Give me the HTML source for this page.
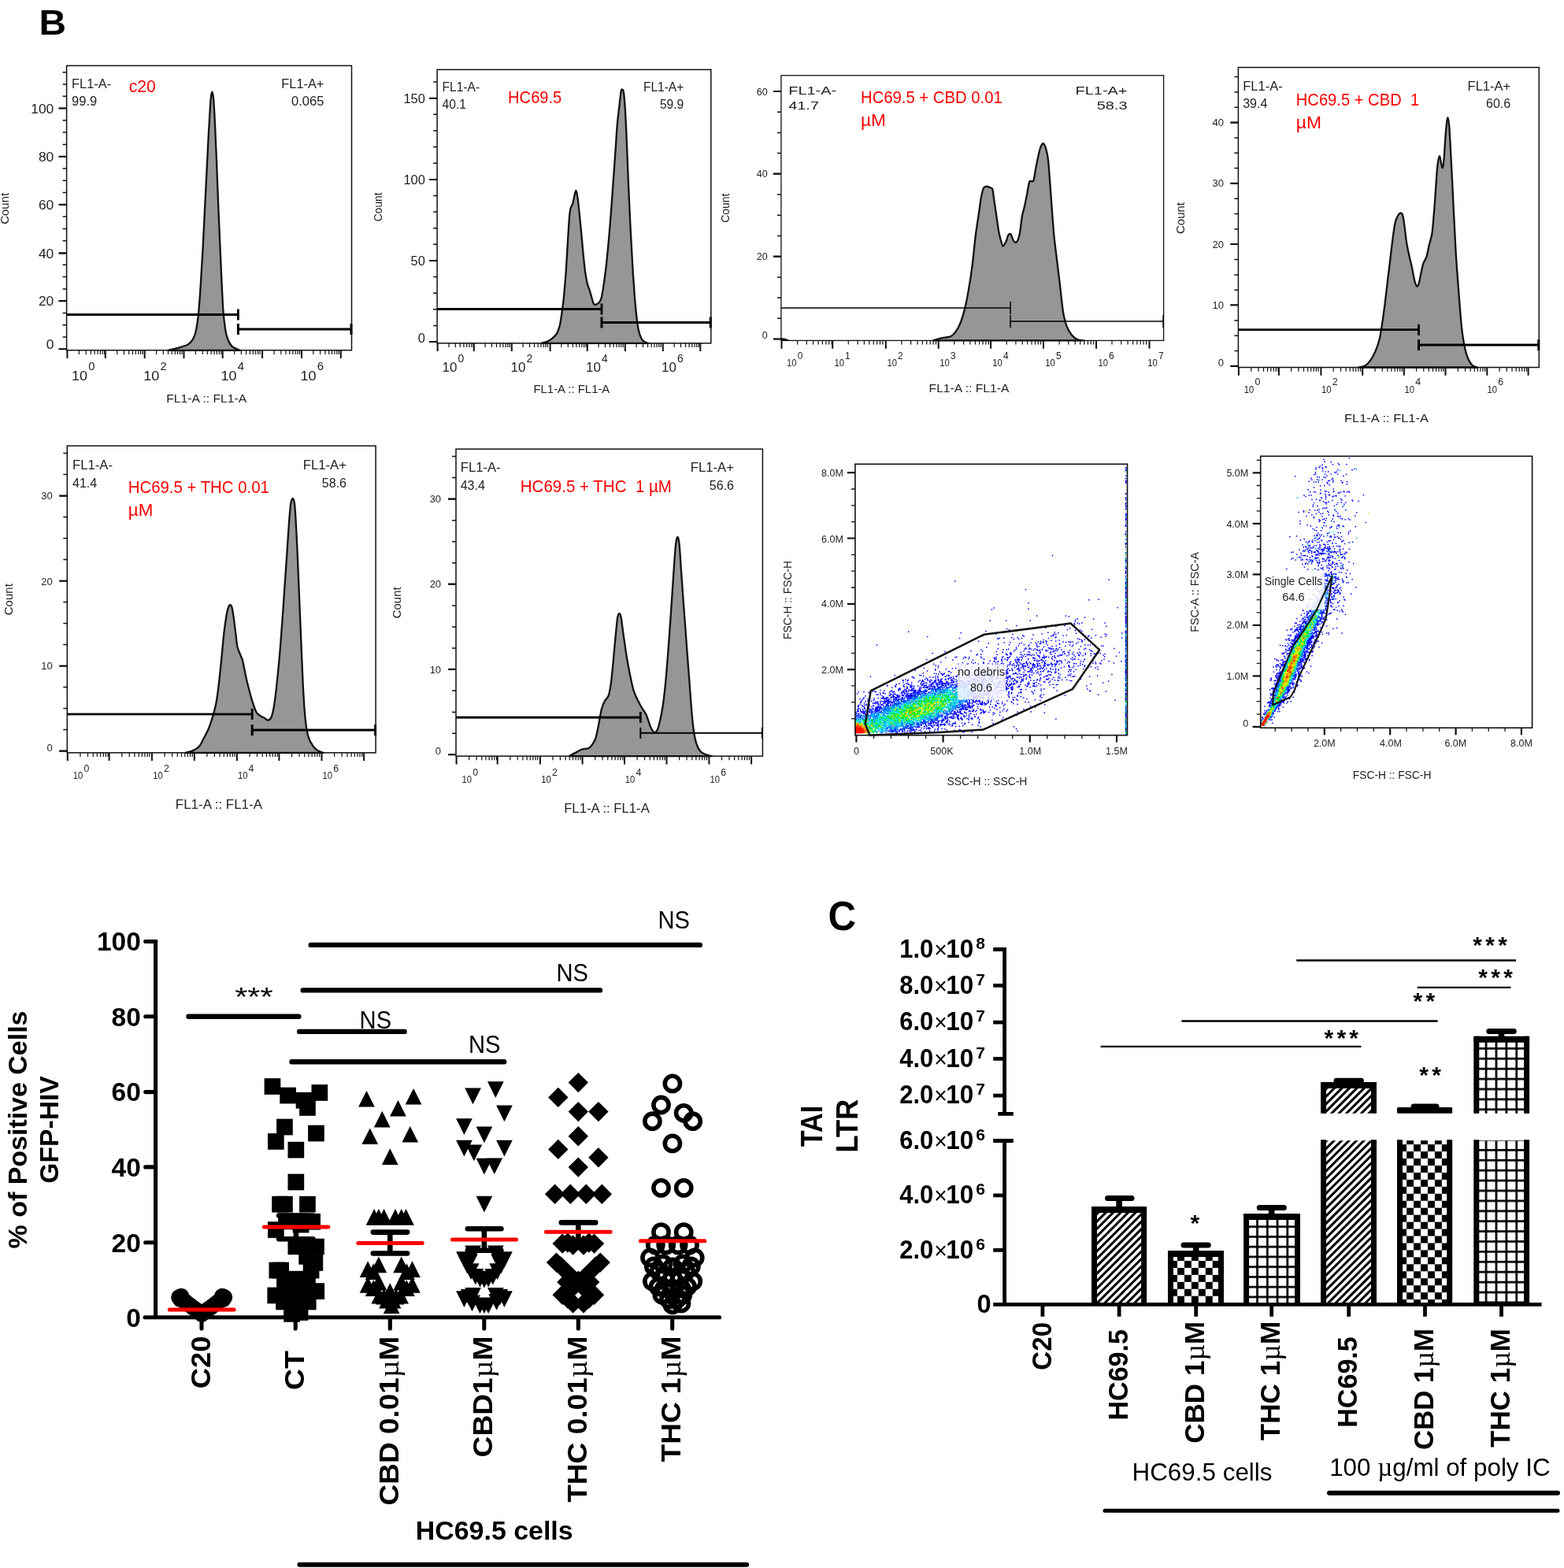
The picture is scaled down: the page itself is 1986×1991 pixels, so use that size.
<!DOCTYPE html>
<html lang="en">
<head>
<meta charset="utf-8">
<title>Figure</title>
<style>
html,body{margin:0;padding:0;background:#fff;}
body{width:1986px;height:1991px;overflow:hidden;}
svg{display:block;font-family:"Liberation Sans",sans-serif;}
</style>
</head>
<body>
<svg width="1986" height="1991" viewBox="0 0 1986 1991">
<rect width="1986" height="1991" fill="#fff"/>
<!-- hist -->
<g>
<path d="M213.6 444.8 C215.9 444.2 223.5 442.6 227.8 441.3 C232.1 440.1 236.2 439 239.2 437.1 C242.1 435.2 243.8 433 245.4 430 C247.1 426.9 248.1 423.8 249.1 418.6 C250.2 413.3 251 408.1 252 398.6 C252.9 389.1 253.9 375.9 254.8 361.6 C255.8 347.4 256.7 330.8 257.7 313.2 C258.6 295.7 259.6 275.2 260.5 256.3 C261.5 237.3 262.5 215.9 263.4 199.3 C264.2 182.7 264.9 168.9 265.7 156.6 C266.4 144.3 267 131.9 267.7 125.3 C268.3 118.6 268.8 116.7 269.4 116.7 C269.9 116.7 270.5 119.1 271.1 125.3 C271.6 131.5 272.2 141.4 272.8 153.8 C273.4 166.1 274 179.9 274.8 199.3 C275.6 218.8 276.7 247.7 277.6 270.5 C278.6 293.3 279.5 315.6 280.5 336 C281.4 356.4 282.4 379.2 283.3 392.9 C284.3 406.7 285.2 412.4 286.2 418.6 C287.1 424.7 287.6 426.4 289 430 C290.4 433.5 292.1 437.5 294.7 439.9 C297.3 442.4 303 444 304.7 444.8Z" fill="#969696" stroke="#111" stroke-width="2.3" stroke-linejoin="round"/>
<rect x="84.6" y="83.4" width="361.9" height="361.3" fill="none" stroke="#111" stroke-width="1.5"/>
<path d="M74.6 443.3H84.6M79.6 428H84.6M79.6 412.8H84.6M79.6 397.5H84.6M74.6 382.2H84.6M79.6 366.9H84.6M79.6 351.6H84.6M79.6 336.3H84.6M74.6 321H84.6M79.6 305.7H84.6M79.6 290.4H84.6M79.6 275.1H84.6M74.6 259.9H84.6M79.6 244.6H84.6M79.6 229.3H84.6M79.6 214H84.6M74.6 198.7H84.6M79.6 183.4H84.6M79.6 168.1H84.6M79.6 152.8H84.6M74.6 137.5H84.6M79.6 122.2H84.6M79.6 106.9H84.6M79.6 91.7H84.6" stroke="#111" stroke-width="1.5" fill="none"/>
<path d="M74.6 137.5H84.6M74.6 198.7H84.6M74.6 259.7H84.6M74.6 321.8H84.6M74.6 382.1H84.6M74.6 443.3H84.6" stroke="#111" stroke-width="2.1" fill="none"/>
<text x="68.3" y="143.8" font-size="17.4" text-anchor="end" fill="#222">100</text>
<text x="68.3" y="205" font-size="17.4" text-anchor="end" fill="#222">80</text>
<text x="68.3" y="265.9" font-size="17.4" text-anchor="end" fill="#222">60</text>
<text x="68.3" y="328" font-size="17.4" text-anchor="end" fill="#222">40</text>
<text x="68.3" y="388.4" font-size="17.4" text-anchor="end" fill="#222">20</text>
<text x="68.3" y="443" font-size="17.4" text-anchor="end" fill="#222">0</text>
<text transform="translate(5.4 264.8) rotate(-90)" font-size="15" text-anchor="middle" fill="#222" dy="0.36em">Count</text>
<path d="M100.4 444.8V449.9M109.1 444.8V449.9M115.3 444.8V449.9M120.1 444.8V449.9M124 444.8V449.9M127.4 444.8V449.9M130.2 444.8V449.9M132.8 444.8V449.9M148.8 444.8V449.9M157.5 444.8V449.9M163.7 444.8V449.9M168.5 444.8V449.9M172.4 444.8V449.9M175.8 444.8V449.9M178.6 444.8V449.9M181.2 444.8V449.9M198.6 444.8V449.9M207.3 444.8V449.9M213.5 444.8V449.9M218.3 444.8V449.9M222.3 444.8V449.9M225.6 444.8V449.9M228.5 444.8V449.9M231 444.8V449.9M248.4 444.8V449.9M257.2 444.8V449.9M263.4 444.8V449.9M268.2 444.8V449.9M272.1 444.8V449.9M275.4 444.8V449.9M278.3 444.8V449.9M280.8 444.8V449.9M297.7 444.8V449.9M306.4 444.8V449.9M312.6 444.8V449.9M317.4 444.8V449.9M321.4 444.8V449.9M324.7 444.8V449.9M327.6 444.8V449.9M330.1 444.8V449.9M348.1 444.8V449.9M356.8 444.8V449.9M363 444.8V449.9M367.8 444.8V449.9M371.8 444.8V449.9M375.1 444.8V449.9M378 444.8V449.9M380.5 444.8V449.9M397.9 444.8V449.9M406.7 444.8V449.9M412.9 444.8V449.9M417.7 444.8V449.9M421.6 444.8V449.9M424.9 444.8V449.9M427.8 444.8V449.9M430.3 444.8V449.9" stroke="#111" stroke-width="1.2" fill="none"/>
<path d="M85.4 444.8V455.1M133.8 444.8V455.1M183.7 444.8V455.1M233.5 444.8V455.1M282.7 444.8V455.1M333.1 444.8V455.1M383 444.8V455.1M432.8 444.8V455.1" stroke="#111" stroke-width="2" fill="none"/>
<text x="91.1" y="482.6" font-size="17.4" fill="#222" textLength="20" lengthAdjust="spacingAndGlyphs">10</text>
<text x="112.3" y="470.1" font-size="14.8" fill="#222">0</text>
<text x="182.2" y="482.6" font-size="17.4" fill="#222" textLength="20" lengthAdjust="spacingAndGlyphs">10</text>
<text x="203.4" y="470.1" font-size="14.8" fill="#222">2</text>
<text x="280.5" y="482.6" font-size="17.4" fill="#222" textLength="20" lengthAdjust="spacingAndGlyphs">10</text>
<text x="301.7" y="470.1" font-size="14.8" fill="#222">4</text>
<text x="381.5" y="482.6" font-size="17.4" fill="#222" textLength="20" lengthAdjust="spacingAndGlyphs">10</text>
<text x="402.8" y="470.1" font-size="14.8" fill="#222">6</text>
<text x="262.2" y="511.1" font-size="15.5" text-anchor="middle" fill="#222" textLength="101.9" lengthAdjust="spacingAndGlyphs">FL1-A :: FL1-A</text>
<text x="91.1" y="111.9" font-size="16.5" fill="#222" textLength="50" lengthAdjust="spacingAndGlyphs">FL1-A-</text>
<text x="91.1" y="133.8" font-size="16.5" fill="#222">99.9</text>
<text x="411.4" y="111.9" font-size="16.5" text-anchor="end" fill="#222" textLength="54.1" lengthAdjust="spacingAndGlyphs">FL1-A+</text>
<text x="411.4" y="133.8" font-size="16.5" text-anchor="end" fill="#222">0.065</text>
<text x="163.7" y="116.7" font-size="22.5" fill="#f00" textLength="34.2" lengthAdjust="spacingAndGlyphs">c20</text>
<path d="M84.6 399.5H302.4 M302.4 392.5V406.5" stroke="#000" stroke-width="2.8" fill="none"/>
<path d="M302.4 418H446.5 M302.4 411V425 M446 411V425" stroke="#000" stroke-width="3" fill="none"/>
</g>
<g>
<path d="M687.4 435.8 C688.7 435.4 692.8 434.6 695.2 433.5 C697.6 432.4 699.7 431 701.7 429.3 C703.6 427.7 705.4 426.3 706.9 423.6 C708.4 421 709.7 417.6 710.8 413.3 C711.8 408.9 712.5 403.7 713.4 397.7 C714.2 391.6 715.1 385.6 716 376.9 C716.8 368.3 717.7 357.9 718.6 345.8 C719.4 333.7 720.4 316 721.1 304.3 C721.9 292.6 722.4 282.3 723 275.7 C723.5 269.2 723.8 267.7 724.5 264.8 C725.2 262 726.3 261.4 727.1 258.9 C727.9 256.4 728.5 252.6 729.2 249.8 C729.9 247 730.6 242 731.3 242 C732 242 732.7 245.5 733.3 249.8 C734 254.1 734.6 260.6 735.4 268 C736.2 275.3 737.1 284.8 738 293.9 C738.9 303 739.7 313.8 740.6 322.4 C741.5 331.1 742.3 339.5 743.2 345.8 C744.1 352.1 744.8 356.2 745.8 360.1 C746.7 364 747.9 365.9 748.9 369.1 C749.9 372.4 750.9 376.7 751.8 379.5 C752.6 382.3 753.3 384.8 754.1 386 C754.9 387.2 755.5 387.2 756.7 386.8 C757.9 386.4 760.2 385.1 761.4 383.4 C762.6 381.8 763.1 380.6 764 376.9 C764.8 373.3 765.6 367.9 766.6 361.4 C767.5 354.9 768.6 347.5 769.7 338 C770.7 328.5 771.9 316.8 773 304.3 C774.2 291.7 775.4 275.7 776.4 262.8 C777.4 249.8 778.1 238.5 779 226.4 C779.9 214.3 780.8 201.4 781.6 190.1 C782.4 178.9 782.9 168.1 783.7 159 C784.5 149.9 785.5 142.8 786.3 135.6 C787.1 128.5 787.9 119.8 788.6 116.2 C789.3 112.5 789.9 113.6 790.4 113.8 C791 114 791.4 113.4 792 117.5 C792.5 121.5 793.2 128.7 793.8 138.2 C794.4 147.7 795 159.8 795.6 174.5 C796.3 189.2 797 210 797.7 226.4 C798.4 242.9 799 257.1 799.8 273.1 C800.5 289.1 801.5 307.3 802.4 322.4 C803.2 337.6 804.1 351.9 805 364 C805.8 376.1 806.6 386 807.6 395.1 C808.5 404.2 809.5 412.6 810.7 418.4 C811.8 424.3 813.3 427.5 814.6 430.1 C815.9 432.7 816.9 433.1 818.4 434 C820 435 822.8 435.5 823.6 435.8Z" fill="#969696" stroke="#111" stroke-width="2.3" stroke-linejoin="round"/>
<rect x="555.1" y="88.4" width="347.7" height="347.4" fill="none" stroke="#111" stroke-width="1.5"/>
<path d="M545.1 434H555.1M550.1 413.4H555.1M550.1 392.8H555.1M550.1 372.2H555.1M550.1 351.5H555.1M545.1 330.9H555.1M550.1 310.3H555.1M550.1 289.7H555.1M550.1 269.1H555.1M550.1 248.4H555.1M545.1 227.8H555.1M550.1 207.2H555.1M550.1 186.6H555.1M550.1 166H555.1M550.1 145.3H555.1M545.1 124.7H555.1M550.1 104.1H555.1" stroke="#111" stroke-width="1.5" fill="none"/>
<path d="M545.1 124.7H555.1M545.1 228H555.1M545.1 331H555.1M545.1 434H555.1" stroke="#111" stroke-width="2.1" fill="none"/>
<text x="539.8" y="130.6" font-size="16.4" text-anchor="end" fill="#222">150</text>
<text x="539.8" y="233.9" font-size="16.4" text-anchor="end" fill="#222">100</text>
<text x="539.8" y="336.9" font-size="16.4" text-anchor="end" fill="#222">50</text>
<text x="539.8" y="434.7" font-size="16.4" text-anchor="end" fill="#222">0</text>
<text transform="translate(479.8 262.8) rotate(-90)" font-size="13.8" text-anchor="middle" fill="#222" dy="0.36em">Count</text>
<path d="M570 435.8V441M578.3 435.8V441M584.3 435.8V441M588.9 435.8V441M592.7 435.8V441M595.9 435.8V441M598.7 435.8V441M601.1 435.8V441M616.1 435.8V441M624.5 435.8V441M630.5 435.8V441M635.1 435.8V441M638.9 435.8V441M642.1 435.8V441M644.8 435.8V441M647.3 435.8V441M664.1 435.8V441M672.5 435.8V441M678.5 435.8V441M683.1 435.8V441M686.9 435.8V441M690.1 435.8V441M692.8 435.8V441M695.3 435.8V441M712.9 435.8V441M721.3 435.8V441M727.3 435.8V441M731.9 435.8V441M735.7 435.8V441M738.9 435.8V441M741.6 435.8V441M744.1 435.8V441M760.1 435.8V441M768.5 435.8V441M774.5 435.8V441M779.1 435.8V441M782.9 435.8V441M786.1 435.8V441M788.8 435.8V441M791.3 435.8V441M808.1 435.8V441M816.5 435.8V441M822.5 435.8V441M827.1 435.8V441M830.9 435.8V441M834.1 435.8V441M836.8 435.8V441M839.3 435.8V441M856.2 435.8V441M864.5 435.8V441M870.5 435.8V441M875.1 435.8V441M878.9 435.8V441M882.1 435.8V441M884.8 435.8V441M887.3 435.8V441" stroke="#111" stroke-width="1.2" fill="none"/>
<path d="M555.6 435.8V446.1M601.8 435.8V446.1M649.8 435.8V446.1M698.6 435.8V446.1M745.8 435.8V446.1M793.8 435.8V446.1M841.8 435.8V446.1M889.3 435.8V446.1" stroke="#111" stroke-width="2" fill="none"/>
<text x="561.6" y="471.6" font-size="16.4" fill="#222" textLength="18.9" lengthAdjust="spacingAndGlyphs">10</text>
<text x="581.6" y="459.8" font-size="13.9" fill="#222">0</text>
<text x="648.5" y="471.6" font-size="16.4" fill="#222" textLength="18.9" lengthAdjust="spacingAndGlyphs">10</text>
<text x="668.6" y="459.8" font-size="13.9" fill="#222">2</text>
<text x="744" y="471.6" font-size="16.4" fill="#222" textLength="18.9" lengthAdjust="spacingAndGlyphs">10</text>
<text x="764" y="459.8" font-size="13.9" fill="#222">4</text>
<text x="840" y="471.6" font-size="16.4" fill="#222" textLength="18.9" lengthAdjust="spacingAndGlyphs">10</text>
<text x="860" y="459.8" font-size="13.9" fill="#222">6</text>
<text x="725.9" y="498.9" font-size="15" text-anchor="middle" fill="#222" textLength="96.8" lengthAdjust="spacingAndGlyphs">FL1-A :: FL1-A</text>
<text x="561.6" y="116.2" font-size="15.6" fill="#222" textLength="47.5" lengthAdjust="spacingAndGlyphs">FL1-A-</text>
<text x="561.6" y="138.2" font-size="15.6" fill="#222">40.1</text>
<text x="868.3" y="116.2" font-size="15.6" text-anchor="end" fill="#222" textLength="51.4" lengthAdjust="spacingAndGlyphs">FL1-A+</text>
<text x="868.3" y="138.2" font-size="15.6" text-anchor="end" fill="#222">59.9</text>
<text x="645.1" y="131" font-size="22.5" fill="#f00" textLength="68.2" lengthAdjust="spacingAndGlyphs">HC69.5</text>
<path d="M555.1 392.5H764 M764 385.5V399.5" stroke="#000" stroke-width="2.8" fill="none"/>
<path d="M764 409.6H902.8 M764 402.6V416.6 M902.3 402.6V416.6" stroke="#000" stroke-width="3" fill="none"/>
</g>
<g>
<path d="M1184.9 432.4 C1186.4 431.9 1192.9 429.9 1195.8 429.2 C1198.7 428.6 1204.4 428.3 1206.7 427.4 C1209 426.4 1211.3 424.2 1212.9 422.1 C1214.6 419.9 1217.5 415.3 1219.1 411.2 C1220.8 407 1223.9 396.8 1225.4 390.9 C1226.8 385.1 1228.8 374.9 1230 367.6 C1231.3 360.3 1233.6 345.6 1234.7 336.5 C1235.9 327.3 1237.7 307.4 1238.8 299.1 C1239.8 290.8 1241.6 280.4 1242.5 274.2 C1243.4 268 1244.8 257 1245.6 252.4 C1246.4 247.7 1247.9 241.4 1248.7 239.3 C1249.6 237.2 1250.8 237 1251.8 236.8 C1252.9 236.6 1255.4 237.3 1256.5 237.8 C1257.6 238.2 1259.5 238 1260.2 239.9 C1261 241.9 1261.5 248.2 1262.1 252.4 C1262.7 256.5 1264.1 265.7 1264.9 271.1 C1265.7 276.5 1267.3 288.5 1268 292.9 C1268.8 297.2 1269.8 301.1 1270.5 303.8 C1271.3 306.4 1272.7 312.1 1273.6 312.5 C1274.6 312.9 1276.5 308.8 1277.4 306.9 C1278.3 305 1279.7 299.4 1280.5 298.2 C1281.3 296.9 1282.8 296.6 1283.6 297.5 C1284.4 298.5 1285.9 303.9 1286.7 305.3 C1287.5 306.7 1289 308 1289.8 307.8 C1290.7 307.6 1292.2 305.8 1292.9 303.8 C1293.7 301.8 1294.8 296.8 1295.4 292.9 C1296.1 288.9 1297.2 278.3 1297.9 274.2 C1298.7 270 1300.2 265.5 1301 261.7 C1301.9 258 1303.3 250.3 1304.2 246.2 C1305 242 1306.2 232.8 1307.3 230.6 C1308.3 228.4 1311.2 231.7 1312.2 229.7 C1313.3 227.6 1314.2 219.5 1315 215 C1315.9 210.6 1317.9 200.3 1318.8 196.3 C1319.7 192.4 1321.1 187.3 1321.9 185.4 C1322.7 183.6 1324.2 181.9 1325 182.3 C1325.8 182.7 1327.3 185.9 1328.1 188.6 C1328.9 191.3 1330.2 196.5 1330.9 202.6 C1331.6 208.6 1332.8 225 1333.4 233.7 C1334.1 242.4 1335.2 259.2 1335.9 268 C1336.6 276.7 1337.6 290.8 1338.4 299.1 C1339.2 307.4 1341.1 321.9 1342.1 330.2 C1343.1 338.5 1344.8 352.6 1345.9 361.4 C1346.9 370.1 1348.8 388.6 1349.9 395.6 C1351.1 402.7 1353.1 410.4 1354.6 414.3 C1356 418.2 1359 422.9 1360.8 425.2 C1362.7 427.5 1366.5 430.5 1368.6 431.4 C1370.7 432.4 1375.4 432.2 1376.4 432.4Z" fill="#969696" stroke="#111" stroke-width="2.3" stroke-linejoin="round"/>
<path d="M991.9 429.6 L997.1 430.2 L1002.1 432.4 L991.9 432.4Z" fill="#111" stroke="#111" stroke-width="1"/>
<rect x="991.9" y="95.8" width="485.7" height="336.6" fill="none" stroke="#111" stroke-width="1.3"/>
<path d="M981.9 430.5H991.9M986.9 404.3H991.9M986.9 378.1H991.9M986.9 351.9H991.9M981.9 325.7H991.9M986.9 299.5H991.9M986.9 273.2H991.9M986.9 247H991.9M981.9 220.8H991.9M986.9 194.6H991.9M986.9 168.4H991.9M986.9 142.2H991.9M981.9 116H991.9" stroke="#111" stroke-width="1.5" fill="none"/>
<path d="M981.9 116H991.9M981.9 220.6H991.9M981.9 325.6H991.9M981.9 430.5H991.9" stroke="#111" stroke-width="2.1" fill="none"/>
<text x="974.7" y="120.5" font-size="12.5" text-anchor="end" fill="#222">60</text>
<text x="974.7" y="225.1" font-size="12.5" text-anchor="end" fill="#222">40</text>
<text x="974.7" y="330.1" font-size="12.5" text-anchor="end" fill="#222">20</text>
<text x="974.7" y="430.4" font-size="12.5" text-anchor="end" fill="#222">0</text>
<text transform="translate(921.2 264.2) rotate(-90)" font-size="14" text-anchor="middle" fill="#222" dy="0.36em">Count</text>
<path d="M1012.6 432.4V437.5M1024.3 432.4V437.5M1032.6 432.4V437.5M1039.1 432.4V437.5M1044.4 432.4V437.5M1048.9 432.4V437.5M1052.7 432.4V437.5M1056.1 432.4V437.5M1077.3 432.4V437.5M1089.1 432.4V437.5M1097.4 432.4V437.5M1103.9 432.4V437.5M1109.2 432.4V437.5M1113.6 432.4V437.5M1117.5 432.4V437.5M1120.9 432.4V437.5M1144.9 432.4V437.5M1156.6 432.4V437.5M1165 432.4V437.5M1171.4 432.4V437.5M1176.7 432.4V437.5M1181.2 432.4V437.5M1185.1 432.4V437.5M1188.5 432.4V437.5M1211.8 432.4V437.5M1223.6 432.4V437.5M1231.9 432.4V437.5M1238.4 432.4V437.5M1243.7 432.4V437.5M1248.1 432.4V437.5M1252 432.4V437.5M1255.4 432.4V437.5M1278.2 432.4V437.5M1289.9 432.4V437.5M1298.2 432.4V437.5M1304.7 432.4V437.5M1310 432.4V437.5M1314.5 432.4V437.5M1318.3 432.4V437.5M1321.7 432.4V437.5M1345.1 432.4V437.5M1356.8 432.4V437.5M1365.2 432.4V437.5M1371.6 432.4V437.5M1376.9 432.4V437.5M1381.4 432.4V437.5M1385.3 432.4V437.5M1388.7 432.4V437.5M1412 432.4V437.5M1423.8 432.4V437.5M1432.1 432.4V437.5M1438.6 432.4V437.5M1443.9 432.4V437.5M1448.3 432.4V437.5M1452.2 432.4V437.5M1455.6 432.4V437.5" stroke="#111" stroke-width="1.2" fill="none"/>
<path d="M992.5 432.4V442.7M1057.2 432.4V442.7M1124.8 432.4V442.7M1191.7 432.4V442.7M1258.1 432.4V442.7M1325 432.4V442.7M1392 432.4V442.7M1459.5 432.4V442.7" stroke="#111" stroke-width="2" fill="none"/>
<text x="999" y="464.7" font-size="12.5" fill="#222" textLength="12.5" lengthAdjust="spacingAndGlyphs">10</text>
<text x="1012.7" y="455.7" font-size="11.9" fill="#222">0</text>
<text x="1059.4" y="464.7" font-size="12.5" fill="#222" textLength="12.5" lengthAdjust="spacingAndGlyphs">10</text>
<text x="1073.1" y="455.7" font-size="11.9" fill="#222">1</text>
<text x="1126.4" y="464.7" font-size="12.5" fill="#222" textLength="12.5" lengthAdjust="spacingAndGlyphs">10</text>
<text x="1140.1" y="455.7" font-size="11.9" fill="#222">2</text>
<text x="1193.3" y="464.7" font-size="12.5" fill="#222" textLength="12.5" lengthAdjust="spacingAndGlyphs">10</text>
<text x="1207" y="455.7" font-size="11.9" fill="#222">3</text>
<text x="1260.2" y="464.7" font-size="12.5" fill="#222" textLength="12.5" lengthAdjust="spacingAndGlyphs">10</text>
<text x="1273.9" y="455.7" font-size="11.9" fill="#222">4</text>
<text x="1327.2" y="464.7" font-size="12.5" fill="#222" textLength="12.5" lengthAdjust="spacingAndGlyphs">10</text>
<text x="1340.9" y="455.7" font-size="11.9" fill="#222">5</text>
<text x="1394.4" y="464.7" font-size="12.5" fill="#222" textLength="12.5" lengthAdjust="spacingAndGlyphs">10</text>
<text x="1408.1" y="455.7" font-size="11.9" fill="#222">6</text>
<text x="1457.3" y="464.7" font-size="12.5" fill="#222" textLength="12.5" lengthAdjust="spacingAndGlyphs">10</text>
<text x="1471" y="455.7" font-size="11.9" fill="#222">7</text>
<text x="1230.5" y="498.4" font-size="14" text-anchor="middle" fill="#222" textLength="101.8" lengthAdjust="spacingAndGlyphs">FL1-A :: FL1-A</text>
<text x="1001.2" y="120.1" font-size="15" fill="#222" textLength="61" lengthAdjust="spacingAndGlyphs">FL1-A-</text>
<text x="1001.2" y="138.7" font-size="15" fill="#222" textLength="38.8" lengthAdjust="spacingAndGlyphs">41.7</text>
<text x="1431.5" y="120.1" font-size="15" text-anchor="end" fill="#222" textLength="66" lengthAdjust="spacingAndGlyphs">FL1-A+</text>
<text x="1431.5" y="138.7" font-size="15" text-anchor="end" fill="#222" textLength="38.8" lengthAdjust="spacingAndGlyphs">58.3</text>
<text x="1093" y="131" font-size="22.5" fill="#f00" textLength="179.7" lengthAdjust="spacingAndGlyphs">HC69.5 + CBD 0.01</text>
<text x="1093" y="159.6" font-size="22.5" fill="#f00" textLength="31.8" lengthAdjust="spacingAndGlyphs">µM</text>
<path d="M991.9 390.9H1283 M1283 382.9V398.9" stroke="#000" stroke-width="1.5" fill="none"/>
<path d="M1283 408.1H1477.6 M1283 400.1V416.1 M1477.1 400.1V416.1" stroke="#000" stroke-width="1.5" fill="none"/>
</g>
<g>
<path d="M1725.5 466.5 C1726.5 466.2 1731.5 465.6 1733.4 464.4 C1735.3 463.2 1738.2 460.3 1740 457.8 C1741.8 455.3 1745 449.6 1746.6 445.9 C1748.2 442.2 1750.6 435.4 1751.9 430.1 C1753.1 424.8 1754.8 413 1755.8 406.3 C1756.8 399.7 1758.4 387 1759.3 379.9 C1760.1 372.9 1761.6 360.6 1762.4 353.5 C1763.3 346.5 1764.8 334.2 1765.6 327.2 C1766.4 320.1 1768 306.7 1768.8 300.8 C1769.6 294.8 1770.8 285.9 1771.7 282.3 C1772.5 278.7 1774.2 275.4 1775.1 273.8 C1776.1 272.2 1778 270.3 1778.8 270.4 C1779.6 270.5 1780.8 272.1 1781.4 274.4 C1782.1 276.6 1782.9 283 1783.5 287.6 C1784.2 292.1 1785.4 303.7 1786.2 308.7 C1787 313.6 1788.5 320.5 1789.4 324.5 C1790.2 328.6 1791.9 334.8 1792.8 339 C1793.7 343.3 1795.3 352.9 1796.2 356.2 C1797.1 359.5 1798.6 363.2 1799.4 363.6 C1800.2 363.9 1801.3 361.2 1802 358.8 C1802.7 356.4 1804 348.9 1804.7 345.6 C1805.4 342.4 1806.4 337.2 1807.3 334.5 C1808.2 331.9 1810.5 328.9 1811.5 325.8 C1812.5 322.7 1813.8 315.2 1814.7 311.3 C1815.6 307.4 1817.5 302.4 1818.4 296.8 C1819.2 291.2 1820.4 276.6 1821 269.1 C1821.7 261.5 1822.6 247.8 1823.1 240 C1823.7 232.3 1824.6 216.6 1825.3 211 C1825.9 205.5 1827.3 198.9 1827.9 198.3 C1828.5 197.8 1829.5 205.1 1830 207.1 C1830.5 209 1831.4 214 1831.9 213.1 C1832.3 212.2 1833.2 206.4 1833.7 200.5 C1834.2 194.5 1835.2 175.6 1835.8 168.8 C1836.4 162 1837.6 150.6 1838.2 149.5 C1838.8 148.5 1839.8 155.1 1840.3 160.9 C1840.8 166.6 1841.6 182.7 1842.1 192.5 C1842.7 202.4 1843.7 223.5 1844.3 234.8 C1844.8 246 1845.8 265.4 1846.4 277 C1847 288.6 1848 309.6 1848.7 321.9 C1849.5 334.2 1851.2 357.1 1852.2 369.4 C1853.1 381.7 1854.9 404.9 1855.9 414.3 C1856.9 423.6 1858.5 433.9 1859.6 439.3 C1860.7 444.8 1862.6 451.8 1864.1 455.2 C1865.5 458.5 1868.5 462.9 1870.1 464.4 C1871.7 465.9 1875.2 466.2 1875.9 466.5Z" fill="#969696" stroke="#111" stroke-width="2.3" stroke-linejoin="round"/>
<rect x="1572.4" y="85.6" width="381.9" height="380.9" fill="none" stroke="#111" stroke-width="1.5"/>
<path d="M1562.4 464.9H1572.4M1567.4 445.6H1572.4M1567.4 426.3H1572.4M1567.4 406.9H1572.4M1562.4 387.6H1572.4M1567.4 368.3H1572.4M1567.4 348.9H1572.4M1567.4 329.6H1572.4M1562.4 310.3H1572.4M1567.4 290.9H1572.4M1567.4 271.6H1572.4M1567.4 252.3H1572.4M1562.4 232.9H1572.4M1567.4 213.6H1572.4M1567.4 194.3H1572.4M1567.4 174.9H1572.4M1562.4 155.6H1572.4M1567.4 136.2H1572.4M1567.4 116.9H1572.4M1567.4 97.6H1572.4" stroke="#111" stroke-width="1.5" fill="none"/>
<path d="M1562.4 155.6H1572.4M1562.4 232.7H1572.4M1562.4 310H1572.4M1562.4 387.3H1572.4M1562.4 464.9H1572.4" stroke="#111" stroke-width="2.1" fill="none"/>
<text x="1553.9" y="160.3" font-size="13" text-anchor="end" fill="#222">40</text>
<text x="1553.9" y="237.3" font-size="13" text-anchor="end" fill="#222">30</text>
<text x="1553.9" y="314.7" font-size="13" text-anchor="end" fill="#222">20</text>
<text x="1553.9" y="392" font-size="13" text-anchor="end" fill="#222">10</text>
<text x="1553.9" y="465" font-size="13" text-anchor="end" fill="#222">0</text>
<text transform="translate(1499 277) rotate(-90)" font-size="15" text-anchor="middle" fill="#222" dy="0.36em">Count</text>
<path d="M1588.7 466.5V471.7M1598 466.5V471.7M1604.5 466.5V471.7M1609.6 466.5V471.7M1613.8 466.5V471.7M1617.3 466.5V471.7M1620.3 466.5V471.7M1623 466.5V471.7M1639.7 466.5V471.7M1648.9 466.5V471.7M1655.5 466.5V471.7M1660.6 466.5V471.7M1664.7 466.5V471.7M1668.2 466.5V471.7M1671.3 466.5V471.7M1674 466.5V471.7M1693.2 466.5V471.7M1702.5 466.5V471.7M1709.1 466.5V471.7M1714.2 466.5V471.7M1718.3 466.5V471.7M1721.8 466.5V471.7M1724.9 466.5V471.7M1727.6 466.5V471.7M1746 466.5V471.7M1755.3 466.5V471.7M1761.9 466.5V471.7M1766.9 466.5V471.7M1771.1 466.5V471.7M1774.6 466.5V471.7M1777.7 466.5V471.7M1780.4 466.5V471.7M1798.6 466.5V471.7M1807.8 466.5V471.7M1814.4 466.5V471.7M1819.5 466.5V471.7M1823.6 466.5V471.7M1827.1 466.5V471.7M1830.2 466.5V471.7M1832.9 466.5V471.7M1851.4 466.5V471.7M1860.6 466.5V471.7M1867.2 466.5V471.7M1872.3 466.5V471.7M1876.4 466.5V471.7M1879.9 466.5V471.7M1883 466.5V471.7M1885.7 466.5V471.7M1904.1 466.5V471.7M1913.4 466.5V471.7M1920 466.5V471.7M1925.1 466.5V471.7M1929.2 466.5V471.7M1932.7 466.5V471.7M1935.8 466.5V471.7M1938.5 466.5V471.7" stroke="#111" stroke-width="1.2" fill="none"/>
<path d="M1572.9 466.5V476.8M1623.9 466.5V476.8M1677.4 466.5V476.8M1730.2 466.5V476.8M1782.8 466.5V476.8M1835.5 466.5V476.8M1888.3 466.5V476.8M1940.6 466.5V476.8" stroke="#111" stroke-width="2" fill="none"/>
<text x="1579.8" y="498.7" font-size="13" fill="#222" textLength="12.5" lengthAdjust="spacingAndGlyphs">10</text>
<text x="1593.5" y="489.4" font-size="12.3" fill="#222">0</text>
<text x="1678" y="498.7" font-size="13" fill="#222" textLength="12.5" lengthAdjust="spacingAndGlyphs">10</text>
<text x="1691.7" y="489.4" font-size="12.3" fill="#222">2</text>
<text x="1783.5" y="498.7" font-size="13" fill="#222" textLength="12.5" lengthAdjust="spacingAndGlyphs">10</text>
<text x="1797.2" y="489.4" font-size="12.3" fill="#222">4</text>
<text x="1888.6" y="498.7" font-size="13" fill="#222" textLength="12.5" lengthAdjust="spacingAndGlyphs">10</text>
<text x="1902.3" y="489.4" font-size="12.3" fill="#222">6</text>
<text x="1760.5" y="535.7" font-size="15.5" text-anchor="middle" fill="#222" textLength="106.9" lengthAdjust="spacingAndGlyphs">FL1-A :: FL1-A</text>
<text x="1578.2" y="114.7" font-size="16" fill="#222" textLength="50.5" lengthAdjust="spacingAndGlyphs">FL1-A-</text>
<text x="1578.2" y="136.6" font-size="16" fill="#222">39.4</text>
<text x="1918.2" y="114.7" font-size="16" text-anchor="end" fill="#222" textLength="54.6" lengthAdjust="spacingAndGlyphs">FL1-A+</text>
<text x="1918.2" y="136.6" font-size="16" text-anchor="end" fill="#222">60.6</text>
<text x="1645.8" y="133.9" font-size="22.5" fill="#f00" textLength="156.3" lengthAdjust="spacingAndGlyphs">HC69.5 + CBD  1</text>
<text x="1645.8" y="163" font-size="22.5" fill="#f00" textLength="32.2" lengthAdjust="spacingAndGlyphs">µM</text>
<path d="M1572.4 418.7H1801.5 M1801.5 411.7V425.7" stroke="#000" stroke-width="2.8" fill="none"/>
<path d="M1801.5 438H1954.3 M1801.5 431V445 M1953.8 431V445" stroke="#000" stroke-width="3" fill="none"/>
</g>
<g>
<path d="M235.5 955.8 C236.7 955.4 242.6 954.2 244.9 953.1 C247.2 952 251.2 949.7 253 947.7 C254.8 945.7 256.7 941.3 258.3 938.3 C260 935.2 263.5 928.8 265.1 924.8 C266.7 920.9 269.1 913.3 270.5 908.7 C271.8 904 274 895.9 275 889.8 C276.1 883.7 277.6 870.8 278.5 862.9 C279.4 855 281 838.5 281.8 830.6 C282.5 822.7 283.7 810.2 284.4 803.7 C285.2 797.3 286.7 786.6 287.4 782.2 C288.2 777.8 289.4 772.8 290.1 770.9 C290.8 769 291.9 768.1 292.5 768.2 C293.1 768.3 294.1 769.7 294.7 772 C295.2 774.2 296.2 780.7 296.8 784.9 C297.4 789.1 298.6 798.9 299.2 803.7 C299.9 808.6 300.6 817.6 301.4 821.2 C302.2 824.8 304 828.3 304.9 830.6 C305.8 833 307.2 835.3 308.1 838.7 C309 842.1 310.7 851.7 311.6 856.2 C312.6 860.7 314.2 867.9 315.4 872.3 C316.5 876.8 318.9 885.5 320.2 889.8 C321.6 894.1 324 901.9 325.6 904.6 C327.2 907.3 330.9 909.1 332.3 910 C333.8 911 335.3 911.3 336.4 911.9 C337.5 912.5 339.3 914.7 340.4 914.6 C341.5 914.5 343.5 913.1 344.5 910.8 C345.4 908.6 346.8 903.2 347.7 897.9 C348.6 892.6 350.3 879.3 351.2 871 C352.1 862.7 353.8 846.1 354.7 836 C355.6 826 357.1 807.1 357.9 795.7 C358.8 784.2 360.3 761.7 361.1 749.9 C362 738.1 363.3 718 364.1 706.8 C364.9 695.7 366.1 675.5 366.8 666.5 C367.5 657.5 368.5 644.1 369.2 639.6 C369.9 635.1 371.3 632.8 371.9 632.8 C372.6 632.9 373.5 635.6 374.1 640.1 C374.6 644.6 375.4 656.9 375.9 666.5 C376.5 676.1 377.5 699.3 378.1 712.2 C378.7 725.1 379.6 748.6 380.2 763.4 C380.9 778.1 382 806.8 382.7 822.6 C383.4 838.3 384.6 869.2 385.4 881.8 C386.1 894.3 387.2 909.6 388.1 916.7 C388.9 923.9 390.3 931.5 391.6 935.6 C392.8 939.7 396.1 945.4 397.7 947.7 C399.4 950 402 952 403.7 953.1 C405.3 954.2 409.5 955.4 410.4 955.8Z" fill="#969696" stroke="#111" stroke-width="2.3" stroke-linejoin="round"/>
<rect x="85.3" y="566.1" width="391.8" height="389.7" fill="none" stroke="#111" stroke-width="1.5"/>
<path d="M75.3 953.6H85.3M80.3 926.6H85.3M80.3 899.6H85.3M80.3 872.6H85.3M75.3 845.6H85.3M80.3 818.6H85.3M80.3 791.6H85.3M80.3 764.6H85.3M75.3 737.6H85.3M80.3 710.6H85.3M80.3 683.6H85.3M80.3 656.6H85.3M75.3 629.6H85.3M80.3 602.6H85.3M80.3 575.6H85.3" stroke="#111" stroke-width="1.5" fill="none"/>
<path d="M75.3 629.6H85.3M75.3 737.8H85.3M75.3 845.7H85.3M75.3 953.6H85.3" stroke="#111" stroke-width="2.1" fill="none"/>
<text x="66.7" y="634.3" font-size="13" text-anchor="end" fill="#222">30</text>
<text x="66.7" y="742.5" font-size="13" text-anchor="end" fill="#222">20</text>
<text x="66.7" y="850.4" font-size="13" text-anchor="end" fill="#222">10</text>
<text x="66.7" y="953.7" font-size="13" text-anchor="end" fill="#222">0</text>
<text transform="translate(10.8 761.2) rotate(-90)" font-size="15" text-anchor="middle" fill="#222" dy="0.36em">Count</text>
<path d="M102 955.8V960.9M111.5 955.8V960.9M118.2 955.8V960.9M123.4 955.8V960.9M127.7 955.8V960.9M131.3 955.8V960.9M134.4 955.8V960.9M137.1 955.8V960.9M154.8 955.8V960.9M164.2 955.8V960.9M170.9 955.8V960.9M176.2 955.8V960.9M180.4 955.8V960.9M184 955.8V960.9M187.1 955.8V960.9M189.9 955.8V960.9M209.1 955.8V960.9M218.6 955.8V960.9M225.3 955.8V960.9M230.5 955.8V960.9M234.8 955.8V960.9M238.4 955.8V960.9M241.5 955.8V960.9M244.2 955.8V960.9M262.9 955.8V960.9M272.4 955.8V960.9M279.1 955.8V960.9M284.3 955.8V960.9M288.6 955.8V960.9M292.2 955.8V960.9M295.3 955.8V960.9M298.1 955.8V960.9M317 955.8V960.9M326.5 955.8V960.9M333.2 955.8V960.9M338.4 955.8V960.9M342.7 955.8V960.9M346.3 955.8V960.9M349.4 955.8V960.9M352.1 955.8V960.9M370.6 955.8V960.9M380.1 955.8V960.9M386.8 955.8V960.9M392 955.8V960.9M396.2 955.8V960.9M399.8 955.8V960.9M402.9 955.8V960.9M405.7 955.8V960.9M424.7 955.8V960.9M434.1 955.8V960.9M440.9 955.8V960.9M446.1 955.8V960.9M450.3 955.8V960.9M453.9 955.8V960.9M457 955.8V960.9M459.8 955.8V960.9" stroke="#111" stroke-width="1.2" fill="none"/>
<path d="M85.8 955.8V966.1M138.6 955.8V966.1M192.9 955.8V966.1M246.8 955.8V966.1M300.9 955.8V966.1M354.4 955.8V966.1M408.5 955.8V966.1M462.1 955.8V966.1" stroke="#111" stroke-width="2" fill="none"/>
<text x="92.8" y="989.4" font-size="13" fill="#222" textLength="12.5" lengthAdjust="spacingAndGlyphs">10</text>
<text x="106.5" y="980" font-size="12.3" fill="#222">0</text>
<text x="194.3" y="989.4" font-size="13" fill="#222" textLength="12.5" lengthAdjust="spacingAndGlyphs">10</text>
<text x="208" y="980" font-size="12.3" fill="#222">2</text>
<text x="301.9" y="989.4" font-size="13" fill="#222" textLength="12.5" lengthAdjust="spacingAndGlyphs">10</text>
<text x="315.6" y="980" font-size="12.3" fill="#222">4</text>
<text x="409.6" y="989.4" font-size="13" fill="#222" textLength="12.5" lengthAdjust="spacingAndGlyphs">10</text>
<text x="423.3" y="980" font-size="12.3" fill="#222">6</text>
<text x="277.9" y="1027.1" font-size="16" text-anchor="middle" fill="#222" textLength="110.1" lengthAdjust="spacingAndGlyphs">FL1-A :: FL1-A</text>
<text x="92" y="596" font-size="16" fill="#222" textLength="51" lengthAdjust="spacingAndGlyphs">FL1-A-</text>
<text x="92" y="618.6" font-size="16" fill="#222">41.4</text>
<text x="440" y="596" font-size="16" text-anchor="end" fill="#222" textLength="55.2" lengthAdjust="spacingAndGlyphs">FL1-A+</text>
<text x="440" y="618.6" font-size="16" text-anchor="end" fill="#222">58.6</text>
<text x="162.8" y="625.6" font-size="22.5" fill="#f00" textLength="179" lengthAdjust="spacingAndGlyphs">HC69.5 + THC 0.01</text>
<text x="162.8" y="655.2" font-size="22.5" fill="#f00" textLength="31.5" lengthAdjust="spacingAndGlyphs">µM</text>
<path d="M85.3 906.8H320.2 M320.2 899.8V913.8" stroke="#000" stroke-width="2.8" fill="none"/>
<path d="M320.2 927H477.1 M320.2 920V934 M476.6 920V934" stroke="#000" stroke-width="3" fill="none"/>
</g>
<g>
<path d="M722.9 960.2 C723.9 959.5 728.8 956.7 731 955.6 C733.1 954.4 736.9 952.2 739.1 951.5 C741.2 950.8 745.4 951.1 747.2 950.2 C749 949.3 751.3 946.6 752.5 944.8 C753.8 943 755.6 939.9 756.6 936.7 C757.6 933.4 759.1 925.3 760.1 920.5 C761.1 915.6 762.8 904.4 763.9 900.2 C765 896.1 767 891.7 768.2 889.5 C769.4 887.2 771.7 886.7 772.8 883.2 C773.9 879.8 775.5 870 776.3 863.8 C777.1 857.6 778.3 844.4 779 836.8 C779.7 829.3 781 814.2 781.7 807.2 C782.4 800.1 783.5 788 784.1 784.2 C784.8 780.4 785.9 778.8 786.5 778.8 C787.2 778.8 788.1 781.2 788.7 784.2 C789.3 787.3 790.3 795.8 791.1 801.8 C792 807.7 793.8 821.5 794.9 828.7 C796.1 835.9 798.4 849.1 799.8 855.7 C801.1 862.4 803.4 873.3 805.2 878.7 C807 884 811.2 891.8 813.3 895.7 C815.3 899.5 818.9 903.9 820.6 907.5 C822.2 911.1 824.6 919.7 825.9 922.6 C827.3 925.6 829.6 929.4 830.8 929.9 C832 930.4 833.8 928.6 834.9 926.4 C835.9 924.3 837.4 918.1 838.4 913.7 C839.3 909.4 841.1 900.9 842.1 893.5 C843.1 886.1 844.9 869.6 845.9 858.4 C846.9 847.3 848.8 822.4 849.7 809.8 C850.6 797.3 852.1 775.5 852.9 764 C853.7 752.5 854.9 733.2 855.6 723.5 C856.3 713.8 857.4 696.7 858.1 691.1 C858.7 685.5 859.9 681.7 860.5 681.7 C861.1 681.7 862 685.2 862.6 691.1 C863.3 697.1 864.4 716.1 865.1 726.2 C865.8 736.3 867.1 754.4 868 766.7 C868.9 778.9 870.8 803.9 871.8 817.9 C872.9 832 874.8 858.2 875.9 871.9 C876.9 885.6 878.8 911 879.9 920.5 C881 930 882.7 938.9 884 943.4 C885.3 947.9 887.9 952.2 889.6 954.2 C891.4 956.2 895 957.5 896.9 958.3 C898.8 959.1 902.8 959.9 903.7 960.2Z" fill="#969696" stroke="#111" stroke-width="2.3" stroke-linejoin="round"/>
<rect x="579" y="570.2" width="389.4" height="389.9" fill="none" stroke="#111" stroke-width="1.5"/>
<path d="M569 958.3H579M574 931.2H579M574 904.2H579M574 877.1H579M569 850.1H579M574 823H579M574 796H579M574 768.9H579M569 741.8H579M574 714.8H579M574 687.7H579M574 660.7H579M569 633.6H579M574 606.6H579M574 579.5H579" stroke="#111" stroke-width="1.5" fill="none"/>
<path d="M569 633.6H579M569 741.6H579M569 849.8H579M569 958.3H579" stroke="#111" stroke-width="2.1" fill="none"/>
<text x="560.1" y="638.3" font-size="13" text-anchor="end" fill="#222">30</text>
<text x="560.1" y="746.3" font-size="13" text-anchor="end" fill="#222">20</text>
<text x="560.1" y="854.5" font-size="13" text-anchor="end" fill="#222">10</text>
<text x="560.1" y="958.3" font-size="13" text-anchor="end" fill="#222">0</text>
<text transform="translate(503.7 765.3) rotate(-90)" font-size="15" text-anchor="middle" fill="#222" dy="0.36em">Count</text>
<path d="M595.7 960.2V965.3M605.1 960.2V965.3M611.8 960.2V965.3M617 960.2V965.3M621.2 960.2V965.3M624.8 960.2V965.3M627.9 960.2V965.3M630.6 960.2V965.3M647.8 960.2V965.3M657.2 960.2V965.3M663.9 960.2V965.3M669.1 960.2V965.3M673.3 960.2V965.3M676.9 960.2V965.3M680 960.2V965.3M682.7 960.2V965.3M702 960.2V965.3M711.4 960.2V965.3M718.1 960.2V965.3M723.3 960.2V965.3M727.5 960.2V965.3M731.1 960.2V965.3M734.2 960.2V965.3M737 960.2V965.3M755.7 960.2V965.3M765.1 960.2V965.3M771.8 960.2V965.3M777 960.2V965.3M781.2 960.2V965.3M784.8 960.2V965.3M787.9 960.2V965.3M790.7 960.2V965.3M809.1 960.2V965.3M818.6 960.2V965.3M825.2 960.2V965.3M830.4 960.2V965.3M834.7 960.2V965.3M838.2 960.2V965.3M841.3 960.2V965.3M844.1 960.2V965.3M862.6 960.2V965.3M872 960.2V965.3M878.7 960.2V965.3M883.9 960.2V965.3M888.1 960.2V965.3M891.7 960.2V965.3M894.8 960.2V965.3M897.5 960.2V965.3M916.5 960.2V965.3M926 960.2V965.3M932.6 960.2V965.3M937.8 960.2V965.3M942.1 960.2V965.3M945.6 960.2V965.3M948.7 960.2V965.3M951.5 960.2V965.3" stroke="#111" stroke-width="1.2" fill="none"/>
<path d="M579.6 960.2V970.5M631.7 960.2V970.5M685.9 960.2V970.5M739.6 960.2V970.5M793 960.2V970.5M846.5 960.2V970.5M900.4 960.2V970.5M954.1 960.2V970.5" stroke="#111" stroke-width="2" fill="none"/>
<text x="586.6" y="994.2" font-size="13" fill="#222" textLength="12.5" lengthAdjust="spacingAndGlyphs">10</text>
<text x="600.3" y="984.8" font-size="12.3" fill="#222">0</text>
<text x="687.2" y="994.2" font-size="13" fill="#222" textLength="12.5" lengthAdjust="spacingAndGlyphs">10</text>
<text x="700.9" y="984.8" font-size="12.3" fill="#222">2</text>
<text x="793.8" y="994.2" font-size="13" fill="#222" textLength="12.5" lengthAdjust="spacingAndGlyphs">10</text>
<text x="807.5" y="984.8" font-size="12.3" fill="#222">4</text>
<text x="901.5" y="994.2" font-size="13" fill="#222" textLength="12.5" lengthAdjust="spacingAndGlyphs">10</text>
<text x="915.2" y="984.8" font-size="12.3" fill="#222">6</text>
<text x="770.5" y="1031.7" font-size="16" text-anchor="middle" fill="#222" textLength="108.7" lengthAdjust="spacingAndGlyphs">FL1-A :: FL1-A</text>
<text x="584.7" y="599.4" font-size="16" fill="#222" textLength="51" lengthAdjust="spacingAndGlyphs">FL1-A-</text>
<text x="584.7" y="622.3" font-size="16" fill="#222">43.4</text>
<text x="932" y="599.4" font-size="16" text-anchor="end" fill="#222" textLength="55.2" lengthAdjust="spacingAndGlyphs">FL1-A+</text>
<text x="932" y="622.3" font-size="16" text-anchor="end" fill="#222">56.6</text>
<text x="660.8" y="625" font-size="22.5" fill="#f00" textLength="192.1" lengthAdjust="spacingAndGlyphs">HC69.5 + THC  1 µM</text>
<path d="M579 911H813.3 M813.3 904V918" stroke="#000" stroke-width="2.8" fill="none"/>
<path d="M813.3 930.7H968.4 M813.3 923.7V937.7 M967.9 923.7V937.7" stroke="#000" stroke-width="2" fill="none"/>
</g>
<!-- scatter -->
<g>
<g fill="none" stroke-width="1.5" stroke-linecap="square">
<path d="M1429.7 594.6zm0 1.9zm0 1.1zm0-3.5zm.2 10.2zm0 6zm-.2.5zm-.3-3.3zm0 4.6zm.3.6zm.1.5zm-.3 14zm.1-.1zm.3-.4zm0 8zm-.1-1.9zm-.5-.7zm0 7.8zm.5-1.1zm.1 3.1zm0 1.6zm-.2 2.4zm0-2.5zm-.1 3.2zm-.1-.6zm.2 6.4zm.2 1zm.1 6.4zm0-2.6zm-.1-2.8zm-.2-.2zm-.2 4.6zm.1 1.6zm0 3.4zm.1 2.8zm-.2.4zm-.2 1.3zm0 9.3zm.6-2.8zm-.6 4zm.2 6.1zm.3.2zm.1-.4zm.1 5.1zm-.5 4.6zm-.1-4.3zm0 1.4zm.3 10.5zm-.2.6zm-93 2.9zm92.9 6zm.1-2.8zm0 2.4zm.1-.3zm0 2.8zm.3-.7zm-.3 6.4zm-.1-.5zm0-4zm0 10.2zm0-3.2zm.1-1.2zm.3 1.6zm-.5 3.9zm0 5.5zm0-4.6zm-.1 1.3zm-21.1 7.6zm21.1-1.9zm.6 2zm.1 3.1zm-.2-.2zm0 3.9zm0-.9zm-.1-2.9zm-.1.3zm-.1.2zm0 3.1zm0-1.8zm-.1-1.2zm0 3.4zm-216.7-5zm89.7 10.5zm127-3.2zm.1 1.2zm0 1.2zm.1-3.3zm.2 0zm0 4.3zm0-2.1zm0 1.7zm.1 5zm-.1-2.1zm-.1 1.7zm0 .1zm0 .2zm0-1.4zm-.1 1.4zm-.1-.8zm0-1zm-.1 3.2zm-46.7 7.1zm12.5-.5zm34.4-1.4zm.1-2.4zm0 .7zm0-1.9zm.1 3.4zm0-3.4zm0 6.5zm-.1 3zm0 1.9zm-.4-5.2zm-123.3 3.3zm-43.7 6.3zm43.6 1.3zm113.1-1.9zm10.3.3zm.2 1.3zm.1-2zm.1-.8zm0-.5zm.2 1.4zm-.1 6.3zm-.1-2.7zm-.2 2.2zm-.1.8zm-.1 1.5zm-169.9-5.1zm57.2 8zm36.9-.2zm3.9.9zm10.9 3zm9.1-1.7zm51.9-.7zm.1-.2zm.1-.3zm.1-.2zm.1 2.8zm.1-4.9zm.2 3.6zm0-1.2zm0 5.4zm-.2 2.8zm0-4.6zm-.2 1.2zm0-.9zm0 2.9zm-.1-3.2zm0 4.3zm-.2-3.4zm-26.3 3.5zm-14.4-4.9zm-14.6 4.9zm-3.4.9zm-2.2-1zm-2.8-3.8zm-.2 2.1zm-1.2 2.2zm-6.5-.1zm-49.4-3.3zm-30.7.1zm-20.4 0zm33.8 6.3zm36.7 2.8zm13.1-1.6zm3.1-1.9zm8.3.8zm6.5 3.2zm5.8-4.6zm40.3 2.1zm24.6 0zm.3-1.3zm0 .1zm0 .8zm.1.9zm0-.5zm0-2.3zm.1 1.9zm0 7.1zm-.1.7zm-.1-1.3zm-.2.8zm-.1-1.2zm-.1 2.3zm-4.6.7zm-37.9-4.6zm-12.8 2.1zm-2.3-1.4zm-6.3.4zm-10-.8zm-11.6 4.2zm-4.6-.7zm-8.4.2zm-49.2-3.8zm-3-1.1zm-26.7 3.2zm-31.6 2.1zm-66.6-1.4zm24 6.2zm70.1-1.1zm17-2.5zm20 4.9zm1.2-4.4zm6.1 4.1zm6.6-2.6zm1.5 1.2zm11.8-2.1zm11-.9zm11.7 3zm1.8-1.1zm1.5.1zm.3-1.9zm2.1 4.6zm.3-4.3zm.2 3.3zm9.2-1.7zm4.2-.7zm12.2-2.2zm8.3.9zm7 2.8zm1-.3zm8.6-.8zm6.8 2.4zm5.1-4.2zm.6 3.1zm1.3-2.1zm24.1.4zm.4-1.9zm.1 4.7zm.1 0zm0-1.1zm0 3.1zm0 2.8zm-.1.3zm0 .4zm-.1.7zm0-1.8zm-.1-.6zm0-2.2zm-.1 3zm-.1-3.2zm0 1.2zm-4.9-1.8zm-38.5.1zm-2.8 3.8zm-5.9-1.9zm-2.8 1.7zm-.8 1.2zm-.6-2.3zm-2.3-.8zm-1.8 3.7zm-.3-4.4zm-6.6 3.8zm-2.3.7zm-1.2 0zm-1.7-.8zm-3.3.6zm-3.6-.3zm-4.9-1.8zm-4.4.6zm-5.9-.7zm-3.4-2.6zm-2.1 4zm-1.5-.5zm-2.7-1.7zm-.8 2.9zm-2.6-.9zm-.2.7zm-3.1-.4zm-7.9-3.2zm-1.4 4.4zm-11.7-5.5zm-3.7.9zm-6.2.3zm-4.8 4.2zm-7.9-5.5zm-5.4-.1zm-1.5 1.3zm-1.3-1zm-23.9 3.7zm-24.2-3.8zm-105 8.7zm139.4 2.8zm2.3-5.2zm12.6 1.5zm7.5-2.2zm6.3 2.8zm11.7.9zm1.2-2.5zm2.7-.7zm3.2 2.2zm5.8 1.8zm.6-1.4zm8.5-2.9zm1.1 3.5zm.1-1.9zm.6 3.7zm2.1-.7zm1.2-3.5zm1.4-.1zm3.6-1.1zm.1 5.1zm3.2-4.4zm1.3 2.1zm6.2 1.8zm5.1-.9zm3.8-2.3zm.6.6zm7.2 2.3zm5.7-1.3zm2.8 1.7zm1.2-1.6zm4.2-1.9zm5.6 3.4zm5.4-2zm3.8.6zm3.1-.4zm13.9 1.2zm2.5.1zm28.2-4.2zm.2 3.6zm.1-1.9zm.1 3.5zm.1-1.8zm.1-2.3zm0 0zm0-1zm0 3.2zm.1-1.4zm-.1 5.6zm0 2.2zm-.4-.6zm0 .7zm0-1.8zm-14.7-.5zm-28 3.7zm-1.5-1zm-1.8-.9zm-4.8-1.7zm-1.9.7zm-6.7.1zm-11.4 1.7zm-7.4 1.2zm-1.8.6zm-1.8-2.9zm-1.9-2.7zm-1.9 2.1zm-1.7 1.8zm-.4-2.5zm-.1-.1zm-.8.4zm-1.1 2.2zm-1 .3zm-1.1-2.2zm-.5 3.4zm-.1-.7zm-1.2-3.2zm-1.1.5zm-.3 3.4zm-.8-4.9zm-1.2.9zm-1.1-1.3zm-1 3.5zm-1.7 1zm-.5-.8zm-.2-.5zm-4.4-1.3zm-.1.8zm-2.7 2.8zm-.1-2.1zm-1.5 0zm-1.9.3zm-.8-1.6zm-2.2-.5zm-1.9 1.6zm-3.1-1.4zm-1.8-1.2zm-.1.3zm-.9 1.2zm-.8 3.2zm-2.9-3.7zm-.2-1.2zm-1.7 1.5zm-.6 2.5zm-9.6-2.7zm-.2-2.1zm-1.6 3.2zm-1.4 1.8zm-6.8-2.8zm-2.6.5zm-4.1.4zm-.8 2.8zm-5.9-4.2zm-2 3.7zm-17.6-.4zm-1.9-2zm-13 1.6zm-26.7 1zm-6.1-.3zm-15.8 2.3zm17.4-.5zm38.6 2.6zm.9-1zm4.4 3.2zm.4-2.8zm20.2.1zm7-2.8zm.7 5.3zm3.8-3.8zm.5 1.6zm1.3-.1zm3.1 2.3zm.1-3.7zm.6-1.3zm.4 2.9zm0-2.8zm.6 1.1zm11.6 1.2zm.5-2.9zm1.5 3.4zm1.7 1.4zm1.6-2.1zm1.3 2.8zm1.7-2.6zm.3.4zm1.4-.1zm1-.1zm.7-3zm.3 2.6zm1.4 1.6zm1.7-1zm2.3.2zm3-2.5zm1.2 2.5zm1 1zm.2.4zm1.4-.2zm.7-3.6zm4.7 4.4zm.1-1.8zm3.5 1.9zm4.2-5zm1.4 2zm.2-.3zm1.5 3.3zm2.9-1zm.7-3.3zm3.1 3.6zm1.3-.2zm1.5-1.1zm.9 0zm1.4.2zm.9-.8zm2.4-2zm.8 1.2zm2.7 2.3zm1.3-4.5zm1.2.8zm.1 2.4zm4.2-1zm1.3-1.8zm1 3.1zm4.2-2.4zm1.4 1.8zm.1 1.2zm1 .1zm.4-4.1zm1 1.8zm3 2.4zm3.1-3zm.1 1.6zm6.8-1.2zm.3 2.6zm3.9-2.8zm1.3.6zm1.3 1.6zm.9-2.8zm1.8.5zm2.7-.2zm3.6 2.7zm1.8 1.7zm.4-3.2zm14.4 2.7zm3.8-4.9zm8 5.1zm.1-2zm0 2.1zm0-2.7zm0 2zm.1-4.8zm0 4.6zm.2-1.7zm0 .6zm.1.2zm.1.8zm0-.9zm0 5.7zm0 .7zm0 .5zm0-.6zm-.2-3.1zm-.1 3.7zm0-1.2zm0-2.8zm0 2.1zm-.1-1.6zm-.1 2.8zm0 1zm-5.5.9zm-15.7-.2zm-6.2-2.6zm-3.1 1.7zm-10.5-4zm-.5 4.2zm-10.5-1.4zm-.6-.3zm-4.1 2.3zm-3.2-2.2zm-4.2-3.2zm-.3 2.9zm-1.3 0zm-1.7-1.9zm-.2 2.8zm-1.9-1.3zm-7.2 1.5zm-4.5 1.4zm-.6.4zm-1.7-1.5zm-1.2 1.3zm-1.8 0zm-1.1-.6zm-1.3-3.5zm-1.3-1.1zm-.3 4.3zm-2.3-1.9zm-1-.8zm-3.9-1.5zm-3.6-.4zm-.2 4.9zm-1.1-4.7zm-.5 1.4zm-1.5-.6zm-.2 3.8zm-.9-.7zm-.2.2zm-.3-3.1zm-.6 2.3zm-1 .3zm-1.6-3.3zm-.3 4.3zm-.9.6zm-1.9.2zm-.1-1.7zm-2.3.5zm-.1-2.5zm-1.2-.2zm-.2 2.5zm-.9-3.4zm-.5.6zm-5.8 1zm-.2.8zm-7.4-1.9zm-.9-1.5zm-.1 3.7zm-2-2.9zm-.7 3.5zm-1.1-1.6zm0 .8zm-.1.5zm-.2 1.7zm-.8-3.1zm-.4 1.3zm-.5-3.4zm-1.7 3.5zm-.6-.3zm-7.7-2.9zm-1.1.9zm-1 1.7zm-.3 1.2zm0-3.8zm-.1 3.7zm-2.9-1.5zm-3.5-1.9zm-.1 4.5zm-.2-2.2zm-.5.6zm-4.3 1.9zm-2.2-2.9zm-.1-2.6zm-1.1 1.7zm-1 1zm0 2.2zm-.5-4.1zm-.2 4.7zm-5.1-.6zm-7.7-2.2zm-2.8-1.5zm-11.4 2.3zm-4.5-3.5zm-.6 2zm-3.6-1.2zm-1.3-1zm-1.8 1.7zm-8.7-1.8zm-1.9.6zm-3.1 3.4zm-8.9-3zm-18.9 3.5zm-5.4-1zm9.2 5.7zm2.3 2zm3.4.1zm3.2-4.7zm22.2 2.6zm3.7 1.3zm1.9-3zm3.6 4zm1.7-2zm1.4-.6zm4.6-2.2zm2.1 1.8zm2.6-1.2zm3.9 1.8zm.4 1.5zm6-3.7zm.2.2zm0 1.2zm2.6 3.2zm2.7-1.2zm.8-1.8zm5 2.2zm.2-1.6zm4 .9zm.1.9zm.2-3.6zm2 2.1zm.5-2.9zm1.6 4.7zm.3-.8zm.4.3zm.1 0zm1.9-2zm1.2-.8zm.9 2.6zm.7 1.1zm.4-2.6zm5.2 1.4zm2.1-.4zm.2-2.6zm1 1.5zm.3-2.7zm2 3.9zm.3.8zm1.5-2.3zm.9 2.1zm1.7-4.8zm.3.3zm.8 1.8zm0 2.9zm.7-3zm.4-1zm.5 3.1zm1.3.7zm1-3.5zm.9 1.7zm1.9 2.7zm0-2.4zm1 .4zm.5 1.6zm.6.4zm.1-3.2zm1.1-.1zm.4 3.2zm.9.1zm1-4.7zm.4 1.6zm.1-2.5zm.8 4.3zm.4.7zm.1-2.3zm2.6-1.9zm.9 1.9zm.3-.5zm2.4 1.6zm.6 1.3zm.4-2.4zm.6 1zm1.2.1zm0 1.4zm3.1-2.3zm.5 2.7zm0-3.5zm.2 2zm1.8 1.3zm.4-2.9zm1.3 2.9zm2.1-4.3zm2.1 4.3zm.3.4zm.1-5.3zm.3 3.5zm0-1zm.4-.5zm0-1.5zm.6 4.3zm.6-2.7zm2 1.6zm1 1zm.3-1zm1.4-.4zm2.2-2.1zm.2 1zm.3 1zm1.6-.1zm2.5-.7zm.3.1zm.3 1.5zm.5-1.1zm.7.3zm.6-.8zm.4-2.2zm.1.3zm.3-.2zm2.4 2.4zm3.4-1.5zm7.1.1zm1.3-1.8zm.2 5.5zm.4-.2zm.1-.7zm.8-3.8zm5.3 1.8zm.2 3zm.4-3.3zm2.4.3zm2.6 2.9zm2.6-1.1zm.3-2.4zm2.6 1.7zm1.1-3.7zm1.8 5zm10.4-3zm3.2-1.4zm.4 2zm5.3-.7zm1.3.9zm16.4-1.2zm14.9-1.3zm0 2.6zm0 1.5zm.2.6zm.1-1zm.1-1.3zm0-1.5zm.1.8zm-.1 4zm0 4.1zm-.1-2.7zm0-.4zm0 2.2zm-.2-.3zm0 2.2zm-.1-3.3zm-35.1 2.2zm-.5-3.1zm-2.7.9zm-5.6-1.3zm-3 .2zm-5.3-.3zm-1.6 3zm-9.6.4zm-3.6-2.5zm-2 2.9zm-1.9-2.9zm-.3 3.1zm-.5.1zm-.2-3.8zm-6 0zm-4.1 1.1zm-3.2 3.2zm-.5-.9zm-3.1-.7zm-.2 1.2zm-.6-4.1zm-2.8 3.4zm-1-3.9zm-1.8 3.4zm-.2-.9zm-5.2-.2zm-2.2 1.5zm-1.3 1.8zm-.4-3.9zm-1 1.4zm-1.6-1.7zm-.7 1.2zm-1.2.3zm-.1.6zm-2.3 0zm-.5.1zm-.2-3.6zm-1 .9zm-1 4.8zm-1.3-5.8zm-.2 1.3zm-1.9.6zm-.3.3zm-.6-2.2zm-.3 4.9zm-.3-2.7zm-.9 2.1zm-.1-.8zm-.3 1.3zm-.8-1.9zm0 2.4zm-1.7-4.3zm-1.3.8zm-3.5-1.3zm-.1 4.7zm-1.6-1.8zm-.6-2.1zm-.5.7zm-2.5.3zm-1.1 2.9zm-1.3-.5zm-.2-1.6zm-.4-2.2zm-.1 2.3zm-1.2.9zm-.6-.9zm-1.1-3.2zm-2 1.6zm-2.6 4zm-.7-2.6zm0 1.8zm-2.9.5zm-.2.3zm-2.1-2.4zm-.9-2.7zm0 3.9zm-.6.5zm-2.9-1.5zm-1.1.3zm-1.2 1.6zm-.2-1.4zm-.4.9zm-2-.3zm-2.3-1.3zm-.1 1.3zm-1.4.3zm-.8-4.7zm-1.6 1.7zm-.4 3.7zm-.8.4zm-.3-.1zm-1.2-3.6zm-.2 3zm-1.1-2.8zm-3.2 1.1zm-.6.9zm-.7-2.3zm-.1.2zm-1.1 0zm-.1-.2zm-4.3 3.4zm-.8-4.6zm-.1 1.8zm-.5 2zm-1.4.2zm-3.6-1.4zm-.8-1.1zm-.5-.4zm-1.6 2.3zm-.2-1.1zm-2.3 2.4zm-.1-1.2zm-.1.9zm-1.3.1zm-1.8-5.4zm-.6.8zm-.4 3.2zm-1.2-2.5zm-4.8 3.8zm-.3-.9zm-.8-.8zm-5.3.7zm-.5.3zm-.4-.9zm-.7-2.2zm-2.1 1.8zm-.1 1.6zm-.1-4.6zm0 .8zm-4.4 1.3zm-4.2.4zm-7.8.8zm-10.4-2zm-3.3 3.5zm-.2-1.4zm-10.1 2.2zm-4.1-3.4zm-11.3 2.7zm-26 6.2zm31.7-.2zm1.8.6zm2.5-3.1zm14.3.6zm2.5.5zm2.8.2zm1.5-2.9zm1.6 1.8zm1.2 1zm.7.2zm.2 1.5zm1.5-1.7zm.7-.8zm3.1 2.3zm2.2-5zm.1 4.8zm1.1-4.5zm2 1.6zm8.5 2.5zm2.1-.7zm.3-1.5zm1.7-1.3zm.9.1zm.6-1.3zm1.5 2.4zm4.5 2.2zm.6-.7zm1.3-2.1zm1.5 3.4zm.1-5.2zm.1 2.6zm2.3-.1zm.6.5zm.2-.4zm1.2 3.1zm.2-2.5zm.3 2.5zm1.6-5.7zm2.2.7zm1.3 1.6zm2.9 2.1zm1.6-.5zm.7.7zm.4-2.7zm.8 2.4zm0 .4zm1.5-3zm0-.4zm.3 1.2zm.7-1.2zm.5.5zm.1 3.5zm.8-.5zm.9-4.5zm.2 3.1zm.9-.7zm.2 2.5zm.1-1.4zm2.2 1.2zm2.2-.8zm.4-2.3zm.2 2.2zm.2-.1zm.4-1.1zm.2-1zm2.1.6zm.1-2.1zm1.4.3zm.2-.5zm.1-.1zm2.8 5.2zm.5-3.5zm.6 2.5zm.7.9zm.3-3.6zm3 3.2zm.2-.4zm.1-1.7zm1 1.3zm.2 1.8zm1.3-2.7zm.1-1.2zm.2 2.1zm.1.2zm.1 1.2zm.1-3.4zm1.6 2.9zm0-2.2zm.9-.6zm.2-2.1zm.7 4.5zm.6-3.2zm.1 1.9zm.4-1.5zm.1-.8zm.5 1.8zm6.3 1zm.6 0zm.4-.2zm1.8-.3zm.6-1.3zm.5 1.3zm1.8 1zm1.6-3.5zm1 2.8zm2 1zm2.8-.1zm.7-3.1zm1.5 3.8zm.5-1zm1.6 1.1zm1.4-4.4zm.8 0zm.5-.5zm1.2 4.4zm.1-.3zm.2-3.4zm2.4.6zm.2-.8zm0 4.2zm2.2-2.4zm3.7-.3zm1.6-1.2zm.9 2.2zm1.5 2.2zm1.1-5.2zm.2.7zm0 2.9zm2.7-3.5zm6.3.7zm.4-1.2zm.3.4zm.7 4.4zm1.4-4.2zm0 4.5zm1.1-.1zm.6-3.2zm4.7-.6zm.2 1.4zm.9-1.3zm3.1 1.6zm2.1 1.5zm10.1 1zm.4-4.5zm1.2 4.2zm1.6-4.9zm.5 3.3zm3.6-2.8zm48.3 3.7zm17.4-3.5zm0 1.3zm.1-2.1zm.1 5.5zm.1 0zm0-1zm0-4.3zm.1 1.6zm.1 3.7zm.1-5.3zm0 2.6zm0-1.4zm0 1zm.1-.4zm0 5.1zm-.1 4.7zm0-5.5zm-.1.6zm0-.1zm0 3zm-.1-1.1zm0 2.3zm0 0zm-.1-1.9zm0-2.5zm-.3 4.7zm0-4.8zm0 3zm0 .2zm-35.7-3.7zm-10 1.2zm-11.2 2.9zm-7.5-3.7zm-1.7.8zm-.9-.2zm-2.8-.9zm-4.8 5zm-1.8-2.9zm-4.4 3zm-2.7-2.4zm-1.2-1.9zm-.9 2zm-.5 2.9zm-3.8-.2zm-1.4-3.4zm-1.8 2.3zm-4.2-1.3zm-1.1 1.4zm-.6-4.7zm-.8.5zm-.1 3.7zm-.6.3zm-.1.5zm-.6-5zm-1.8 1.4zm-.6.3zm-4.2 1.4zm-.2-.4zm-.5 2.1zm-3.4-.3zm-.5 1.2zm-8.1.1zm-.3-3.1zm-.9-.8zm-.4-.3zm-.2-.8zm-3.5 2zm-.4 1.7zm-2.9-4.2zm-.4 1.1zm-.2 2.8zm-1.3 1.6zm-.5-1.2zm-.6 1.2zm-.1-3.8zm-2-.4zm-.6 2zm-1.9-1.6zm-1.1-.1zm-2.9 2.6zm-.3 1.3zm-1.7-2.5zm-1.4.4zm-.6 1.3zm-1.4-4.2zm-.1 2.1zm-1.3-2.7zm-.1 1.4zm-.3-1.3zm-1.1 2zm-.5 2.2zm-.3-3zm-.4 1.4zm-1-1.3zm-.6 2zm-1.1-.3zm-.1-.4zm-.7.9zm0-.8zm-.1-.4zm-1.3 2.8zm-.3-4.9zm-1.4 3.7zm-1.9-1.4zm-.7.5zm-1.8-1.1zm-1-.6zm-.2 2zm-.1 0zm-.8 1zm-1.1-1.6zm0-1.5zm-.5 2.6zm-.2-.3zm-3.1-1.9zm-.2-1.4zm-.2 5zm-.2-2.5zm-.4-1.5zm-.6-.8zm-.5 4.8zm-.2-1.3zm-.2-2zm-.9-1zm-.8 1.9zm-.5 1.8zm-.9-.6zm-.7-1.5zm-2.3 3.1zm0-5.7zm-1.1 4.9zm-.1-.3zm-.5-4.1zm-.3-.3zm0 1.2zm-.4.9zm-.6 1.4zm0-.6zm-.3-2.3zm0 4.4zm-1.1-4.5zm0 4.2zm-1.1-.3zm-.1 0zm-.6-.8zm-.1-3.4zm-.2 2.6zm-.3-1.1zm-.2 1zm-.1-.2zm-.3 1.7zm-1.9-3.1zm-.5 1zm-.4 3.3zm-.4-3.5zm-.3 3.4zm-.2-3.1zm-.5 1.9zm-.2.5zm-.1-4.3zm-.2 1.3zm-1.4-1zm-.4 3.5zm-.2-2zm-.2 2.7zm-.3-1zm-1.1.1zm-.4.8zm-.7-1zm-.3-.9zm-1.3-3.2zm-.2 4.3zm-.6-.1zm-.3 1.5zm-1.2-5.2zm-.3.2zm-.4.7zm-.1 1.7zm-.1-2.6zm-.1.9zm-.3 1.9zm-.5-2.3zm-.1-.6zm-1.5 5.4zm-.2-4.4zm-.2 4.1zm-.6-2.2zm-2.2-1.1zm-.6.7zm-2.6-.6zm-.9-1.7zm-.1 2.2zm-.1-.5zm-2.4 1.8zm-.1-1.6zm-.1 3.3zm-.6-2.9zm-.5.2zm-.6-2.6zm0 .5zm-.6-.5zm-1.6.9zm-.2 3.5zm-.1-4.2zm-2.5 3.6zm-.9-3zm-.6 2.3zm-.8 1.9zm-.5.3zm-.9-2.7zm0-1zm-.3 2.8zm-1.6-2.1zm-.3.3zm-.3-2.9zm-1 0zm-.3 4.6zm-.1-1.1zm-3 .7zm-.1-.2zm-.1-2.9zm-.4 3.9zm-.2-4.5zm-4.1 3.3zm-1 .7zm-.4.6zm-2.6.1zm-.1-.5zm-.9-.3zm-.1-2.3zm-.4-1.8zm-2.1 5.1zm-.3-2.5zm-.2 2.5zm-.1-4.9zm-2.9 1.5zm-2.8 3.1zm-1.3-3.5zm-2.9 3.7zm-.2-1.2zm-1.6-1.3zm-1.4 1.8zm-2.1-4.3zm-1.2 5.1zm-3.4.3zm-7.2-2.6zm-1.2-1.5zm-1.4 0zm-5.2 3.5zm-3.1-.4zm-4 .7zm-4.5-4.2zm-36.1-.1zm14.5 10.2zm8-3.5zm10.2 3.4zm.2-.4zm3.6-.9zm4.8-1.5zm.5-2.3zm.8 5.1zm2.8-1.6zm1.4-3zm.4 2.7zm.2-3.3zm.5 4.8zm1.3.3zm2.9-.2zm.2-2.7zm8.7-.9zm2.9 3.2zm.3-1.6zm1.2-1.6zm0-.7zm.3 4.8zm.2-.1zm.6-4.6zm.2 3zm.6 1.9zm.2-4.6zm.3 2.5zm1.9-.6zm1.8.1zm1.1-3.2zm2.2 5.6zm.1-4.9zm.6.5zm.1 1.3zm1 2.3zm.8.8zm.3-5.1zm.3 3zm1.1 1.4zm.2-1.9zm.9.4zm.6-1.9zm.4-1.3zm0 1.7zm.6-1.3zm.4.2zm.5 1.3zm.3 2zm.8.8zm.6-1.3zm.5 1.3zm1.1-4.6zm0 4.9zm.4-2.2zm.1 2.2zm.7-2.8zm.7-.6zm.2 3.8zm.1-2zm.3-2.1zm.1-.4zm.2-.7zm.6 0zm.1 0zm.5 1.5zm0 2.3zm.4-2.7zm.2 3.7zm.1-2.9zm0 2.5zm0-.7zm.3-2.6zm.1 2.1zm.1 1.8zm.2.2zm1-2.2zm.4.7zm1.2-.3zm1.3 1.4zm.3-1.5zm.6-1.6zm0 .4zm.7-.1zm.2.5zm.1-1.7zm.4 1.6zm.2 2.1zm.9-1.5zm0 2.2zm.5-2.3zm.1.7zm.3.5zm2.1-.9zm1.1-3.2zm.1 2.2zm.5-2.2zm.2 2.4zm.5 2.1zm1.1-3.8zm0 1.3zm.1-1.1zm.5-.2zm.4.9zm2 3.6zm.5-4.1zm1.1 2.8zm.9-4.1zm.2.8zm.4 2zm1 2zm.4-4.4zm.1 3.7zm.1-.7zm.4 2.3zm.7-1.2zm.4-4.7zm0 1.8zm.3 3.8zm1-3.3zm0-2.1zm.3-.1zm.1 4.9zm.4-2.5zm.1.3zm.2 1zm.9-3.5zm.7 4.5zm0-2.1zm.4 2.5zm.5-.7zm1.5-.9zm.5-2.8zm2.4 1.2zm.5-1.5zm.5 2.4zm0-1.1zm.6 2.8zm.1-4.1zm0 2zm.4 2zm.9-2.7zm.2 3.9zm.9-4.7zm.4 4.1zm1.4-2.9zm.7.3zm.3-1.4zm0 .1zm.4 2.9zm1.4-1zm.5-1.7zm.1 3.2zm1.6-3.7zm1.7-.1zm1.5-.6zm2.4 4.2zm0-3.2zm.9 2.5zm.3 1.5zm0-3.7zm0 4.4zm.2-5zm.6 1.7zm.3-.6zm.2 3.4zm.3-.4zm0-2.6zm.5-1.5zm.4 3.1zm.7-2.2zm1.3 1zm.3-2.8zm.8 1.3zm1.5 1.2zm1.5-.1zm.9 3.3zm.1-.5zm1.7-3.4zm1.7-1.5zm0 .6zm.7.6zm1.7 2zm.4 2.4zm0-1.3zm.9.4zm1.4-4.1zm2.1 4.5zm.1-1.4zm.5-1.9zm.4.3zm.7 2.1zm.7-2.1zm.2-.6zm0 1.5zm.1-2.9zm.5 3.6zm.2-.2zm1.3-2.9zm.6 4.5zm0-.5zm.8-3.2zm1.1 3.8zm1-3.3zm.3-2.1zm.8 2.4zm.3 3.3zm.3-1.9zm1-.8zm.3-2.5zm.6 3.3zm.3-2.8zm.5 4.1zm2.4-.5zm.3-3.7zm.5 4.5zm1.3-.6zm.3-1.6zm.1.8zm.4 1zm2-4zm.1 3.9zm.1.1zm.3-1.7zm1 .1zm.1 1zm1.4-3.9zm1.3 1.1zm.1 1.2zm.3-1.6zm.5-.4zm3.7 4.4zm.2-3.1zm.9-.8zm2.5-1.1zm5.7 3.5zm.3 1.8zm.3-.5zm.7-3.2zm.6 1.9zm5.1.4zm.7-4zm.4 3.1zm.3.9zm.2.4zm2.1-2.1zm3.2 1.8zm1.3-3.9zm1.5 5.5zm3.7-4.1zm1.3.2zm5.2.7zm1.1 3zm.3-4.7zm3.8 4zm4.1.4zm1.5-.1zm1.5-5.1zm14.5 0zm2 .4zm24.3 3.9zm15.4-1.6zm7.1-1.8zm21.7 4.2zm.1.5zm.1 0zm0-.9zm.2-1.4zm0-3.3zm.1-.2zm0 3.1zm.1 1.1zm0 6.4zm-.1-.6zm-.1-1.7zm-.1 3.1zm-.1-4.4zm0-.7zm0 4.9zm-.1-.5zm-48.7.2zm-1-4.2zm-17.4 2.5zm-1.3 2.5zm-22.7-2.5zm-12.5 1.6zm-3.9.3zm-5.3-4.1zm-1.9.6zm-1.5-.1zm-.4-.7zm-1.3.2zm-3.4 1.7zm-3.2-1.4zm-1.1.1zm-1.1 4.1zm-.6-5.4zm-5.1 5.7zm-.5-.2zm-.7.3zm-1.5-4.7zm-.1 1.1zm-.4-1.2zm-1.7 1.4zm-6 2.8zm-.2-3.6zm-.1 2.1zm-.1 2.1zm-.4-3.4zm-.3 3.4zm-.9-1.5zm-.1 0zm-.2-1.4zm-.6-2.8zm-1.5.9zm-1.2.3zm-.1 2.9zm-1-4.3zm-.5 4.1zm-.3 1.7zm-.7-3.1zm-.2 1.4zm-.1 1.3zm-.5-4.1zm-1.9 3.3zm-.1-2.1zm-.5-1.4zm0 .4zm-2.6 1.4zm-.6 2.5zm-1.2-2.7zm-.4-2.3zm-1.3 2.3zm-.3-.2zm-.3-.1zm-.4.1zm0 1.1zm-.3-2.5zm-1.2 2.2zm-.2-2.9zm-.3 5.3zm-1.1-2.9zm-.2.7zm-.7 0zm-.3-2.6zm-.6 4.5zm-.2-.6zm-3.1 1.1zm-.3-2.9zm-.8-2.6zm0 3.8zm-.8-1.6zm-.4-2.5zm-.8 3.2zm-1.7 0zm-.6 1.1zm-.2.4zm-.9-2.2zm-.4-1.3zm-.1 3zm0-3.8zm-.8.7zm-.4.6zm-.4 1.6zm-1.8 1.7zm-.5-3zm-.2 3.2zm-.7-.7zm-.8-.5zm-.7 1.3zm0-1.2zm-.6-.2zm-.1-3.8zm-.2 1.4zm-2.3 1.4zm-.9-1.8zm0-.6zm-1.6-.1zm-.6.8zm-.1-1.3zm-.8 1.1zm-1.2 4.5zm-.6-.8zm-.2-2.1zm0 .3zm-.2.1zm-.1-1zm-.1-.7zm-.5 4.5zm-.3-3.1zm-.1 1.1zm-.7.2zm-.8.8zm-.4-.2zm-.8 1zm-1-5.5zm-2.2 5.6zm-1-5.7zm-.2.3zm-.3.6zm-.3-.6zm-.3 5zm-.5-2.7zm-.4-1zm-.2 1.7zm-1.1.2zm-.1-1.3zm-.5 3.5zm-.3-5.2zm-.1-.1zm-.4 1.3zm-.6 1.3zm-.9-2.1zm-1.8 2.1zm-1.4-.6zm-1.1.5zm-2.2-2zm-.3-.2zm-.6.3zm-.1-.2zm-.1.3zm-.3-.5zm-1.1 2.7zm-.5-.1zm-.8 0zm-1.2.6zm-3.1-3.6zm-.3-.1zm-2.3 2.8zm-2.4 0zm-.2.9zm-1-3.3zm-.8.4zm-.1-.5zm0 0zm-1.2 1.9zm-.6 0zm-.5-2.1zm-.7 4.9zm-.9-4.1zm-.4-.2zm0 2.2zm-1.2-1.5zm-1 1.6zm-.5-.6zm-1 .1zm-.2.2zm-.5 1.1zm0-1.6zm-.2 2zm-1-.7zm-.6.6zm-.1-2.6zm-.2-1zm-.1 4.6zm-.9.1zm-.7.1zm-.7.3zm-.2-3.6zm-.1-.8zm-.3 1.7zm-.3-.5zm0 .9zm-1-2.2zm-.6.8zm-.3 2.4zm-.3.3zm-.3.9zm-.8-2.4zm-.2-2zm-.5 3.7zm-.2-4.2zm0 .1zm0-.3zm-1.5.9zm-.2 2zm-.1.7zm-.8.2zm-.4 1.1zm0-4.1zm-1.2 1.3zm-.3.2zm-.5.8zm-.5-1.9zm-.7 1.2zm0-2.9zm-.5 2.7zm0-2.6zm-.9.3zm-.9 2.5zm-.1-2zm-.2 2zm-1.2-.1zm0-.4zm-2-1.8zm-.7 2.9zm-1.2 1.3zm-.3-2.1zm-.7 1.6zm-1.9-3.4zm-4.6.5zm-.7 2.8zm-.4-.8zm-1-2.4zm-.5 4.4zm-.4-1.4zm-.1 1.4zm-.7-2.9zm0-1zm-.4-.8zm-.9.3zm-.1 1.6zm-1.4 3zm-1.9-1.7zm-.6-.7zm-.2-1.2zm-.3 2.3zm-2.6.9zm-.6-3.1zm-1.1-1zm-3.7 4.2zm-.9-.5zm0-1.2zm-1.6 1.4zm-3.5-3.1zm-.5-.6zm-.3-.4zm-3.6 2.2zm-6.2-2.9zm0 .7zm-38.1 10zm1.4-2.4zm6.9-.1zm6 1zm.8.2zm4.5-1.6zm2.3-.3zm1.5.6zm1.1 3.5zm4.4-1.8zm.3-3.5zm0 5.3zm3.2-2zm1.2-.2zm.4-2.4zm1.4 3.4zm5.5-.4zm.8-2.3zm.5 3.4zm.4.1zm.7-4.1zm.5-.3zm.6 1.9zm1.7-.1zm.6 2.3zm.1-3.1zm.5 3.2zm.7.1zm.4.1zm.1-.1zm3.9-5.1zm.1.8zm3.2 3.1zm.2-.6zm.4.9zm.5-.1zm.7-2zm.1-.4zm.9-1zm0 .9zm.4 1.4zm.7 1.2zm.1-1zm.2.9zm.2.7zm.2-3.5zm.2 3.1zm.2.3zm.9-4.7zm.4 1.9zm.2-.4zm.8 3.7zm.1-3.9zm.1 2.2zm1.9-2.3zm.2 2.8zm2.2-3.9zm0 .2zm0 5.2zm.2-4.5zm.2 2.9zm.4-3.1zm.5 3.7zm.6-4.5zm1 .8zm.4 2.5zm.4.4zm.5-3.8zm.1 4.2zm.2-3.2zm0 1.3zm.4.4zm.2 2.7zm.1-4.5zm.2 4.8zm.5-5.7zm.3 2.9zm.3-1.6zm.1 3zm.3-1zm1.1 0zm.3-2.3zm.7 3.8zm.4-1zm.3-1.8zm0 1.2zm.8 1.5zm.3-3.9zm0 2.5zm.1-3.4zm.3 4.4zm.3-2.3zm.1 3.1zm.5-3.6zm.3-1.2zm1 1.8zm.2 2.2zm.8-2.4zm.5-.1zm.5 2.5zm.8-.7zm0-.2zm.8-2.1zm.3 1.3zm.8.2zm0-.3zm.2-2.1zm0 4.2zm.3-4.4zm.3-.4zm.2 2.2zm.3-.5zm.2-.9zm.1 3.9zm1.1-3.1zm2.1 1.8zm5.4-3.2zm.8.6zm2.6.1zm.1.1zm.2 3.9zm0-4.7zm1.9.5zm4.7 1.6zm2.4.9zm2.4-1.6zm25.6 2.4zm5-2.6zm2.6 2.6zm.2 1.9zm1.7-4.5zm1.4 1zm1.5 3.3zm.2-1.4zm.5.3zm0-3.8zm.3.8zm2.9.3zm.3-.9zm2.2.9zm.1 2.1zm0 1.4zm.7-2.1zm.5-3.1zm.1 3.4zm.2-1.7zm.9-.4zm1.6 3.2zm.3-1.2zm.3.6zm2-1zm.9 2.1zm.3-1zm1.3 1.3zm0-3.2zm.9 1.8zm0 1zm.5-.4zm.6-1.9zm.3 1.2zm.7-.9zm.2-1.9zm.3-1.2zm1 4.4zm0-3.8zm3.4 4.4zm.1-3.1zm.5.4zm1.7 2.8zm1-3.1zm.9 2.6zm.7-.2zm.9.3zm.3-3.8zm.9 1.9zm1-2zm.5-.1zm.1-.1zm.1 3.3zm1 .1zm1.1-3.6zm.3.9zm.8 4zm.9-4.2zm1.4-.3zm1.1 0zm4.5 2.8zm.3-1.3zm.2 2.8zm3-.6zm.4-1zm8.9.2zm2-.5zm1 .5zm0-.9zm13.5-.8zm1.3 1.2zm.8 1.8zm1.5-4.2zm8.4.2zm3.2 4.9zm16.9-4.8zm41.5-.3zm.6 1zm20.1.3zm24.8 2.6zm.1-3.7zm.1 4.8zm.1-1.1zm0-.6zm.1 1.2zm0 .2zm.1-4.6zm0 .6zm0 3zm.1 0zm.1-4.2zm-.2 6zm0 5.5zm-.2-.9zm0-3.5zm-.2 2.7zm0-.7zm0-3.3zm-.1 3zm-34.6-2.9zm-42.1.8zm-29.7 2.7zm-.9-3.5zm-1 2.3zm-.3-.7zm-16.8 3.6zm-4.2-1.5zm-3.2-1.3zm-4.4-.3zm0-1.6zm-3.4 2.9zm-2.4-.2zm-4.7-.1zm-.6-1.1zm-.9-1.7zm-5.1 3.9zm-3.1-2.2zm-.8 1.5zm-2-.5zm-2.1.2zm-.2-2.7zm-.2 2.9zm-.3-1.3zm-.2.6zm-2.7 2.6zm-1.8-2zm-.1 2.3zm-.6-3.8zm-.2-.5zm-.4 2.1zm-.1.2zm-.9 1.3zm-.1-3.3zm-.3 3.5zm-.7-1.4zm-1.4-3zm-.8-.3zm-.3 1.4zm-.2 1.6zm-.2 1.4zm-1.2-.5zm-.7-4zm-1.5.1zm-1.8.1zm-.4 2.6zm-.7.9zm-.4-.5zm0 1.7zm-.2-4.8zm-.5.2zm-.3 2.7zm-.2.8zm-.3.3zm-1.2-3.9zm-.1 4.4zm-.2-3.9zm-.6 1.4zm-.2 2.6zm-.4-1.4zm-.5.1zm-.4-2.1zm-1.9.4zm0-1zm0 1.9zm0-1zm-.2 1.2zm-.1 2.1zm-.1-1.8zm-.9-2zm-.5 3.6zm-.2-.7zm-.3-2.5zm-.4 1.9zm-.1-1.4zm-.5 1.3zm-.1 1.5zm-.1-1.5zm-1 1.5zm-.3-1.8zm-1.5 0zm-.1-1.8zm-.8 3.4zm0-5zm-.7 5.8zm-.2-3.8zm-.6-.4zm-.3 3.8zm-1.6 0zm-.3.3zm-.3-4.1zm-.4 2.6zm-.1.6zm-1.7.8zm-1.6-1.1zm-.2-4zm-.9 3.9zm-.9 1zm-5-3.5zm-9.4.9zm-40.9-.7zm-4.6.4zm-.1-2.5zm0 2.4zm-.4-.8zm-1.1.3zm-.5 2.1zm-.5-4.1zm-.2.5zm-.3 1.4zm-.1-.6zm-.4.7zm-.1 2.8zm-.1-4.7zm-.5 1.3zm-.1 1zm-.3-1.3zm-.1.6zm-.4.1zm-1-.7zm-.2 1.6zm-.2-.7zm-.1 2.6zm0-4.5zm-.3 3.4zm-.8-2.3zm-.4 2.6zm-.2-1.3zm-.3 2.5zm-.2-2.5zm-.4-1.6zm-.5 1zm0 2.3zm-.3.5zm-.2-2.3zm-.4 2.2zm0-.3zm-.2-3.8zm0 .5zm-.6 1.4zm-.2 1zm-.1-2.5zm-.1.3zm-.2-.9zm-.5 4zm-.3-.3zm-.2-3.3zm-.4 1.8zm-.8-1.3zm-.3.7zm-1.3 2zm-1.3-3zm-.3.7zm-.3-.1zm-.2 3.8zm-.3-1.5zm-.2-3.2zm-.1 4.6zm-.5 0zm-.3-4zm-.2 4.5zm-.1-1.5zm-1.9 1.5zm-.7-3.2zm-.3-1.3zm-.4 1.2zm-.2-.5zm-.1 1.4zm0 2.3zm-1-3.9zm-.2 1.7zm-.3-3.2zm-.4.8zm0 2.2zm0-.9zm-.5 1.1zm-.3.8zm0-3.2zm-.2 3.6zm-.4.8zm-.4-1.7zm-.1 1.4zm-.1-.5zm-.6-1zm-1.3 1.4zm0-2.4zm-.4-.4zm-.1.1zm-.3 3.3zm-.3-2.3zm-.3-2.2zm-.1.5zm-.7-1.6zm-.2 3.6zm-1.1-.6zm-.8.9zm-.6-3.6zm-.8 1.1zm-.6-.1zm-.3 4.4zm-1.4-1.4zm-.9-.7zm-1.2.5zm-.2 1zm0-1zm-.5 1.1zm-1.4-.7zm0 .3zm-1.2.1zm-.4-2.2zm-.1-.1zm-.2 2.5zm-.1-1.4zm-1.3 1.1zm-.3-3zm-.6 3.2zm-3.9-.4zm-.4-4.6zm-4.7 5zm-8 .7zm-3.3-4zm-1.7 2.6zm-1.2.6zm-4.1.6zm.9 3.9zm.5.6zm.4-2zm1.6-1.2zm2.3 3.9zm1.6-2.2zm3 .3zm0-.8zm2.3-2zm2.2 2.3zm1.8 2.6zm1-3.6zm.2-.3zm.6 3.5zm.3.6zm1.2-1.9zm.3 2.4zm1.5-2zm.2 1.3zm1.4-1.4zm0 2.2zm2.6-3zm.3 2zm.7-2.4zm2.2.5zm.8 2.3zm.2-.1zm.4-2.3zm.8 2.2zm0-3.9zm.5 2.8zm.4.5zm.2-2.1zm.5 1.2zm.7-2.1zm.3.5zm0 1.4zm.6-3.1zm.7 1.6zm.1 3.7zm.2-1.2zm.5-1.4zm.1-2zm.4 2.1zm.2-1.2zm.1 3.2zm.7-1.8zm.1.9zm1.3-1.3zm.4-2.1zm.9 2.6zm.5.3zm.1 1.1zm.3 0zm.3-.3zm.1.5zm1.1-2.1zm.3-2.4zm.1 1.2zm0 0zm.5 3zm.3 0zm.2-.2zm.8-3.3zm.2 4.7zm.1-4.5zm.1.2zm1.4-1.1zm.3.3zm.9.3zm.4.7zm.5.4zm.4-1.9zm0 5.7zm.2-5.6zm1.7 4.3zm1.5-2.6zm.1.1zm.3 1.1zm.4-2.7zm1.8 3zm1.1-2.1zm.5 2.1zm.1.1zm1.3-1.8zm.6.1zm1.5 1.3zm.6-2.3zm1.7.1zm4.5.9zm.3.6zm5.3 0zm42.8 2.9zm10.6-4.8zm1.7 5.3zm.2-3.4zm2.6.6zm0 2.4zm2.3-3.2zm1.3 1.2zm0-2.3zm2.4 2.3zm.2 2.3zm.5-.6zm.4-5zm.2 4.4zm1.3-3.5zm.1 4.1zm.1-2.3zm.1-.7zm.4 2.4zm2.4 1.2zm.4-1.1zm.1-3.6zm.8 0zm0 1.1zm.4-.2zm.3-1.3zm0 3.1zm.6-.4zm1.8.5zm.3-1zm.3-.4zm.2-.3zm.1-.5zm.1.7zm.5-1zm.5 4.5zm.8-3.1zm1.6-.9zm.2.2zm.3-1.1zm.2 2zm.5-1zm.1.1zm.2 2.2zm1.8 1.1zm.9-1.5zm.3 1.5zm.1-2.5zm0 .5zm2.1 1.2zm1.3.5zm.1.1zm2.4-.1zm1-3.7zm.5 2.4zm0 .3zm.2.1zm0-1.5zm.7-2.5zm2.3 3.2zm.8-1.7zm6.3 1.1zm1.3 2.3zm1.1-3.8zm.1 4.2zm.4-.1zm4.4.1zm.4-2zm6.1-1.7zm5.4 1.2zm.4.8zm1.4-3.4zm.6 5.3zm.4-4.6zm3.6-1zm1.3 1.3zm10.1 2.2zm4.1.2zm8-3.1zm6.6 1zm95.1-.3zm13.3-.2zm.1 1.9zm.1-2.6zm.1 3.4zm0-.3zm0 .3zm.4 6.4zm-.1-.4zm-.3-2.1zm0 3.9zm0-1.2zm-.2-2.8zm-.1 2.7zm-102.6-3.5zm-12 3.1zm-6.2-1.1zm-16.5-2.5zm-16-.1zm-1.2 1.8zm-5.1 2.6zm-4.4-2.5zm-.9.6zm-.5-1.6zm-1 4.3zm-2.6-1.7zm-2.5-3.5zm-1.1 3.6zm-4.4-3.5zm-1.4-.2zm-.1.6zm-.1.3zm-2.6-.8zm-1.4.8zm-.7-.5zm-1.3-.5zm-2.3.3zm-.7 5.3zm-.2-2.7zm-4.7-1.5zm-.6.1zm-.7.1zm-.1 1.2zm-.3.3zm-.7 1.6zm-.9-1.7zm-1 .9zm-.6-.5zm-.1 1.8zm-.5-3.1zm-.4 1.4zm-.3-2.6zm-.1.7zm0-.7zm-.3 3.4zm-.1-2.1zm0 .1zm-.3-1.4zm-.9 2.9zm-.5-3.8zm-.9 1.7zm-.1 2.5zm-.7 1zm-.8.4zm-.4-4.8zm0 4.1zm-.2-3.3zm-.4 2.1zm-.8-1.6zm-.3-.1zm-.6.9zm0 2.1zm-1.1-2.4zm-.1-1.7zm-.2 3.8zm-.1-1.1zm-.1-1.3zm-2-2.1zm-.9.1zm-1.4 4.3zm-3.6.4zm-1.2-1.7zm-69.8-.6zm-1.4-1.8zm-1.8.7zm-.2-.8zm-.5-.6zm-.3.3zm-2.4-.1zm-.4.1zm-.3.7zm-.2 4.2zm-1.2-1zm-.8-2.5zm0 2.8zm-1.8-4.7zm-.3 4.8zm-.1-3.7zm-.1.3zm-3-.1zm-.8-.4zm-.8 1.3zm-.1-2.2zm0 4.2zm-.2-2.6zm0 4.1zm-.8-3.4zm-2.3 1.4zm-1-2zm-1.3-.9zm-.5-.4zm0 .4zm-.6.5zm0 4.5zm-.4-2zm-.5-3zm-.5 4.5zm-.1-.2zm-.3-.5zm0-1.2zm-.5-.3zm-.2 0zm-.5 1.8zm-.3-4.3zm-1 1.3zm-.1 1.8zm-.4.6zm-.5 1.1zm-.1-.4zm-.5-1.6zm-.4.3zm-.2 1.8zm-.9-.9zm-.5 1.1zm-2-3.3zm-.7-.7zm-.2.4zm-.1 3.2zm-1.9-1.8zm-2.7-3zm-.1 1.8zm-.8.4zm-.1 1.7zm-.6.9zm-.4-.8zm-.6.9zm-1.2-5.1zm-.1 1zm-2.3 0zm-.1 3zm-.1 1.1zm-.3-2zm-1.8-.3zm-.6-1.3zm-2.4-1.7zm-1.9 5.5zm0-4.1zm-.3 1.1zm-.5 1.2zm-.3-1.3zm-2.7 8.7zm1.6-1.5zm.8-1zm0-2.5zm.2 1.4zm.2 1.6zm.5-.4zm.8 3.1zm1.7-3.7zm0-1.8zm.3 2.5zm.7 1.6zm.7-.7zm.9.3zm.3-3.3zm.5 4.3zm.3-2.5zm.1 3.3zm.2-2.1zm.2.3zm.2 1.6zm0-1.5zm1.1.4zm.2-4.6zm.2 5.2zm.1-2zm2.7 1.2zm.2.6zm.1-2.7zm1.3 1.3zm.3 0zm.7-3.5zm.2 3.9zm.2.3zm.1-3.2zm.1 3.6zm.5-2.2zm.8-1.8zm.7 5zm.2-1.6zm.2 1.6zm0-3.6zm.1 3zm.1.2zm.1-1.4zm1-3.3zm.1 3.4zm.3-.6zm.1-2.9zm1.7 5.2zm.5-2.7zm.1-1.2zm1.1-.1zm.2-1zm.2 3.5zm.4-2zm.1 1.1zm.4-2zm.3.2zm.4-.7zm.4 2.1zm.4-.4zm1.3-2.5zm.5 1.7zm.4 1zm.3-2.2zm1.7 3.4zm.4-3.3zm1.9.4zm1.5.5zm1.2-1.3zm2.6 2.6zm0-2.4zm.6 1.8zm1 .7zm1.6-.1zm9-1.6zm8.7-.5zm41.1 2.8zm11.1-1.3zm6.3 2.6zm.4.9zm.6-1zm0-1.1zm1.7 0zm2.7.5zm.1-.5zm.1 1.4zm.1.5zm.9-2.2zm.5 1.9zm.5-4.4zm.3 5.1zm.3-.6zm1.6-3.2zm.1 1.7zm.1.6zm.4 0zm1.9-3.3zm0 3zm.1.4zm.7-2.2zm.3 3.5zm.1-5.5zm.2 3.4zm.6 1.8zm.6-4.9zm.3 1zm1.5-1.6zm.4.2zm.4.6zm1.1 3.2zm.2.6zm.6.5zm.2-4.2zm.9.3zm.5 4.3zm.9-4.7zm.5-.4zm2.1 3.2zm.5-1.6zm1.4 1.4zm2.1-.7zm1.1.9zm.1-2.7zm.8 1.1zm2.1 1.5zm1.4-1.3zm4.8-1zm.1-.6zm.8 4.2zm.5-3zm1.8 1.9zm0-2.3zm1 1.6zm0 2.5zm.4-1zm.2-.2zm.9.2zm.9-1zm4.3 1.1zm1.7-3zm3.8 3.5zm4.6-4.2zm4.1 3.3zm3.3-1.8zm1.7-2.2zm3 2.8zm1.3-1.5zm12.7 2.4zm8-3.3zm9.3 3.2zm17 1.2zm103.1-3.5zm0 .2zm0 4zm0-.5zm.1-2.6zm0-1.2zm.1 3.6zm.1-2.1zm0 .3zm0 1zm.1.6zm0 .9zm0-.1zm.1-1.3zm0 1.2zm0-2.4zm0-.7zm0 .7zm-.2 7.6zm0-2.9zm-.1 2zm-.1-3.2zm0 1zm-.1.9zm-138.2-.6zm-17.5 3.4zm-4.2-3zm-6.6-2.2zm-1.7 1.4zm-15.5-1.5zm-.4 0zm-2.9 4.4zm-2.4-3.7zm-1.5 3.2zm-.8.2zm-.8-2.7zm-2.8 4zm-1 .5zm-.2-5.6zm-2.2.5zm0 1.9zm-.4 1.8zm-3.1-2zm-1.8 1.7zm-1.2-2zm-.4 1.5zm-1.2-3.1zm-1.6-.2zm-.4 4.3zm-1.3-4.6zm-1.9 2zm-.6 1.3zm-.2-1.7zm0 2.3zm-.7-1.5zm0 2.8zm-.2.6zm-.1-2.1zm0-1zm-.2 1.4zm-.8-2.7zm-1-.7zm-.4-.2zm-.7 4.7zm-.6-4.4zm-.7 2.7zm-.6-2.9zm-.6 2.1zm-.1-2.2zm0-.2zm-.2 5.4zm-1.5-5.8zm-.1 5.2zm-.1-1.4zm-1.2 1.6zm-1-.9zm-1-3.4zm-1.3 4zm-.1-2.5zm0 3.3zm-.3-5.6zm-.3 1.9zm-1.2 1zm-.1-3.1zm-.1 5.4zm-1-1.6zm-.7 1.1zm-2.9-3zm-.2 1.1zm-.2 1.3zm-1-1.4zm-1.4-.7zm-8.1 2.8zm-70.7-3.7zm-1.2-1.1zm-5 .7zm-6.7-.9zm-.6 2zm-1.5 1zm-1-1.8zm-.2.9zm-1.1-2.2zm-1.1 2.5zm-3.3.7zm-.5 2.2zm-.2-.5zm-.2-1.5zm-2.1-1.4zm-.2-1.7zm-.3 1.9zm-.1 2.8zm-.7-2.3zm-1.4.3zm0 .1zm-.1-3.1zm0 3.6zm-.9-2.7zm.3 6.8zm.3-.5zm3.7 3.2zm3.1-3.4zm2.1.3zm3-.6zm.2 2.3zm.8-1.8zm.1 0zm14.4 1.3zm16.4 1.9zm34.1 1.2zm4.4-.7zm1.5.7zm1.7-2.4zm.1-.1zm.1 2zm0 .8zm.3-.6zm0-1.2zm1.9.9zm3.1-.5zm2-2.1zm1.2 2.4zm.2-2.1zm.9 2.3zm.2-2.8zm.4 2.7zm.4-2zm.4 1.5zm1.2 0zm.3 1.4zm1.3-1.3zm.6-2.3zm.6 3.2zm0-5.1zm.1 1.2zm.3.8zm.4-.6zm.1.9zm1 2.9zm.2-3.7zm.9 1.9zm.3-.7zm.3 2.2zm.1-.5zm1.8-1.8zm2.1-.5zm.2 2.4zm.1-1.3zm.4 1.7zm.7-2.6zm0 .5zm.3-2.3zm.3 1.4zm.2.6zm.7-1.3zm.1 1.2zm1.4-2.4zm.7.6zm.5 4.6zm.1-1zm1.3-.7zm.3 1.5zm.2-2.1zm.1-3zm0 2.1zm.2-.3zm2.5 1.8zm3.1-3.7zm1.7.5zm2.2 4.4zm4.1-4.1zm.2-.4zm.1 1.5zm2.4-2zm.9.9zm1.1.8zm.1-.8zm0 1.2zm6.1-1.6zm2 .3zm0 4.4zm.4-3.1zm3.1-1.6zm1.3.5zm7.2-.9zm1.3 4zm.2 1.6zm.2-4.1zm16.2.9zm12.3-.5zm68.6-1.1zm88.6 2.5zm0-1.1zm.1 2.5zm.1 1.1zm.2-.8zm.1-4.7zm0 6.1zm0 3.3zm-.1-.6zm-.1-2.3zm0 2.4zm-.1.8zm0-3.2zm0-.3zm-.1.1zm0-.4zm0 2.6zm-142 1.8zm-26.5-4.2zm-15.9 4.5zm-1.9-4.7zm-1.1 2.7zm-7.4-.8zm-9.4-1.9zm-.2 1.1zm-2.3 2.1zm-1.2-3.3zm-3.4 3.8zm-4.7.5zm-.1-3.6zm-1.2-.2zm-1.7-.3zm-.7.7zm-.5 1.6zm-.3 1.3zm0-.8zm-2.5-.7zm-.9-2zm-1.6 1.3zm-3.6.2zm-.8.9zm-.4-1.6zm-.7.4zm-.4.5zm-1.8.1zm-.9-.7zm-.4.4zm-.7 1zm-.2-1.3zm-2.2 3.6zm-.2-2.7zm-.7 1.2zm-.1-2.7zm-.5.8zm-1.1 1.4zm-.9-2.2zm-1.7 1.9zm-1.3.5zm-.5-2.4zm-.4 4.5zm-1-1zm-.6-.9zm-.2-.6zm-.3-2.7zm-.1-.2zm-.4 2.7zm-.1-2.1zm-.2 1.6zm-1.1-1.9zm-.4.6zm-.5-.1zm-.2 1.9zm-.2.1zm-.6-2.6zm-1.7 3.5zm-1.2-2zm0 1.2zm-.5-2.2zm-.3.4zm-.3 3.6zm-1.2-.6zm-1.2-3.3zm-1.9 2.1zm-.5-1.5zm-.7 1.1zm-1.4 2.2zm-.3-4.1zm-.7 4.6zm-.1-3zm-.2-.8zm-.2 2.5zm-.6-3zm-.1 2.5zm-.5 1.9zm-.4-5.4zm-.3 2.3zm-.5-1.2zm-.1-.6zm0 4.7zm-5-1.2zm-.2-2.3zm-.1 1.6zm0 .2zm-1.3 1.3zm-.5-.4zm0-.3zm-.8-.9zm-2.2.5zm-.6-.3zm-.1.7zm-2-.4zm-1.4 1.1zm-2-.5zm-2.6-.3zm-2.7-.1zm-.9.4zm-1.8-1.2zm-1.4 1.7zm-5.5-.8zm-7.6 0zm-9.6-1.2zm-3.1-.2zm-7.3-.1zm19.5 5.2zm2.2-1.5zm.7 3.8zm.3-.2zm2.7-1.4zm.5.2zm.6 2.2zm.6.5zm.7-2zm.6.4zm1.1 1.4zm1-1.5zm.9-1.7zm.6.3zm.9-1.2zm.7 3.5zm.8 1.3zm.1-.4zm.1-3zm2.1 1.8zm.1-1.1zm1.2-.1zm1.3-1.5zm.2.5zm1.1 1.4zm.1 1.8zm.2-1.2zm.2.8zm.9-4.2zm1.1 1.3zm.3 2.6zm0-1.7zm1-1.9zm1.9-.3zm.7 4.7zm.8-2zm1.8-2.1zm.2-1.1zm.1 4.1zm.8.4zm.1-4.7zm.2.9zm.2.9zm.6.7zm.6 1.4zm.2-.6zm.1-2.3zm.2 2.9zm.2-.6zm1.2-.3zm.1-2zm.7 1.5zm.8 1.1zm0-1.2zm.9 2.7zm.2-.4zm1.1-2.1zm.4-.5zm.3 0zm3 1.5zm2.1-.9zm.9 1.7zm.5-4zm3 .5zm1.3 4zm1.8-3.4zm.6-.9zm1.7.1zm.5-.7zm.1 1zm.6.4zm.7-1.2zm0 1zm.1 3zm.3-2.8zm5.6 2.5zm.9-1.8zm2.9-.4zm.6 1.7zm.5-2.1zm.8 4.6zm3.9-4.7zm3.5.5zm2.5 1.3zm9.6.2zm6.4.4zm.1-1zm1.5.5zm3.1 2.7zm1.6-.6zm7.6-.9zm2.1 1.3zm56.3-4.3zm1.3 2.7zm137.5-3.6zm0-.1zm.1 2.7zm.1 0zm0-3zm.2 4.9zm0-.2zm0-2.8zm.1-1.7zm0 2.6zm.1-1.1zm0 6.3zm-.4.2zm-245.4-1.7zm-22.6-.2zm-.7.1zm-1.6.1zm-2.6-.3zm-7.3.4zm-11.5-.5zm-18.9.4z" stroke="#0000ff"/>
<path d="M1261.5 863.1zm-2.8-2.6zm-5.3 3.3zm-48.6 5.6zm2.7 0zm3.2.4zm.6-4.7zm1.2 3.7zm4.9-.6zm3.3 1.4zm.5-.9zm3.3-.1zm.5-1.7zm.2-.3zm.1 2zm.9-.1zm1.8.4zm.2-2.1zm1.3 1.9zm5.4.2zm2-.3zm1.3-3.6zm.7 1.2zm.4 1.6zm1.9 1.4zm3.3-2zm1.9 1.6zm1.4 1.1zm2.7-.5zm1.6-3.5zm3.8-1.6zm5.3 4.1zm-9.6 1.6zm-1.2 1.4zm-1.9-.9zm-1 3.5zm-2.3 1.4zm-7.5.4zm-1.3-4.4zm-1.1 3.8zm-.3.6zm-.4-2zm-.5-3.6zm0 .6zm-.9.2zm0 3zm-.4-3.4zm-1.4 5zm-1.4-5.6zm-.1 5.5zm-.5-3.5zm-1.2 2.7zm-.5.2zm-1.2-4.9zm-1.5 5.9zm-.8-1zm-.1.9zm-1.3-3.5zm-.1 1.9zm-.6 1zm-1.2-3zm-.1.6zm-.5-1.4zm-.2 1.5zm-.4-2.2zm-.1 5.2zm-.5-1.3zm-1-3.4zm-.2 4.5zm-.1-5.5zm-.6 4zm-.1 1.6zm-.6-4.6zm-.5 1.2zm0-.4zm-2.2.5zm-.2 2.8zm-.3-4.2zm-1.5 1.3zm-.9 1.4zm-.6-3zm-.8 3.3zm-.7-1.7zm-1.1-.4zm0-1.5zm-.5 1.7zm-.7-1.4zm-.2 1.4zm-2 .2zm-1.1 1.7zm-1.1.3zm-.4-2.1zm-1.5-2.3zm0 4.4zm-2.8 1.2zm-.2-2.2zm-.9-1.4zm0 3.6zm-2.1-1.1zm-.2-2.2zm-1.2 2.9zm-.6.7zm-1-4.5zm-.4 2.4zm-.2 1.7zm-.2.3zm-2.8-1.6zm-1.5.8zm-1.6-.7zm-3.4.6zm-6 1zm-17 4.3zm5.3.5zm.1-1zm2.8 2.2zm.2-.3zm1.5-.1zm1.6-1.6zm3.2-2.1zm1.7 1.7zm.8-1.2zm.5.3zm1.2-2zm.1 4.6zm1.6-.6zm.7-1.3zm1.6-.2zm.2.8zm1.4-1.7zm.2-.5zm.1 2.9zm.1-4.4zm1.3-.2zm.1.2zm.1 3.9zm.8-2.5zm.6 2.7zm1.3.3zm.7.5zm.3.3zm.2-2.6zm.2 3.1zm.9-5.2zm.2.7zm.1 1.4zm.1-2.2zm.9 4.2zm.7-4zm1 3.5zm.4-.2zm.1-1.1zm.2 2zm.5-4.3zm.1 2.9zm0 .9zm.5-4.3zm.1 2.7zm.5-2.8zm.4 3.9zm.3-1.6zm.2 0zm0 2.5zm1.4-3.3zm.5-1.5zm.1.8zm.6 2.6zm.4-3.2zm.5.2zm.8 2.9zm.1-1.2zm.4.8zm.4-2.2zm.6 1.1zm.4-1.5zm.3 2.3zm.5.5zm.6-3.1zm2 4.9zm.7-2.8zm.2-.1zm.8 3.7zm2.7-1.4zm.3-2.5zm.1-1.6zm1.6 5.1zm.2-4.1zm1.5 3.7zm1.6.9zm1.5-3.9zm.1.3zm2 .8zm.2 2.2zm.5-.9zm.1-.9zm0-.7zm.4.6zm1.1.2zm.2.5zm1-1.4zm1.4 2.2zm1.4-3.1zm.2-.7zm1 .7zm.4 4.1zm1.1-4.4zm.1 3.4zm.8-2zm.2 2zm.2-1.1zm.1-1.7zm.6 2.9zm.7-4.3zm.5 1.5zm.4 2.8zm.1-1.4zm1.3-1.5zm.3-1.1zm.7 3.7zm.1-1.9zm0 1.6zm.1 1zm.4-2zm1.1-1.5zm.6-1.3zm0 3.9zm1.1 1.1zm1.1-1.8zm1.2 1.9zm1.3-4.4zm.5 2.9zm.2-.4zm2.7-1.5zm1.6-1.9zm.7 1.9zm.2.1zm3.1 2.4zm13.9-3.6zm-19.4 5.3zm-.6.5zm-2.2-1zm-3.9.9zm-.3 1.7zm-1.2.4zm-.6 2.6zm-.5-3.8zm0 .6zm-.9-.7zm-1.1 4.2zm-.9-5.2zm-.4 4zm-1.1.7zm-.7-4zm-.1-.4zm-.6 2zm-.8-1.9zm-.9 0zm-.4-1.1zm-.1 5.9zm-1-2.4zm-.3 1.2zm-.3-1.7zm-.3 2.1zm-.1-4.6zm-.2 5.4zm-.7-.9zm-.4-1.7zm0-3zm-.1 4.8zm-1.1-3.9zm-.5 2.6zm-1.1-3.2zm-.3 1.4zm-.5.1zm-.4 3.4zm-1.2-.8zm-.8-4zm-.6 3.5zm-.2-2zm-.8.6zm-.1 1.9zm-.1-1.8zm-.5-1zm-2.3 2.9zm-.9-3.5zm-.3 2.4zm-.3-3.3zm-1.3 5.5zm-.2 0zm-2.1-1.9zm-.7 0zm-2.7-2.9zm-2.4 1.1zm-.4-.8zm-6.1 3zm-.2 1.5zm-1-4.7zm-3.2 1.5zm-3.6 2.6zm-.4-4.5zm-.6 3.9zm-.1-2zm-.2-.3zm-.7-1.2zm-1.5 3.2zm-1-2.4zm-.4 2.4zm-.9-4.1zm-1.9.5zm-1.6 1.4zm0-.5zm-.1.7zm-.8.8zm-.7-2.2zm-.5-.1zm0 4.8zm-.1-3.6zm-.8-1.1zm-1.4 0zm-.1 3.4zm-1.4-3.3zm-.3 1.7zm-.1-2.5zm-.3 1.8zm-.4.9zm-.3-1.6zm-.6 2.7zm-.9-4zm0 3.9zm-.5-3.7zm-2.1 5.2zm-.6-1.2zm-.1 1.6zm-.2-4.6zm-2 3.1zm0-1.1zm-.4 1zm-.4.4zm0-2.8zm-1.2.6zm0 2.5zm-.6-.9zm-.9.8zm-.6-3.3zm-.8.9zm-.2 2.8zm-.6 0zm-.1-2.2zm-.9 1.9zm-2.5-.1zm-1.2.6zm-1.4.4zm-3.5-1zm-4.1-.3zm-14.6 5.8zm6-1.5zm.5 2zm1.5-4zm.3 4.1zm.1-2.2zm.3-.1zm.3 2.8zm.1-.4zm1.4-.3zm.5-.4zm.6-1.6zm.8 1.7zm.5.9zm.1-.1zm1.3-.3zm1.4-4.3zm.5 2.1zm.7 2.6zm.5-3.7zm.1-.3zm.2-.7zm.1 1.2zm.7 2.6zm.5-2.5zm.2 2.6zm.3-1.4zm.7.2zm.1.6zm.5-1.3zm.4.1zm1-.5zm.4-1.1zm0 .3zm.8 2.8zm0-3.9zm2 1.6zm.5 2.6zm.1 0zm1.4-3.4zm.1 2.4zm.1-3.2zm.9 2.2zm.9-.9zm1-.5zm.1-.5zm.8.2zm.3 2.5zm.4-.9zm1.9.5zm0-3zm.1 4.6zm2.4-.5zm.9-.5zm.1-.9zm6.2-.1zm1.4-1.6zm0 2.6zm3.2-2.4zm1.3 1.1zm7.8 0zm0-.5zm8.5-1.7zm9.4 1.6zm0 1.3zm5.1 2zm.4.3zm.5-4.1zm1.2 4.4zm1.9-5.4zm0 .6zm2.3 2.6zm1-2.2zm.5 1.9zm.2.2zm.2 1.5zm0-.9zm1-2.9zm1 1.4zm.1 1.7zm1.1-3.1zm.4 4.7zm1-5.7zm.1 1.1zm.9 1.6zm0-.4zm.1-1.4zm.5-.9zm2.1 2.4zm.7-1zm.6.6zm.3 2.3zm.3.3zm2-2.4zm3.9-2.1zm-8.8 9zm-.6-1zm-.1.2zm-.6.1zm-2.3.8zm-1.2-.1zm-.6 2.6zm-.4-2.5zm0-1.9zm-.8 2.4zm-.9-.1zm-.2-2.9zm-.2 3.9zm-.3-3.2zm-1.2 3.2zm-.3-1.2zm0 0zm-.4 1.2zm-.2-3.2zm-.9 1.7zm0-.5zm-1.4-.3zm-.3-.2zm-.7.3zm-.2-.4zm-.3 2.7zm-1.4-2.3zm-.1 2zm-1.3.3zm-.1-2.7zm-.7-.4zm-.6-.3zm-.7-1zm-.1.3zm-.2 1.2zm0 4.1zm-2.7-2.3zm-2.9.6zm-12.3-3.9zm-.6 5.5zm-9.3-.2zm-11.1-3.7zm-6.7 3.2zm-4.5-2.5zm-.2-1.3zm-2.2 2.1zm-2 1.3zm-2.6-2.5zm-1.9 2.3zm-.3-1.4zm-.6-2.4zm-1.9 5.1zm-.4-4.8zm-.4 4.9zm-.1-2.4zm-.4 1.8zm-.2-.1zm-.5-1.2zm-.8.1zm-.2-1.2zm-.8-1.8zm-.2-.1zm-.2 4.9zm-1-5.5zm-.4 1.2zm-.4 1.6zm-.1-2.2zm-.6-.2zm-1.2.6zm-.2-.7zm-.3 2.2zm-.2 2.1zm-.1-3.7zm-.4 2.5zm-.9-2.2zm0 4.1zm-.5-3.5zm-.2 1zm-.3 1.2zm0-3.6zm-.7 3.2zm-.4.9zm-.1.8zm0-1zm-.3 1.2zm-1-3.7zm-1.5.8zm-.5-.1zm0 2.5zm-.9 0zm0-.6zm0-3.1zm-.5 1.6zm-.1 1.7zm-1.4-3.4zm-1.1-1.1zm-.1 4.8zm-.4-1.7zm-.7.6zm-.3 1.7zm-2.2-1.4zm-.6 1.4zm-.4-.2zm-3.5-.6zm0 .7zm-8.7-.4zm-9.5 2.9zm6 0zm1.5.4zm1.9 1.9zm.6-.9zm1.7-2zm.4 3.1zm1 .5zm3-1.1zm.1.9zm.5-1.7zm.3-1.4zm.2 2.4zm1.4.6zm.7 0zm.5-1.6zm.6-.2zm.5-2.4zm.1 4zm1.5-2.8zm.1 3.1zm.2-4.6zm.1 0zm0 3.2zm.1 1.5zm.6.3zm.1-4.1zm.1 3.6zm.1-2.8zm.5.2zm0 1.7zm.8-.5zm.6.2zm.3-1.9zm.4-1zm.1-.8zm.1 5.1zm.3.2zm.2-4.3zm.1 1zm.1.4zm.3-.8zm.2 1.5zm1.4-1.4zm.6-.5zm.1 3.7zm2-2.6zm.1 3.5zm.3-5.8zm.1 5.7zm.2-2zm3.5 1zm.8-1.9zm.2 2.7zm0-4.3zm.2.3zm1.5 1.5zm.4-2.4zm1 4.6zm.3-4.2zm.3.1zm3.6-.1zm2.3 3.9zm.2-1.6zm.4-1.5zm3.2-.1zm.8 2.8zm.8.9zm12.9-3.8zm.2.8zm6 1.4zm9.1-.8zm1.8-3zm7.7 5.5zm.6-3.8zm.4-.5zm.9 2.9zm.1-3.6zm.3 4.4zm.6.9zm1.6-1.3zm.6-1.2zm.1-2.7zm1.4 2.1zm2 1.1zm1-.5zm.2.8zm.1.6zm.1.7zm.4-4.1zm1.9 2.5zm1-.1zm.7-.9zm0 .3zm.6 1.8zm.3-1.9zm.7-.3zm.4-1.2zm.1.6zm.3-1.3zm.6 2zm.2-1.4zm.3 3.6zm.4-.6zm.3 1.2zm.2-5.2zm.4 3.8zm1.5-3zm.2 1.2zm.2 0zm1.4-1.2zm2.4-1.2zm-2.9 9.8zm-2.9-3.2zm-4.1 1.1zm-.8-.8zm-.2 2.6zm-.3-2.4zm-.4-.1zm-.9-.8zm-1.3 3.3zm-.8-3.2zm-2.5 2.2zm-1.1-2zm-.6 2.5zm-1.1.9zm-.2-1.3zm-.1 1.9zm-.2-1.5zm-.6-1.5zm-.1 1.3zm-.5 2.4zm0-2.3zm-.2 0zm-.4-1zm0 2zm-.8 1.2zm-.1-.2zm-.4-1.8zm0-2.3zm-.1 0zm-.4 0zm-1.1 1.9zm-.6.4zm-.6-2.9zm-.4 5.5zm-3.4-2.1zm-.4.5zm-.1-1.3zm-.9 1.9zm-.2-1.4zm0-.5zm-1-2.7zm-2 5zm-.9.6zm-2.9-2.1zm0 1.8zm-1.1-2.6zm-4.4.9zm-4.3-.8zm-1.7-1.1zm-4.7 2.7zm-.3-2.9zm-.5 4zm-1.2-3.6zm-.2 2.7zm-4.8-1.2zm-.3 1.8zm-2.7-2.1zm-.8 2.3zm-1.2-.1zm-7.9-5zm-.4 2.1zm-1-.3zm-.6 1.4zm-3.5.6zm-.2.3zm-1.5-2.1zm-1 1.1zm-1.3-3.6zm-1 .7zm-.1.4zm-.2 1.4zm-.1-.9zm-.6 1.5zm-.7-2.9zm0 4.2zm-.3.3zm-1.9-1zm-.5-.8zm-.3 3zm-.4 0zm-.6-3.2zm-.3-1.8zm-.8 1.5zm-1.4 3.3zm-1-1.2zm-.8-.7zm-1.8-1zm-.2-2.4zm-1.1.7zm-.3-.9zm-.1.2zm-.3-.1zm-.1 4.4zm-.1.8zm0-4.5zm0 .6zm-1.1 1zm-.1 1.5zm-.1.6zm-.5-.5zm-.2-1zm-.3 2.7zm-1.2-3.8zm-.1.6zm-.2-1zm0 1.6zm-.2-1.1zm-.1 1.6zm-1.2.5zm-.9-.5zm-.3-2.6zm-.9 1.1zm-.4.9zm-.8-1.5zm-.1 3.2zm-.3.3zm-1.5-1.9zm-.6-.1zm-.2-1zm-.7 2.8zm-.1-1.5zm-.6 1.1zm-1.9-2.7zm-1 .9zm-.9 2.2zm-1.1-1.9zm-1.1 2.2zm-1.2-2.3zm-.2.2zm-.6-2.4zm-.1 4.7zm-.7-2.2zm-.2 1.9zm-.3.6zm-.4-.5zm-.7-2.4zm-.4-1.5zm-.7 2.5zm-.9-1.6zm-1.8 1.7zm-.4 2zm.6.5zm.8 2.4zm.2-2.9zm.1 3.6zm1.6-1.9zm.3-.4zm2.4.9zm2.3-1.9zm.1.3zm1.9 2.4zm.7-1.2zm0 .5zm1-2.3zm.8 1.2zm.6 3.7zm1.1-4.3zm.8 4.4zm1.3-2.7zm.4-2zm.2.2zm.4 1.7zm.4 1.4zm1.9.2zm1.6-.4zm.4-1.7zm.6-.2zm.2 2.6zm.3-3.1zm.2 2.4zm0-2zm.7 2.1zm.2-2.8zm.6 2.2zm0-2.1zm1.3 1.1zm1.3-1.5zm.6 1.6zm.2-.3zm.4 3.1zm.7-3.1zm.4-1.4zm.1 1.7zm.2 3.7zm.4-.4zm.4-4.7zm.3 1.1zm2.6-1.5zm0 1.5zm1.9 4zm1.1-2.8zm1.9-2.6zm.8 2.3zm.1.5zm0-.4zm1.6-2.2zm.9 3.2zm.5-2zm4.3.4zm2.1 2.9zm3.6-2.2zm.3 1.5zm1.4-.1zm.9.2zm.1-3zm.2 2.9zm.5-1.1zm1.8 1.7zm.5-4.3zm.9 4.7zm3.4 0zm.2-4.2zm2.2 2.1zm1.6-2.8zm.5 5.1zm.9.3zm.1-.9zm3.3-1zm.9-3zm.2 4.4zm5.7-.2zm1.7-1.8zm1.9 1.1zm.1-1.5zm1.1 3zm.5-.7zm.3-.2zm1-4.3zm.8.1zm.2 3.4zm.1 1.7zm.5-3zm.6 2.5zm.3-3zm.1-.6zm.4 3zm.1-1.3zm.4-.3zm.8 1.7zm.6.5zm1.1-1zm.6-3.2zm.3-.8zm1.2 2.9zm0-2.7zm.2-.2zm.7 1zm0-.9zm.9-.5zm0 1.9zm1.2-.6zm1 3.9zm.6-5.2zm.2 1.5zm0 .2zm1 .9zm.2-.6zm.2.9zm.1-.3zm1.9-2.1zm.8 2.3zm.6-1.5zm.3-.8zm0-.5zm.7.9zm.5-.7zm-13.8 9.5zm-2.5-3.5zm-1.8.8zm-3.5-.9zm-1.5 2.1zm-.5.6zm-.3-2.5zm-.2 1.9zm-.4-1.5zm-1.7.7zm-1.7 3.7zm-1.2-5.1zm0 4.7zm-.5-.2zm-.5-2.7zm0 0zm-.1-.1zm-.3-1.4zm-.4 1.5zm-.5 3.9zm-.8-1.2zm0-1.3zm0 2.2zm-.1-3.6zm-.9 0zm-.5.5zm0-1.9zm-1 .8zm0 .3zm-.1 1.3zm-.1-.4zm-.3-.7zm-.1.4zm-.3 3.8zm-1.6-5.8zm-.9-.1zm-.2 0zm-.8 2.7zm-.5-.8zm-.1 1.1zm0 1.9zm-.3-3.9zm0 4.3zm-.1-.3zm-.4-.5zm-1.2.8zm-.6-4.5zm-1 0zm0 4zm-.1.3zm-.1-.5zm-.4-1.9zm-.9-2.5zm-.8 2.7zm-.1-1.6zm-1.5 1zm-.5 1.5zm-2.5-2.7zm-.7-.8zm-1.9 5zm-.1-2.2zm-1.7-2.6zm-.2 2zm-1.4 1.6zm-.3 1.1zm-.1-1.5zm-1.2-1.1zm-1.5 3.2zm-.1-4.8zm-.2 4.1zm-.7-3.4zm0 3.7zm-.4-.7zm-.5.6zm0-3zm0 2.3zm-.1.2zm-.9 0zm-.7.2zm-3.3-2.2zm-1.8-2.7zm-1.1 1.3zm-.9 1.6zm-.1-2.5zm-6.5.6zm0-.2zm-1.4-.1zm-.3 2.4zm-.1.7zm-.8-.9zm-1.2 2zm-5.2 6.8zm6.8-.6zm1.5-4zm.6 4.3zm2-1.4zm1-2.6zm1.2 3.1zm.7-.3zm.2-3.4zm.4 4.7zm.3-.6zm.6-2.3zm.7 2.5zm.3-2.9zm2.2 1.7zm.6.4zm1.1-3.8zm.1 5.3zm.4-5.3zm.8 1.2zm2.5 2zm.4 1.2zm.5-.1zm0 .5zm1-5.3zm.1 2zm0-1.6zm.1 2.1zm.4.7zm.2-3.3zm.4 2zm.5-1.3zm.1.9zm.6 4.2zm.3-4.4zm.8 2.3zm.6-1.2zm.5-1.2zm.1 3.3zm.3-3.4zm.2 2.3zm.4-3zm.4 2.9zm.3 1.5zm.4-3.2zm.4 2.5zm.9.4zm.4 1zm.1-5zm.6.4zm1.7 3.9zm1.3-2.7zm.6-.7zm1 .4zm1.1-.2zm.9.3zm.8-1.7zm.5.3zm1 3.3zm1.3-3.6zm2.3-.3zm1.1.9zm2.2.9zm1.4-1.5zm-37.6 5.7z" stroke="#0048ff"/>
<path d="M1429.5 656zm.1 45.4zm.1 115.7zm.2 4.6zm-.4 14.4zm-200.4 33.8zm13.2 1.2zm-2 2.4zm-7.7.9zm-1.4.9zm-.1-1.8zm-1.5 1.6zm-.9-.1zm-1.2-3zm-3.5.9zm-5.3 1.3zm-3.3 1.1zm-5-1zm-1.1 1.5zm-4-.5zm-1.6-.2zm-1.4.4zm-1.9-.5zm-2.2.8zm-8 0zm-19 5.2zm2 .6zm4.7.2zm6.2-4.9zm.9 4.6zm.3-2.6zm.6.7zm.9 1.4zm.4.2zm.2-2.2zm1.4 2.7zm1.2-4.7zm1.2.8zm.3.2zm.6-1.8zm1.3 4zm1.1-3zm.1-.1zm.8-.8zm.3 2.6zm.4 1.8zm.2-2zm.7.1zm.9-2.3zm.2.8zm.5 1zm1-.5zm.1 0zm.2 3.9zm.1-.3zm.1-4.8zm1.1.1zm.1 2.6zm.2-2.5zm.7 1.6zm.8.1zm.1-2zm1.1 3.1zm.1-.6zm1.1 2zm1.6-1.9zm1.5-2zm.8 2.6zm1.2-3.7zm.4 4.7zm1.5.5zm.4-1.4zm0-1zm.2-2.6zm.4 2.5zm.5 1.5zm.2.4zm1-1.9zm.2.4zm.4.2zm.5-1zm1.8 3.6zm.5-4zm1.2.6zm1.1 1.8zm.7 0zm.9-2.5zm.6-1.3zm.2 5.3zm.4-1.7zm.8-3.1zm.3 2.1zm0 .8zm2.6-2.3zm1.4-1.1zm2.8 2.1zm1.1 3.2zm4.2-5.1zm3.8.2zm-11.8 9.7zm-1.7-2.9zm-.3.2zm-.1 1.3zm-.2-.2zm-.2-1.5zm-2-.3zm-.5 1.8zm-2.7.7zm-.5-3.3zm-.5 3zm-.3.3zm-.1-3.2zm-.7 1.1zm-1 1zm-.2.3zm-.7.7zm-.6.4zm-.9-.6zm-.3-1.7zm-.3 2.3zm-.8 0zm-.2-2.2zm-1.1-.7zm-.6-.4zm-.9.3zm-.2-1zm-.5 3.6zm-.1.5zm-4.5-.6zm-.3-2.2zm-.1-.8zm-.5.4zm-.3.1zm-.5.9zm-.8 1.9zm-.1-.3zm-.1 2zm-.4-4.6zm-.2.4zm-1-.7zm-.2 3zm-1.2-2.3zm-.5 1.8zm-.3 2.3zm-3.4-2.2zm-.4.2zm-2.3-2.6zm-.7-.6zm0-.2zm-1.6 2.7zm-.9.9zm-.9-.6zm-1.1 0zm-1.2-1.3zm-1.6 1.2zm-2 1.9zm-.6-.7zm-1-3.2zm-.4-.9zm-1.1 1.8zm-.5 1.9zm-.3-3.4zm-.1 2.8zm-1 .4zm-1 1.4zm0-.5zm-.3-2.7zm-.4 1.5zm-.1.2zm-.5-2.5zm-.1.2zm-.9 3.1zm-.1-3.1zm-1 4.8zm-.1-1zm-1.3-3.2zm-.2-.2zm-.5-.2zm-.3.7zm-1.5.3zm-.6 2.6zm-.7-1.8zm-.2 1.6zm-.1-1.3zm-.5-.7zm0 1.8zm-.7.7zm-.3-1.3zm-.3.8zm-.9-1.5zm-1.7-1.7zm-3.8 2zm-20.4 6.3zm.9-.5zm2-2.4zm1.4 2.7zm2.1 1.8zm2.3-.2zm2.1-3.7zm.2 4.3zm0-2.6zm.1 1.7zm1.5.1zm1.4-1.3zm.4.4zm.2-1.3zm.1 2.8zm.1-.1zm2.3-2.3zm.3 1.1zm.2-2.3zm.1-2zm.4.6zm1.4 4.9zm.2-2.4zm.7 1.1zm1.1.2zm.2-2.2zm.4 1.6zm.2-3.2zm1.5 4.8zm.3-1zm.3-4.2zm.7 5zm.3.6zm.1-3.4zm.3.3zm.7 0zm.6-1.3zm.1.6zm1 2.3zm.1-.7zm.1-2.3zm.6 2.6zm.4-.5zm.3-1.7zm.3 2.3zm0 1.3zm.4-2.8zm2.1-.5zm.4.4zm1.2-.3zm.7-1.9zm.2 1.5zm1.4 1zm.6-2zm1.1 2.5zm.3-.6zm0-.3zm.6-1.6zm.2 2.3zm.7-2.3zm1.1.6zm2 1.6zm.6 1.3zm.4-2.9zm1.6 2.7zm3.1-2.7zm.2 1.4zm.2-2.1zm3 1.5zm1.6-1.4zm.8 1.1zm1.7 2.7zm.2.6zm.2-.8zm1.5.2zm.5-3.7zm.5.8zm.8.7zm1 1.4zm1.9-3.1zm.9.8zm.2-.4zm1.4 1.9zm.5.9zm.4-3.4zm.1.3zm1.1-.3zm.6 4.5zm.1-1.1zm2.2-3.8zm0 1.7zm.3.3zm.4.7zm0 2.7zm1-4.1zm.1-.1zm0 3.3zm.8-2zm.6.6zm.3-.2zm0 1.4zm.6-3zm.4 4.3zm.8-4.6zm.6 3.4zm0-.2zm1-3.8zm1 1.8zm2 2.2zm1.3.8zm1-1.4zm2.2-3.8zm1.2 1zm-7.8 5.6zm-.6 2.3zm-.1-2.3zm-.8.2zm-2.1 3.3zm-1-2.9zm-.7 2.5zm-.7-.5zm0-1.4zm-.3 2.4zm-.2.7zm0-4.1zm-.7 4.6zm-.5-2.1zm-1-1.8zm-.5 3zm-1.5-3.4zm-.3 4.5zm-.4-5.4zm-.2 2.8zm-.3 1zm-.1-3.1zm0 2.3zm-.1-1.1zm-.1 3.7zm-.5-4.9zm-.4.4zm-1.1 2zm-.4-3.3zm-.3.2zm-.4 4.2zm-.4-.5zm-4.2-.8zm-1 2.2zm-.2-2.5zm-.1 1.2zm-.4-1.6zm-.1.9zm-.7 2.6zm-1.9-5.8zm-1 1.6zm-.3-1.6zm-2.2 1.3zm-.6-.8zm-1.2 5zm-.2.3zm-1.2 0zm-1-2.6zm-1.4.3zm-1.3-.9zm-3.4-2.1zm-.6 3.2zm-.8-3.2zm-1.9.5zm0 .1zm-1.6 2.3zm-1.6-1zm-.1 2.2zm-1.7-1.9zm-2.5-.1zm-.4 1zm-1.6-2.6zm-.8 1.9zm-.9 1.9zm-.1-4.7zm-.4 2.3zm-1-2.3zm-.3 2.5zm-.2-2.4zm-.1.2zm-1.1 1.8zm0 3.1zm-1.6-5.2zm-.4 4.4zm0-1zm-.1-.1zm-.8-1.5zm-1.2 3.3zm-.1-.9zm0-3.2zm-.2 4.3zm-.8-3.7zm-.7-1.5zm-.3 3.2zm-.5.4zm-1.4-.2zm-.5-3.5zm-.1 2.2zm-.6-.7zm-.1-.6zm-1.6 3.5zm-.5-1.9zm-.7 2.2zm-.1-.5zm-.2 1.5zm-.2-5.4zm-.2-.4zm-.4.1zm0 2.2zm-.8 1.1zm-.2-1.5zm-1.9 2.4zm-.8-.9zm-1.9-1.1zm-1.3-.4zm-.4-1.3zm-.1 5.2zm-1.3-.3zm0-3zm-.5-.8zm-.4.7zm-2.8 1.6zm-.4-2.4zm-1.9 2.4zm-1.1-.9zm-1.3 2.7zm-2.3 0zm-.8-1.8zm0 0zm-2.1 1.1zm-10.2 6.4zm5.2-1.9zm.1.4zm.1.3zm.1-.6zm.1 1.3zm.2 0zm.4-.9zm.9-2.4zm.1 3.5zm2.5-3.8zm1-.7zm.4 3.9zm.5-1.5zm.6 2zm.9-3.1zm.3 1.2zm0 1.7zm.2-4.9zm.1 4.5zm.3 1zm.2.2zm1-5.2zm.3 5.2zm.1-4.1zm.3 2.9zm0-.8zm.5-3.2zm0 4.7zm.1-3.8zm0 1.3zm.5-1.9zm.2 3zm.3-2.7zm.2 4.2zm1.7-4.3zm0-.1zm2.4-.9zm0 .9zm.2 1.8zm1.3-1.1zm0 2.8zm.5-3.2zm.5 1.5zm0 .1zm.9-1.4zm.6 2.8zm0-4.2zm.1 2zm.1.3zm.2 3.4zm.9-.7zm.3-5.1zm.5 3.8zm1.5-.3zm.5.6zm.3-1.1zm0-.9zm.9 0zm.4.9zm0 1.7zm.5-.8zm.3.9zm.3-1.7zm0-.1zm.1.3zm0 .9zm.4-.2zm.3 1.2zm1.4-2.2zm.5 2.4zm6.1-2.7zm1.8-1.2zm2.2 1.1zm.5-.6zm.5 1.2zm.1-.8zm.7-1.6zm.4 2.8zm.4 1.4zm1 .3zm3.1.4zm2-5.7zm1.3 5.3zm1.9.4zm1.4-1.5zm2.5-2.2zm0 .8zm.9-.3zm.7 1zm.4-1.1zm2.6 3.5zm.1-5.4zm2.3 4.3zm.9-.5zm0 1.5zm.4-.8zm.3-2.3zm0-.6zm.5-.9zm.8 1.5zm.2-.3zm1.2-2zm.1 3.6zm.3-2.4zm.3 1.3zm.1-1.9zm.5 2.2zm.8-.9zm.9 1zm.8.9zm.9-3.4zm.8 3zm1.3-3.8zm.4 3.9zm.1-.3zm.3-2.2zm.3 1.5zm.7-.6zm1.4 3.6zm1.2-4.5zm.5 3.6zm2.4-2.3zm1.1-1.1zm.3.8zm.4.2zm1.4 2.3zm.7-4.1zm.6 2.4zm1.7-2.9zm.6 0zm-7.6 7.6zm-10 .3zm-1.5.4zm-.2-2zm-.2 3zm-.9-1zm0 1.4zm-.8-.6zm-1.1.3zm-1.9-1zm-.6.5zm-.1 2.5zm-.4.1zm-.6-5.5zm-.7 3.4zm-.3-1.5zm-.2 2.4zm-.7-4.6zm-.7.5zm-.6 5.3zm0-.9zm-.6-1.4zm-.2-2.9zm-.3.4zm0 1.7zm-.2.5zm-.3 2.3zm-1-.3zm-.4-.5zm-1.4-1zm-.7 1zm-2.3-.6zm-.3-1zm-.1.7zm-.6.4zm0-2.6zm-.5 3.8zm-.8 0zm-.4-2.4zm-.1 1.6zm-1.5.5zm-.5.6zm-.1-2.5zm-.4-1.2zm-.2-1.1zm-.7 3.2zm-.4-2.4zm-.1 1.4zm-.8 1.2zm-.5 0zm-.2-3.6zm-.6.1zm-.1 3.5zm-.2-3.4zm0 3.5zm-1.2.1zm-.1-.1zm-.4-1.8zm-.1.5zm-1 .4zm-.5-1.5zm-.9 1.6zm-.4 2.1zm-.7-2.4zm-.1 2.5zm-2.6-4.3zm-.5 3.2zm-.1-2.5zm-.2-1.7zm-.5 1.8zm0 .8zm-1.2 1zm-2.5-1.8zm-.3 1zm0-2.2zm0 4.2zm-.5-2.4zm0 1.2zm-.2-1.3zm-.1 2.9zm-.1-2zm-1-3.3zm-.5 2.4zm-1.5.3zm-.8-.8zm-.4 3zm-.2-2.5zm-1.1.8zm-.2.4zm0-1.8zm-.1-1.9zm-1.2-.1zm-.7 3.1zm-.1.5zm-.2-.8zm-.4 2zm-.7-3.8zm-.5 1.3zm-1.6-.6zm-.4.4zm-.6 2.6zm-.2-1.2zm-.1-.3zm-.4-.1zm-.2-2.9zm-.4 2.7zm-.3-.8zm-.5-.3zm-.2 1.9zm-.3-3.4zm-.5-.1zm0 3.6zm-.3-.5zm-.2.3zm-.2-3.7zm-.1 3.9zm-.8.7zm-.7-3.9zm-.7 4.6zm-.3 0zm-.2-2.9zm0 .1zm-3.1.7zm-.4 2.3zm0-2.7zm-1.4 2.5zm-.6-.4zm-.6-5zm-.1 2.8zm-.3 0zm-.9.7zm-.4-1.9zm-1.4.9zm-.2.5zm-.1-.1zm-.1 1.3zm-.2 1.2zm-.4-.2zm-.2-3zm-.3 1.2zm-1.1-3zm-.5-.1zm-1.1 5.6zm-.3-.2zm-.9-3.6zm-.1 0zm-.2 2.2zm-.8.3zm-.6-.3zm-.4 1zm-.2-2.3zm-.1-2zm-.2 1.2zm-.2 2.4zm-.3-1.1zm-.3 2zm-.3-3.3zm-1.9 3.3zm-.7-5.4zm-.1 2.8zm-.7 2.4zm-.3-4.1zm-.1 3zm-.3-1.9zm-.7 1.6zm-.1 1.4zm-.1-4.2zm-.7-.5zm-.1 2.4zm-2 0zm-.2.2zm-3.5 2zm-2-.9zm-.7 1zm-.1-.4zm-1.3-1.9zm-2.1.7zm-.6-.1zm-7.6 7.5zm.3-1.3zm.6.5zm0-1zm.1-2.3zm.3 4.8zm1.9 0zm.1-2.9zm1 1.2zm1.2-.7zm.2-1.9zm0 1.4zm.8-2.9zm.2.5zm2.5 2.3zm1.5 1.8zm.5-3.5zm.1 3.8zm.6-.6zm.1-.7zm.8.7zm.2-1.2zm.1-1.7zm.2 0zm.9 3.5zm.2-1.5zm.3-1.1zm.5 0zm0-1.6zm.5 1.6zm.1-.6zm0 3.7zm0 .3zm.2-4.6zm.4.7zm.7.3zm1-.5zm.9 1.1zm.6-.7zm.3 2.3zm1-1.3zm.4 1.5zm.7.6zm.3-1.3zm.8 1.5zm.1-4.8zm.8 4.1zm0-3.2zm0 .7zm.8 2.5zm.4-1.7zm.2.5zm.5-1.7zm.4 4.2zm.1-2.8zm0-1.1zm.7-.3zm1.2-.5zm.4 1.3zm.2-1.1zm.4 3zm.1-3.9zm.1-.5zm.2 1.5zm.2 1.6zm.2.3zm1.8-2.9zm1.3-.1zm1.3.5zm.2 1.7zm.3-2zm.6 1zm0 .5zm.6 2zm.2-2.3zm.3 1.4zm.1-1.7zm.3 3.7zm.2 0zm.6.6zm1.1-1.8zm1-1.9zm.2 3.2zm.4-2.7zm2.4-.3zm.4 2.3zm.2-2.3zm.8-.4zm.1.9zm.2.2zm.6-1.1zm.2-1zm.8 2.9zm.1.2zm.6-1.3zm1.8 2.4zm.6-1.1zm.1-.8zm1.5-3.2zm.3 5.5zm.5-1.7zm0 1.3zm.1-2.3zm.1 2.6zm.5-.9zm.3-2zm0-.7zm.8 0zm.3 1zm.1-2.6zm1.4 5zm.1-3.9zm.6-1.3zm.5.2zm.3 2.2zm.2 1.5zm.1-3.8zm0 2.8zm.8 1.6zm.2-.3zm.5-1.6zm1.3 3.1zm.5-3.9zm.2-.2zm.1-.9zm.3-.2zm.4 3.7zm.9-2.2zm.7-.1zm.2.7zm1-.5zm.2 2.8zm0-3.2zm.4-1.3zm.1 2.8zm.2 1zm.1.8zm.5-.3zm1.1-1.6zm.8 1.5zm.1-.7zm0 1.1zm.2-2.3zm.4 2.3zm.6-1.3zm.9-1.4zm.1.4zm.3-.4zm1.2 2zm2 .3zm0 .8zm1.2.2zm.9-2.1zm.4-2.6zm.2 2zm1 1.6zm.1-2.3zm.3-.9zm.1 1.7zm.8-1.3zm.6.8zm.4-2.2zm1.6 1.7zm.6.9zm.4-1.7zm1.4 1.1zm.4-1.6zm2-.4zm2 .9zm.7.5zm.9-.5zm1.3.2zm.6 2zm.1-2.3zm.3-.3zm.4-.6zm.5 1.5zm1.1.6zm-13.3 4.3zm-.1.5zm-2.5 1.4zm-1.1-2.2zm-1.8 2.6zm-2-.4zm-1.5-1.9zm-.5 3.6zm-3.1-2.8zm-.1.6zm-.2.9zm-1.7-1.7zm-.7-.7zm-.8-.1zm-.8.9zm-1.9.7zm-.2.3zm-2 1.8zm-.1-.1zm-.3-2.1zm-.6.9zm-1.2-.7zm-.4 2zm-.4-2.2zm-.3-.6zm-1.5 2.6zm-.1-2.9zm-.3 2.4zm-.5 1.6zm-1.5.5zm-.3-1.2zm-.1-1.2zm-.2-2.2zm-.1 5zm-.2-3.7zm-.9-1.7zm-.4 1.7zm-.2.7zm-.6 2.9zm-.3-.5zm-.4-4.9zm-.6 2.3zm-.1 2.4zm-.5.1zm-1.7-3.1zm-.6 1.7zm-.5-1.6zm-.6.2zm-.9-.3zm-.2 1.2zm-.1-.3zm-.2 1.2zm-.2-3.3zm-.4-.5zm-1.3.8zm-.1 3.1zm-.7-4.3zm-1.7 4.4zm-.1-2.7zm-.9-1.6zm-.6 3.3zm0-2zm-.3-.3zm-.2 4.6zm-.7-.9zm0-1.1zm-.2-.7zm-1.3-.5zm-.4.3zm-2.3-2.4zm-.3-.3zm-.6 2zm-.4.2zm-2.1 1.9zm-.3-1.6zm-.7-.7zm-.2 3.9zm-.7-4.8zm0 3.4zm-1.2-2.2zm-.1 3.6zm-.9-2.6zm-.1-1.6zm-.3 1.6zm-.1.1zm0-2.8zm-.5 4.8zm-.1-3.7zm-2.8 4.3zm0-5.8zm-.7.8zm-1.1 5zm-.2-4.9zm0 3zm-.6-2zm-1 1.7zm-1.3-2.3zm-.5-1.3zm-.4 5.4zm-3.5-4.5zm-5.1-.2zm-2.1.2zm-1.7 1.1zm11.5 5.2zm3.6-1.2zm3.2.9zm.7 3.5zm.8.1zm.2.7zm.4-4.7zm1 3.9zm1.2-.4zm1.3-.4zm3.1-3.5zm2.6.5zm.1.9zm.3 2.9zm.3-.7zm0-.1zm.6.4zm0-2.8zm.5 4.3zm.6-3.2zm.4-1.6zm1 3.9zm.5-.2zm.4-3.8zm1.1 2.7zm1-1.8zm.1-1.4zm.7 3.4zm.9.2zm1.1-3.2zm0-.1zm.7.2zm1.5 0zm.3-.4zm1.4.2zm1.7.2zm1.4.3zm0-.6zm.5 0zm4.2 1.1z" stroke="#00a8ff"/>
<path d="M1429.7 685.1zm-.4 28.7zm.4 21.2zm.3 3zm-.2 5.8zm-.3 16.7zm-.1 3.3zm-.1-.2zm.2 9zm0 3.2zm.1 21.8zm.3-3.3zm-.6 11.7zm.1 19.7zm.5 5.1zm0 5.7zm-.3 6.6zm0 4.3zm-.3 11.3zm.1 6.2zm.2 8zm-209.9 3zm-3-.3zm-1.1-.7zm-9.4 1zm-1.2-.1zm-21.8.9zm2.9 2.8zm4-.6zm1.9 2.9zm.7-.7zm1.8-.4zm.2.1zm2.4-.4zm.3 1.2zm.9.1zm.8 0zm1.5-3zm.4 3zm.6-3.3zm1-.6zm.5 3.6zm1.1-2zm.6 1.2zm.2-3.7zm.6 1.4zm.1 2.2zm.6-.2zm.5-2.8zm1.7 2.8zm.2.7zm2.6-.3zm4.8-.4zm.6.9zm.1-3.9zm.5.1zm.5 1.2zm.3.5zm.6-2.3zm2.1 2.5zm2.7-1.4zm.4 2.5zm2 1zm1.5-4.9zm1.9.1zm-3.6 7zm-.2-.4zm-1.8-.5zm-1.4 4zm-5.9-.4zm-.1-2.3zm-1-.8zm-1.7-1zm-1.1 1.7zm-.1 1.5zm-1.5-2zm-.6.6zm-.2 0zm-.2 2zm-1.1-3zm-.2-.6zm-.5 4.1zm-1.6-1.3zm-1-2.8zm-.5 2.6zm-1.8 2.1zm-.1-4.2zm-.6.2zm-.2.9zm-.2 2zm-.7-1.7zm-1 1.9zm-.2-2.7zm-.2 1.9zm0-.6zm-1-2zm-.5.9zm-.6-.8zm-.3.9zm0 2.5zm-.5-3.3zm-2.1 2.1zm-.5.4zm-.2-1.6zm0 2.5zm-.2 1.1zm-.7-3.1zm-1.1.8zm-.1-.8zm-.4.7zm-.5 2.4zm-.1-2.3zm-.3-1.5zm-.7-1zm-.7 4.4zm-.2.6zm-2.3-2.5zm-.2 2.4zm0-.4zm0-2.8zm-1-1.1zm-.1.5zm-.2 3.7zm0 .1zm-.6-1.6zm-.5-2.8zm-.3-.4zm-.5-.7zm-.1 5.3zm-.7-.7zm-.5-3.2zm-.5 2.7zm-1.2.3zm-.2-3.4zm-.4-.4zm-.8 2.2zm-.5 2.3zm-.1-1.7zm-.8-1.5zm-.4 1.3zm-.6-.1zm-4 2.6zm-1.1-3.2zm-4 2.2zm-2.3 1.1zm-2-.1zm-14.2 5.8zm.3-.5zm4.9-.9zm4.6-2.6zm1.5 3zm.1-.1zm.1-2.4zm1.3 2.4zm.9-4.5zm.9 5.2zm.2.3zm.4-.3zm.6-1.2zm.2-3.5zm.1 3.9zm.4-3.2zm.9-.7zm.6 5.1zm1.1-2.6zm0 1zm.2 1.2zm1.6-4.4zm0 1.6zm.1 1.8zm.7.9zm.5-3.6zm.6 1.7zm.3-1zm1.2 1.6zm.4 1.9zm1.4-1.9zm.7-1zm.7.1zm0-1.7zm.6 2.3zm.8-1.6zm.1 1zm.2-1.5zm2.3 1.4zm.4 2.9zm.1-3.1zm.2 2.4zm.2-2.3zm.3 2zm.1-4.3zm2-.3zm1 1zm.2 1.5zm.5-2zm.6-.2zm0 3.6zm1.1-2.7zm0-.2zm.1 1.6zm1.2.7zm.3.4zm.1 1zm.4-2.2zm.1-1.4zm.3-.5zm.7 1.9zm.3-.7zm1.5 2zm.7-.7zm.2 2.3zm.8-.3zm.1-1.1zm.2-.3zm.1 1zm.2-1.9zm.1 1.7zm1.1.2zm.1.9zm.7-3zm.6-1zm.2 1.2zm1.1 3zm1.6-2.8zm1.1-2.6zm1 3.8zm.5-2zm1.8.8zm.8.3zm0-1.2zm1-2zm.7 1zm1.5 4.6zm.3-4.2zm.2-1.6zm.9 2zm.1 3.1zm.2-1.6zm2.1-2.1zm1.9 2.7zm.1-1.5zm.9-2.1zm1.5 1.7zm2.4-1.7zm.3 3.1zm3-2.5zm1.9.5zm205.1 2.4zm.2.3zm.1 3zm-.3 0zm-216.9-.8zm-.4-.1zm-1.5 0zm-2.6 3.6zm-2.4-.9zm-.6-2.2zm-.7 4.2zm-4-5.1zm0 4.3zm-.2-1.2zm-.2-.1zm-.1 0zm-.4-.6zm-.4-.1zm-.7 3zm-.7-4.1zm-.2 3zm-.4-1.7zm-.2 1zm-.9.5zm-.3 1.8zm-.2-.5zm-.2.1zm0-3.4zm0-.6zm-.5.7zm-.9-.9zm-.2 3.3zm-.4.2zm-1.5.2zm-.1-4.7zm-1.2 3.3zm-.7-.7zm-.1-2.4zm-.2 5.1zm-.5-4.8zm-.3 4zm-1.9-2.6zm-.1-1.2zm-.5 1.7zm-.3-1.2zm-.5 4.3zm-.3-4.1zm0 1.3zm-.4 1.7zm-.2-3.4zm-5 1.9zm-2.1 2.8zm-1-5zm-.4-.2zm-.2 4.5zm-.7-1.2zm-1.7-3.5zm0-.2zm0 2.9zm-.1.2zm-.1 1zm-.4 0zm-1.1-.1zm-.1-3.4zm-.7 0zm-.8.2zm-2 4.2zm-.1-3zm-.2 3.2zm0-5.3zm-1 .3zm-.1-.5zm-.9 5zm-.3-2.6zm-.1.9zm-.3.5zm0 .5zm-.5.7zm-.7-2.3zm-1.6-2.3zm-.7 4.6zm-.3-.5zm-.4-4zm-.1 4.2zm-.2.1zm-.8-.4zm-.4-1zm-.3-1.3zm-.3-.8zm-.4 1.9zm-.3-1.6zm-.2 1zm-1.2-1.6zm-.1 2.7zm-.4.5zm-.3-3.1zm-.5 2.2zm-.2.4zm0 0zm0 .6zm-.6-3.1zm-.2 3.5zm-.4-3.4zm-.6 4.5zm0-5.2zm0 4.7zm-.1-.3zm-.1-.3zm-.3-4.2zm-.6 2.5zm-.6 0zm-.8-1.7zm-1.5 3.4zm-.4-.3zm-.3-.5zm-.7.5zm-1.1-1.7zm-.2 1.6zm-.3-4.3zm-.4 4.2zm0-3.3zm-.2-.3zm-1.5 2.9zm-3-.6zm-.5.6zm-.5 2.3zm-2.9-3.3zm-4.2 3.1zm-7.6-1.1zm-10.1 6.9zm5.1-5.4zm1.1 4.2zm2.9-.7zm2.9-.6zm1.3 2.9zm2.2-1.5zm.5.2zm.2-.4zm.6 0zm.7-4.1zm1 4.5zm.5.8zm.5-2.9zm.1 1.4zm.3 1.1zm.6-3.9zm0 1.6zm.6-2.1zm.2.9zm.1 3.9zm0-3.8zm.3 4.1zm1.2-.4zm.6-.1zm.7-1.6zm.4-1.5zm0 2.9zm.4-2.4zm.1-.9zm.7-.5zm.3.8zm.3 3.1zm.5.8zm.2-5.1zm.3 4.2zm1-2.7zm.4 3.4zm.2-3.9zm.2.7zm0 2.6zm.6.5zm.7-5.3zm.4 4.7zm1.3-3.7zm0 .3zm.1-.7zm.6 3.9zm.2-3.6zm.4 4.1zm.9-1zm.1-.2zm.1-3zm0 2zm.4-2.5zm.1 1.7zm.6.4zm0-.1zm.3 1.5zm.6-3.9zm.2 2.4zm.9 1.1zm.1-.7zm0-.8zm.3 1.5zm.6 1.5zm.1-3.7zm.1-.9zm1.6 4.4zm0-1.4zm.5 2zm.1-.2zm.5-1.8zm.4 1.9zm.8-3.5zm1.2-1.6zm2.1 1.6zm.3 3.5zm.6-.3zm1-3.8zm.2.5zm.5.9zm0 2.9zm.1-1.4zm.1 0zm.4.3zm.2-1.7zm.4-1.5zm.1.2zm.6 3.7zm.6-3.2zm1-1.4zm.1 3.1zm0-3.4zm1 0zm.3 3.6zm.4-2zm1.1 2.8zm.3-1.2zm.3-.1zm1.1.2zm2.1 2.2zm.4-3.6zm1.3 1.6zm0-3zm.7 4.5zm.4-.9zm.5-1.4zm.1.1zm1.4 2.2zm.3-2zm1.7-.9zm.2-.9zm.5 4.4zm.8-5.3zm.4 4.3zm1.5-.2zm.1-4.7zm.7 1.4zm.7 2.1zm1-2.6zm1.1.6zm.2.4zm.3 2.4zm.5 1.2zm1-2.3zm.3 1.6zm.1-1.5zm1.9-.8zm.6-2.5zm1.2 1.7zm1.2-.3zm.4.8zm0 .7zm.5-1.1zm.2 1.7zm1.6-2.4zm5.1 2zm1.2-.1zm224.9-.2zm-234 8.6zm-1.9-.3zm-4.8-3.4zm-.8.6zm-.6-2zm-1.2.2zm-.1-.1zm-1.1 4.4zm-1.2 1.1zm-.5-1.7zm-2-4.2zm-.3 2zm-2.2-.2zm-.1.3zm-.8.6zm-.3-2.3zm-.3 0zm0 4.8zm-.1-2.9zm-1.5-2.3zm-.6 2zm-.2.5zm-1.1-1.8zm-.5-.2zm-.4 1.9zm-.4.3zm-.4 1.6zm-.8 1.5zm0-2.2zm-.3-1.7zm-.6-.1zm-.3.5zm-.5 1.4zm-1.2 1.6zm-.8-3.2zm-.3-.5zm-.3-.7zm-.6 2.4zm-.2-.8zm0-.9zm0-.1zm-.2 1.7zm-.2 1.5zm-.4-1.7zm-.3-.8zm-2.3 2.5zm-.1-4.1zm-.2 4.5zm-.2-3.8zm-1 1.9zm-1 .2zm-1 .8zm-.4.5zm-.3-2.9zm-.1-1zm-.1 3.3zm-1.8 1.5zm-.1-1.1zm-.4-2.8zm-.3.7zm-.4 2.7zm0-2.6zm-.5.9zm-.2.2zm-1.1 2.1zm-.1-4zm-.8 2.5zm-.2-2.7zm-.9 4zm-.1-.9zm-.6-1.7zm-1-2.1zm-.1-.2zm0-.6zm-.5.2zm-.3 1.8zm-.3.2zm-.3 2.3zm-1.7.3zm0-1zm-.2-2.1zm-.5-.4zm-.3-.8zm-.1-.4zm0 1.2zm-.4-1zm-.2 1.8zm-.2 2.4zm-.2-3.5zm-.1 4.5zm-.3-1.9zm-.9-.6zm0-2.7zm-.7 3.9zm-.2-1.5zm-.1.9zm-.8-1zm-.2 1.5zm-.8.5zm-.1.6zm-.3-3.7zm-.9 4zm-.2-2zm-.3 0zm-.1.4zm-.1-1.4zm-.2 3.2zm-.2-4.8zm-.3 4zm-.7-2.5zm-.4-.2zm-.1.3zm-.1-2.4zm-.2 2.4zm0 .5zm-.4-.6zm-.3-1.2zm-1.1-.3zm-.2 2.2zm-1.3 2.3zm0-1.9zm-.2 1.7zm-.8-3.5zm-.1 3.1zm0-4.3zm-.4 2.1zm-.5 1zm-.4 2zm-.1-2.1zm-.1-3.5zm-.3 4.6zm-.3 1.3zm-.3-2.7zm-.9.3zm-.9.6zm0-2.5zm-.1.2zm-.4.5zm-.7 2.6zm-1.3-2.1zm-.8 2.6zm-.1-2zm-2.3.4zm-1.6 1.3zm-.3.2zm-.7.3zm-.9-.8zm-.5-.9zm-1.1 1.7zm0-2.9zm-.2 1.6zm-.6.1zm-3.2-4zm-4.2 2.2zm-1.4 1.7zm-5.7-1.2zm-2.8 2.8zm-11.2 6zm.3-2.8zm0 2.7zm.8-2.3zm.1-2.6zm.8 4.8zm.3-2.6zm2.5 0zm2.3-2zm.3 2.5zm.3 0zm1.4.7zm1-.8zm.5-2.1zm3 .2zm.4 3.4zm.7-3.2zm1.9 4.1zm.1-1.8zm.4 1.1zm1.4-3.1zm.3-1.1zm3.6 1.2zm1.8 2zm.2-1.6zm1.4 2.6zm0-3.2zm1.2-1.9zm.4 5zm.2-.4zm.1-1.1zm.5-2.8zm.3-.6zm0 1.5zm.4 3.5zm.2.5zm.8-3.2zm0 2.6zm.3-.9zm.4.4zm.7-1.1zm.6.1zm1-2.9zm.3.4zm.1 2.5zm.6 1.3zm1.1-3.7zm.5 1zm1.1-1.8zm0 .8zm.5 1.7zm.4-1.8zm1.7-.4zm0 4.3zm.1.4zm.1-4.5zm.2 3.9zm.1-4.6zm.4 4.9zm1.2-1.7zm.6-1.3zm.1 2.8zm1.9-2.6zm.2.6zm0 .6zm.3 1.5zm0-2.7zm.2-1.7zm.2 2.1zm.9.4zm.4-.9zm.2-.9zm.5 3.3zm.1-4.4zm1 .1zm.4 2.9zm.2-2.1zm.7 2.8zm1.2-2.3zm.3 1.4zm.2 1.5zm0-1.1zm.2-1.8zm.2.2zm0 2.7zm.8-3.8zm.3 2.4zm.1 2.3zm.4-4.1zm.3 2.6zm.2.8zm.1-3.4zm.5 1.9zm.4-3.2zm.2 0zm.2 4.9zm.2-1.5zm.3-.7zm.1 2zm.4-2.6zm.1.7zm0 2.1zm.8-2.9zm1.4.2zm.6-1.6zm0 4.1zm.3-1.2zm.6-1.9zm.4 1.1zm.1 3.1zm.6-5.3zm.5 2.1zm.1-1.7zm1.2 2.5zm0-2.9zm1.2 1zm.8 1.4zm.4-.9zm.9-1.1zm.2.3zm.1.3zm.5 0zm1.2 4.4zm.2-1zm.4-3.2zm.5 2.8zm.7-.2zm1-3.4zm.9 2.5zm.1-3.1zm.8 2.1zm.6-2.4zm0 1.1zm.6 0zm1 .3zm.7-1.1zm.1 1.4zm.1.8zm.1-2.1zm.3-.2zm.6 1.7zm.8 2.9zm.8-2.9zm.1 0zm.4 1.1zm.5-2.9zm.1.9zm.2 1.5zm1.2-1.8zm5.2-.1zm1.8 1.6zm3.1.1zm251.2-1.1zm0 8.3zm-270-.6zm-.9-2.2zm-1.3-.4zm-8.7.1zm-.3 4zm-.8-4zm-4.1 4.4zm0-2.3zm-.8 1.5zm-.9-2.9zm-.1-.2zm-.2.4zm-.5.7zm-1.8.7zm-.1 0zm-.3-2.2zm-1.9.2zm-.8 1zm-3.5-.3zm-2.4-.5zm-.9-.2zm-.3.6zm0 2.2zm-.9-2.1zm-.3 1.6zm-1.3.1zm-.7-2.9zm-1 2.6zm-1.4 1.9zm-.4-2.6zm-.4-1.4zm-.5 1.2zm-.3 3.3zm-.4-4.4zm-.7 1.3zm-.2-1.3zm-.2 1.2zm-.4 3.2zm-1-3.1zm-1.2.3zm-.4-.5zm-.7.1zm-.5.2zm-.6-2.1zm-.6 2.7zm-.3-.2zm-1.8-.5zm-.2-1.3zm-.9 2zm-.7-2.1zm0 4.5zm-.2-4.3zm-.2 1.7zm-.3 2.4zm0-1.7zm-.4-1.3zm-.5-.5zm-1.8 1.3zm-.4-1.1zm-.2 4zm-.2-3.4zm-.2-.6zm-.4-.6zm-.4 1.8zm-.3-1.3zm-.2 3.6zm0 .1zm-.2-5.3zm-1.9 3.8zm-.7 0zm-.1-3.6zm-.1 4zm-.2-2zm-.3 2.6zm-.3-1.9zm-.3 2.1zm-.5-2.5zm-.5.4zm-.3 0zm-1-.8zm-1-.5zm-.1-.7zm-.4-.6zm-.3.1zm-2.1.8zm-2.9-.1zm-.4-.1zm-2.3 1.3zm-1.3-2zm14.9 7.5zm.2-1zm1.7 2.5zm1.4 1zm.8-2.3zm1.2 2.5zm0-1.1zm.2-3zm2 3.4zm1.1-.4zm.3-2.8zm3.2.1zm.1 1.7zm.5-1.9zm1 1.3zm1.6 2.5zm.3-3.4zm.3 4.4zm0-3.8zm.3.7zm2.8-.7zm1.1 2.5zm.9-3.8zm9.8 1.3zm.9-1.2zm5.4.1zm289.9 5.9zm-.5 1.8zm-320.2-1.6zm-2.7-.5zm-4.3.5z" stroke="#00f0f0"/>
<path d="M1429.4 599zm.5 64.3zm-.5 34zm.1 12.6zm.1 9.4zm.3 23.1zm-.4 19.5zm.1 45.5zm.1 9.2zm0 45.8zm.3 4.8zm-.6 6.3zm-.1 1.9zm-251.3 6.4zm24-.3zm3.9-5.2zm1.5 2.7zm2.7 2.4zm3.7-5.4zm.1 3.1zm3.3.9zm.7 7.6zm-.2-.8zm-3.3-2.4zm-.1 2.6zm-2-.9zm-3.2-.1zm0 .3zm-1.3-.3zm-1.5 1.5zm-1.4-.6zm-.3-2.5zm-.1 3.3zm-.1.1zm-.6-2.9zm-.5-.7zm-.4.9zm-.4-1zm-.4 3zm-.6-3.4zm-1.4-1.1zm-1 5.3zm-1-1.4zm-.6-1.4zm-1.8 2.2zm-.3-.1zm0-2.2zm-2.1.5zm-1.1 1.3zm-.2-4.5zm-.7 3.7zm-.6-4zm-.8 1.6zm0 3.9zm-.2-2.3zm-.3 1.1zm-.5-.2zm0 0zm0 1.1zm-1-1.2zm0 1.7zm-1.3-.2zm-.3-2.3zm-.7-.2zm-.3-1.3zm-1.4 3.4zm-.4-2.1zm-.7 1.3zm-.5.7zm-.3-1.2zm-1.4-.5zm-.4 2.6zm-3-1.6zm-.2 1.6zm0-.2zm-.9-3zm-.4 3zm-1.9-3.1zm-7 1.4zm-14.9 5.4zm5.8-.1zm7.8 1.4zm1.1-1.2zm.9-.8zm.7.3zm.6.5zm.5 2.4zm.7-2.5zm.6-.6zm.1 2.6zm.1-5.3zm.5 2.7zm.7.7zm.4-.7zm.7 1.2zm.5-1.1zm1.3 1.1zm1.3-.2zm0 1.4zm1.4-4.7zm.3 4zm.4-3.1zm.8 3.9zm0-3.4zm.2-1.3zm.2 4zm1.3-1.3zm0 .3zm2.4-1.9zm.4 3.2zm.3-1zm.2 0zm.6-3.6zm.8 3.4zm.2-3.6zm.4 2.3zm.2-.3zm.5-.8zm.6.4zm2.6.6zm.2.8zm.7-2.2zm1.7 1.5zm.5.6zm.3-1.5zm.2-.5zm.8 4.8zm1-.7zm.3-1.6zm2.2.5zm1-3.3zm1.1 4.5zm1-2.3zm2 2.7zm.8-4.6zm.4 2.8zm.4-1.5zm.7.1zm.5 2.3zm.2-4zm.3 4.8zm2.7.1zm.1-5zm2.9 3zm.6-3.3zm217.1 2.8zm.1 7zm-221.1-3.3zm-1.2 2.4zm-2 2.5zm-1-1.2zm-1.3-2.6zm-.7 3.5zm-1.3-2.6zm-1.3 1.2zm-.3-3.2zm-.5 1.2zm-.3-1.4zm-.7 3.8zm-.2-1.6zm-.4-2.2zm-1.6 1.4zm0 3.7zm-.8-3.1zm-2.7 3.3zm-.4-3.6zm-.2-2.1zm-.5 5.4zm0-1zm-.3-4.5zm-.7 3.9zm-.2-.3zm-.1-2zm-.2 1.5zm-.4-2.2zm-.3 4.6zm-.1-.8zm-.6 1.1zm-.7-1.8zm-.9 1.1zm-1.3-2.9zm0-.3zm-.1 3.2zm-.4-1.8zm-.7 1.9zm-.1-4.7zm-.3 4.2zm0 1zm-.1-.1zm-.1.1zm-2.5-5.6zm-.1 2.7zm-.2 3zm-.1-3zm-.4-1zm-.5 1.5zm-.9 1.4zm0 .3zm-.5-4.2zm-.1.6zm-.2 2.1zm-.1-1.5zm-.8 3.3zm-.8-.9zm-.2-3.7zm-.2 1.8zm-.1 1.5zm-.2-2.7zm-.1 2.9zm-.5 1.3zm-.1-2.3zm-.5 2.3zm0 .2zm-.7-5.5zm-1.9 1.1zm0 1.3zm-.1-1.8zm-.3 3.2zm-.2-2.9zm-.1 3.3zm-.9-1.7zm-.1-2.8zm-.2 1.2zm-.2 0zm-.7 2.4zm-.2 1zm-.2-1.9zm-.6 2.1zm-1.2-.9zm-.1-1.2zm-1 1.9zm-2.6 1.1zm-.1-.8zm-.2.7zm-.7-1.9zm-1.8-3.3zm-.1 1.7zm-1.4 1.6zm0-3.5zm-.8 5.7zm-.4-2.7zm-.2-2.2zm-.8 4.8zm0-.8zm-.1.8zm-.3-1.9zm-.6.4zm-.2-.2zm-.7 1.4zm-1.2-.5zm-1.4-2.5zm-1.1-2.5zm-.3 5.5zm-.5-1.7zm-.3-2.8zm-1.2 3zm-.1-.9zm-.1-2zm-2.4 2.7zm-7.5 1.7zm-1.8-3.1zm-2.2 2.7zm-5.3 6.2zm.7.4zm.7-.2zm1-.5zm1-.2zm.3-2.4zm.2 3.1zm.5-.9zm.5-3.4zm1.9 4.3zm.2-2.2zm.6-3.3zm3.6 2.9zm.1-2.9zm.1 3.1zm0 2.4zm.6-2.1zm1.1-.2zm.1 2.3zm.4.3zm.7-.4zm.4-5.3zm.1 1.8zm.1-1.6zm.3 2.5zm1.1.9zm.9-2.2zm.6 3.7zm1-3.1zm0-1.5zm.3 3.2zm.1-2.1zm1.8 4.2zm.5-5.4zm.3 3.9zm.1-3.4zm.8-1zm.9 3.9zm.2 1.4zm.2-.8zm.6-3.5zm.1 3.2zm.4-4zm.4 2zm.9-1.3zm.4 1.4zm1 2.8zm.7-3.3zm.2 1.8zm.1-3.2zm0 .6zm.4 1.2zm.4 2.1zm.1-4.1zm.3 3.5zm.3-3.3zm.5 5.1zm.6-4.6zm.4.5zm.6 1.8zm1.2-2.7zm1 2.1zm.2.3zm1.1-.4zm.1.5zm.1-1zm.3.9zm.6 2.3zm.2-1.7zm.8 1.8zm0-2.9zm1.1-1.9zm.2 3.3zm1.6-.4zm.8-1.5zm1.5 3.5zm.3-5.2zm.4 4.4zm.1-.1zm.3-.7zm.3-1.4zm.3 2.1zm.4-.9zm.5.7zm.4 1.2zm.7-4.8zm.2-.4zm1.1.8zm.3-.4zm0 4.8zm.1-4.7zm.8-.2zm.1.8zm2 .1zm1.7-.6zm.2-.8zm0 .9zm.5 3.8zm.4-.2zm1-2.1zm4 1zm.5 1.3zm.1-.6zm1.5-3.8zm2.4 1.2zm.1-.8zm2.5-.5zm-11.1 7.6zm-3.2.5zm-.9-1.8zm0 .6zm-.7-.7zm-1.7.5zm-.6.1zm-.6-1zm-.1 4.6zm-2.2-3.5zm-.7 1.1zm-.8.9zm-.7 1.4zm-4-1.2zm-.2-2.5zm-1 2.8zm-.1-3.1zm-.2.7zm-.4 0zm-.3-.2zm0 .6zm-.5 3.9zm-.8-2.1zm-.2-1.6zm-.1-1.6zm-.3 4.6zm-.4-1.4zm-.1-.7zm-.2-2.2zm-.5.3zm-.6 3.3zm-.7 1.3zm0-.9zm-.1-1.4zm-.4-2.2zm-.1.5zm-.9-.7zm-.8.1zm-1 4.1zm-.1.2zm0-5.2zm-1.2 1.2zm-.3 2.3zm-.3.6zm-.6-3.4zm-2-.4zm-.5 1.3zm-1.1 1.9zm-.1 1.1zm-1.5-2zm-.3-2.5zm-1.2 0zm-.5 4.8zm0-3.9zm-.3 3zm-.5 1.5zm-.4-.4zm-.7-4.3zm-.1 2.3zm-.2 2.2zm-.7-3.3zm-.4 0zm-.2-.8zm0 1.3zm0 .6zm-.5 2.1zm-1-2.8zm-1.4 3.4zm-.5-3.9zm-.8.7zm-1.4 1zm-.2 1.7zm0-4zm-.2 2.3zm-.2-.3zm-.2-1zm-1.1-1.9zm-.4 1.8zm-1.2 1.8zm-.6-.5zm-.7-1.1zm-.1-2.1zm-1.9.8zm-.8 1.7zm-.7-2.2zm-2 4.1zm-.6.9zm-.9-3.9zm-.8 3zm-2-.2zm-.5-.5zm-1.7 1.6zm-.6-.2zm-1.6.3zm-.6.1zm-.1-1.5zm-1-3.1zm-.5 3.5zm-17.1.7zm-13.5 4zm1 2.4zm2.7-4.6zm.9 4.1zm1.1.3zm.1 0zm2.1-.4zm.9-.3zm.6-2.5zm.8 1.1zm.4-1.3zm.7-.8zm.6 3.1zm8.5-.3zm3.5-1.5zm.4 2.4zm0-3.7zm.1 4.1zm.3-.4zm0-.7zm2.2-1.9zm.9-1.7zm.5 5.1zm.3-5.8zm1.4 2zm1.3 3.3zm2.8-1.1zm2-3zm1 1.3zm.1 1.2zm1.2-3.4zm.2 2.1zm1.6.8zm.7 1.1zm2.3-3.4zm.6.7zm.8 0zm0-1zm.3 2.2zm.8 1.8zm.9.5zm1.3-1.1zm1-.4zm2.5-3.3zm.5.7zm.4 2.1zm1.3-.9zm.1.3zm.1-2.6zm.6 5.6zm.2-4.5zm.3 0zm.2-.9zm.3 1.9zm2.4-1.6zm.6 3zm.4-2.3zm.3-.1zm2.1 3.3zm.2-2.1zm.4 1.9zm.4-3zm2.3 1.6zm.2 1.6zm.5-.1zm.1-2zm.2-.3zm0-1.4zm.1 3.1zm0-3.1zm.2 3.3zm.8-2.9zm.6 4.7zm.2-1.1zm1.3-4.4zm.8 1.3zm1.3-1.2zm9.6 3.8zm.1-1.1zm1.4-3zm.6.3zm.3.2zm258.9 3.4zm-.3 7.3zm-.2-3.7zm-292.1.6zm-2.4-.9zm-1.1.2zm-1.8-.7zm-2 1.7zm-7.4-.1zm-5 .8zm-3.3-2.6zm-.8 5.3zm-.8-.9zm-.9-4.3zm-.6 4.6zm-.2-3.9zm-.2 3.6zm-1-2.4zm-.3 3zm0-3.2zm-1.5-.6zm-1 1.1zm-.6-.1zm-.5-.5zm-.5-.6zm-.2-.7zm-.1 1.4zm-1.5 2.2zm-.1.9zm-1.1-3.1zm-.1 2.7zm-1.1-.7zm-.2-3zm0 1.2zm-.2 1.1zm-.9-1.6zm-.2-.4zm0 1.2zm-1.5 1.5zm-.1-2.7zm-.7.7zm-2.4.2zm-.9-.2zm-1.6-.9zm-.6-.5zm-2.1.3zm7.2 10.1zm4.4-1.9zm.9 1.8zm1.9-3.6zm1.3-.6zm.5 1.3zm1.5-1.7zm.3 4.2zm.3-4.1zm1.6 5zm.8-3zm.1 1.5zm1.5-1zm.3-1.8zm.5 3.9zm.4-4.3zm.6-.3zm.5-.4zm315.5 6.7zm-321-.5zm-5.4-.4zm-4.4.2z" stroke="#00f080"/>
<path d="M1430 680.4zm-.4 24.6zm-.1 39.6zm.1 67zm-.1 36.6zm-227.6 31.5zm5.3.9zm8.9.4zm8.3-3zm205.5 6.4zm-.4-.5zm-212 2.7zm-5.3-1.7zm-.4-.4zm-3.5.7zm-4.1-1.5zm0 .6zm-.8-.4zm-.2 3.9zm-1.1-2.2zm-2.5 2.2zm-.2-4zm-.4-1.1zm-2.3 2.4zm-.3-2.9zm-3.8 0zm-1.4 1.3zm-1.4 4.3zm-3.9-3.9zm0 1.7zm-1.1.3zm-.9 2zm-4-1.6zm-4 0zm-2.7.7zm-13 6.2zm1.9.6zm2.4-3.3zm1.3 3.4zm.3-.7zm.9-3.3zm3 3.3zm.8-3zm.2 3.3zm.1-3.4zm2.8.4zm1.4-.3zm.1-1.1zm1.6 1.9zm.6-1.7zm.5 2.2zm.7-.6zm1.4 2.2zm0-3.9zm.8 2.5zm.5 2.2zm.2 0zm.5-4.2zm.2 2.5zm.8-.8zm.4-3.4zm.2.4zm.3 5.1zm1.6-3.4zm4.3 1.7zm.3-1.1zm.2.4zm4.3-1zm.3-1.3zm1 .3zm.1 2.4zm1.2 1.6zm.4-2.4zm.3-.1zm1.8-1.6zm.6 2.1zm.4-1.4zm5.8-.5zm222.8 1.4zm-224.3 9.2zm-5.1-5.3zm-2 1.3zm-1.6-1.3zm-.3 2.8zm-2 .1zm-1.2.1zm-2.2 1.9zm-1.1-1.9zm-.4.6zm-1-4zm-1.2 4.6zm0-2.7zm-.5-.8zm-.6 4.4zm-.6-1.3zm-.3-3.6zm-.4 4.4zm-.1-5.1zm-1 2.8zm-.5 2.6zm-1.1-.7zm-.1-2.7zm-.6 3.4zm-.2-5.3zm-.4 5.8zm-1.6-3.7zm-.1 2.1zm-.1-3.2zm0 4.7zm-.4-4.6zm-1.2 4.4zm-.7.1zm-.8-2.2zm-.9-2.4zm-.4 4.8zm-.1-5.3zm-2.8 5zm-2.4-3.8zm-.5 2.1zm-.5.4zm-.4-4.3zm-.2 1.3zm-.6 3.1zm0 1.5zm-3.9-2.5zm-.1.4zm-.6.4zm-1.7-.8zm-.5-1.9zm-2.7 3zm-.7.5zm-1.2-1.6zm-.8 1.7zm-1.6-3.4zm-1.5 2.9zm-2.2-3.2zm0 1zm-.3 1.6zm-7.9 1.8zm-10.2-.6zm7.1 2.8zm5.5 2zm.9-2.4zm.7 3.2zm1.9-3.4zm3.1.7zm.2 1.2zm.9-.3zm1-.9zm1.5 1.5zm.5.3zm.1-2.9zm.1-.7zm.3 1.4zm.6 2.3zm.3-1.8zm.3 1.4zm.6-2.6zm.1 2.4zm.3-2.5zm.4.1zm.1 4.5zm.3-5.5zm0 5.9zm.1-3zm.3-1.5zm0 3.8zm0-2.3zm.3-.4zm1.2 3zm.3-5.4zm0 .2zm0 4.5zm.6 0zm.3-4.6zm.3 1.7zm.1 3.4zm.8-2zm1.6-.5zm1.6.9zm.5-3.5zm.1 4.5zm.5-.9zm0 .9zm1.5-1.1zm.3-.9zm0-2.5zm.3 2.8zm1.5-.6zm.4-1.7zm.7 4.2zm1.4.7zm.2.2zm1.5-5.3zm.2.5zm.2 1.3zm.5-2.3zm1.6 1.3zm1.1 1.5zm.3-.7zm.8 1.2zm.4.3zm.1 2zm.1-3.3zm3.2-.5zm1.6.6zm1.4 2.8zm4.3-4.3zm2.5-.8zm.2.1zm.4 3.6zm2-3.5zm234.2 4.1zm-243.2 4.2zm-4.3-1.2zm-.8-.2zm-5.3-.3zm-1.3 1.1zm-2.7 2zm-1.5-2.3zm-.4.8zm-2.4 1.5zm-1.4-1zm-.6.9zm-.9-3.4zm-.2-.1zm-2.3 3zm-.9 1.7zm-.1-3.6zm-1.1-.2zm-.5-1.2zm-.2 1zm-.5 0zm-1.8-1.1zm0 .1zm-.5 1.1zm-.9.8zm-.3-1zm-2.5 2zm-1.3-.1zm-.5-1.4zm-.8 3.6zm-1.2-4.5zm-.2 4.4zm-.3-2.5zm-.1-1.2zm-.6 1.7zm-.6 2.4zm-.6-.6zm-.7.5zm-.4.1zm-1.3-1.9zm-2.1-.1zm-1.7-1.8zm-.8 3.7zm-.8-2.9zm-.6.1zm-.2 1.4zm-1.5-.2zm-.3-3.1zm-.1 1.6zm-.7-2.2zm-.7 1.7zm-2 3.3zm-.8-2.1zm-.4 2.6zm-1.9-1.3zm-.3-.6zm0 1.8zm-.2-1.3zm-1.9-.3zm-7.1 1.2zm-.3.9zm-23.2 3.1zm1.5 1zm.8 1.2zm1.4-1.1zm1.2-3.4zm5.2 4.2zm.1-2.9zm1.3.5zm9.9 2.1zm4.2-.9zm2.2-2.1zm6.5-1.4zm3 .2zm1.4 0zm.5-.1zm.9.5zm.4 2zm.4.9zm2-1.2zm2 2.6zm.9-2.3zm.5-1zm7.6-1.5zm.5 2.4zm2.1-2.5zm7.7 1.9zm268.5-1.1zm.1 3.8zm-270.2 1.5zm-25.8.8zm-2.3-.2zm-12 4.6zm-1.4-1zm-1-1.6zm-1 2.2zm-1.1-1.5zm-.7-2.6zm-.9-.3zm-4.8-.6zm0 4zm0-.3zm-.8-2zm-.7 2zm-3.5 1.2zm-1.5-4.2zm-1.3 1.9zm-1.4-.8zm-.8 2.5zm-.6-2.8zm-.4 2.1zm-.2.7zm-.1 0zm-1.4-2.9zm-.5.8zm-.1 3.6zm-2.6-5.2zm-.2 4.1zm-.3-3.2zm0 1.9zm-.3-1.2zm-.3 1.8zm-.9-2.2zm-.2-.2zm-.4-.9zm-1.3.1zm-1.4.8zm11.4 9.6zm1.3-3.5zm.5.6zm.1 3.3zm.7-1.4zm.3-.1zm1.7.4zm.6-1.8zm.2 3zm.2-1zm0-.7zm.2-3.5zm1-.4zm1.9 1.9zm.1-.5zm.3 2.4zm1.2 1.6zm2.9-5.2zm1.7 5.5zm7.2-5.4zm309.5 2.6zm-.3 3.1zm-328.2-.1z" stroke="#00e000"/>
<path d="M1194.9 881.5zm15.9 2zm-1.6.2zm-8.8 2.1zm-9.9 1.3zm-1.4-.3zm-2.3 1zm-11.1-.1zm-13.6 3.3zm4.8 1.7zm1.4-4.2zm7.9 2.1zm1.5.6zm1.4 1.6zm1.3.3zm2 .1zm.7-2.9zm2.5 2.1zm.8 1.5zm4.1-2.6zm.1 2.3zm.3-.6zm3.8-2zm1.9 2.5zm.4-4.3zm4.3 4zm4.7-2.3zm-6.8 4.8zm-.7-.8zm-2.2 2.6zm-.7-2.6zm-.9.2zm-.1 4.2zm-2.9-1.8zm-.3 0zm-4.1 1.8zm-2 0zm-2.8-2.6zm-1.6.2zm-1.5-1.2zm-1.6 2.1zm-.6 1.4zm-.1-4.6zm-.5 4.4zm-.9-3.5zm-.6 1.5zm-1.2-.1zm-1.6.1zm-3.7 2.9zm-.4-1.7zm-.1.7zm-1.2.7zm-.7-.2zm-3.8-5zm-.2 2.9zm0-1zm-2.4.2zm-8.9 3.4zm-2.3-1zm-13.3 1.9zm8.4.4zm.1 3.4zm2.2-2.2zm.5 3.5zm3.5-1.8zm1.3.7zm1.1-1.4zm.2-2.3zm1 2.1zm.8-3zm1 .2zm1.9.4zm1.7 2.6zm2.4-1.9zm.3 1zm.5.4zm.2-.2zm.5-2.6zm.7 3zm1.2 1.1zm.4-2.9zm1.6 4.2zm.9-5.3zm1.1 5.5zm.2 0zm1-.2zm.6-4zm1.1 2.9zm4.8.3zm.6-2.8zm2 2.7zm2.6-1.9zm1.6.3zm-6.8 3.3zm-1.4.3zm-1.8-.4zm-1.4.2zm-3.9.9zm-2.4 2.3zm-.4.1zm-1-.7zm-1.3-2.2zm-.8 4.4zm-1.4-.3zm-.5-1.3zm-1-3.3zm-1.5 2.2zm-2.2-1.5zm0 3.1zm-1.9 1.2zm-1.9-2.1zm-.7-.3zm0-2.2zm-.3.5zm-1.1 2.6zm-.4-.9zm-.3-.9zm-2.5-1.2zm-.8.6zm-.4 3zm-.7.1zm-.8-3.3zm-3 .6zm-2-.3zm-.2 1.7zm-.7-.6zm-1.9-.4zm-1 3.7zm-.7-3.3zm-.8 2zm-.2-1.3zm-1.8-.1zm-3.7 1.2zm-26.3 5.2zm29.5 1.8zm11.3-3.3zm6.1 1.7zm.2-3.7zm3.7 1.3zm4.8.1zm-8.8 6.3zm-27.6-.7zm-8.4-.6zm-4.7 3.6zm-.9-1.3zm-1.9 3zm-2.2-1.3zm-3.6-.4zm-1.6-.2zm-4.9-2.5zm-.5 1.5zm-.3-.9zm-.2.9zm-1.2-.4zm-.4-1.1zm0 3.5zm-.3-3.7zm-.7 2.5zm-.1-1.7zm-.3.1zm-.9 2.3zm-.2-2.2zm-.2 1.4zm.3 4.2zm4.4-1.7zm.6.2zm.4 1.3zm1.6-.7zm.1 2.1zm.8.5zm1.8-1.7zm1.1 3.5zm.2-5.3zm.1 1zm.1.4zm.3 2.6zm1-3.4zm.5 3.2zm.6-2.3zm.3 4.4zm2.7-3.5zm1 1.6zm1 .5zm-2.2 1.7zm-.9.2zm-4.7.1z" stroke="#90f000"/>
<path d="M1196.5 886.8zm-15.3-.3zm-9.7 5.2zm8 1.2zm7 .3zm.7-1.9zm3.3-.4zm1 1.6zm.7-1.8zm.3-2.6zm1.8 4.6zm3.2 4.1zm-5.5-2.3zm-5.9 4.2zm-1.2-1zm-2-1.8zm-.6-.8zm-.5-.6zm-1.7 5.2zm-2.1-5.6zm-5.1.9zm-.3 2zm-1.2 1.8zm-.4.7zm-.5-5.4zm-1.7 4.7zm-3-1.9zm-4.2.7zm-.1-2zm-6.3.7zm-18.4 5zm5.8.1zm4.1 4.4zm5-.9zm.3-.6zm.8-2.7zm4.6 2.8zm4.2-1.9zm1.5 2.3zm0-4.1zm2.3 1.4zm4.4 1.8zm.8-2.8zm.2 2.7zm.2-1.5zm5.1-1.3zm1.2-.3zm.4 2.1zm1.6-1.1zm.8-1.6zm.8.3zm1 2.5zm2.8.1zm.5-2.2zm13.3 1.1zm-29 4.2zm-2.4 3.3zm-1.2-.8zm-1.4 1.6zm-1-2.3zm-5.2-.4zm-1.9 2.5zm-2.3 1.7zm-.7-2.9zm-2.1.4zm-7.2.3zm-.8 0zm-55.9 8.2zm54.9-1.8zm.7-2.2zm21.8.2zm3-1.1zm-34.1 8.6zm-32.1.8zm0-.2zm-2.7-.6zm-.4 1.2zm-.4-1.1zm-3.6 1.1zm0-1.4zm0 .9zm-.3-3.6zm-.1 1.3zm-.6 1.3zm-.1 2.8zm-.1-.8zm-1.5-2.8zm-.4-.1zm0 .1zm-.4.3zm-.7-1.4zm-.1 3.6zm-.4.7zm-.5-1.7zm-.2-.7zm-.6.5zm0-3zm-.7 3.9zm-.3 1zm0-.8zm0-3.3zm-.4 1.8zm-.1 5.2zm.5-1zm3-.8zm.5 1.2zm.4-1.2zm.8-.3zm1 .5zm.3 0zm.7 4.5zm.7-4.3zm.5.1zm.1 1.2zm.3 3.4zm.4-1.3zm0-2.3zm0 .9zm.3 2.8zm0-.8zm.1-3.2zm.2-.9zm.1.2zm1.1-.1zm2.2 1.8zm1.6.3zm0-1.2zm1 1.8zm4.3 1.1zm2.5-3.8zm-9.3 5.4zm-8.8-.2z" stroke="#f8f800"/>
<path d="M1187.9 891.6zm12.7 2.1zm-11.1 2.8zm-4.1-1.2zm-.3-.5zm-1.1 2.4zm-6.6-2.1zm-10.2 4.4zm-.4-1.5zm-17.4 6.7zm5.6 1.1zm.9-.9zm.2-1.4zm.9 1.6zm.1-.8zm3.7-1.2zm3.9-3.1zm7.4 1.2zm13.4 3.9zm-34.5 2.5zm-.2.8zm-42.9 13zm-1.6.3zm-7.4 1.7zm-.5.5zm-1.8-.5zm-.7-1.5zm-.1.5zm-.4-2.3zm-1.5 1.6zm-.8.6zm-.7.5zm-3 .2zm-.5-.2zm-.4-.5zm-.2.4zm-.5.1zm-.3.2zm0-4zm-.5-.7zm0 3.8zm-.3 3.5zm0-1.4zm.1.8zm.2.5zm.1-1.2zm0 4zm.3-3.9zm.4 1zm.7 1zm.4-.4zm.5 2.6zm.3-3.6zm.7 2.4zm.2-1.3zm.3-1.6zm.3 4.1zm.1 1.3zm.3-1.7zm0-3.3zm.1 1.1zm.3-1.8zm.4.4zm0 1.4zm.5.1zm.3-1.8zm.3 3.9zm0-4.1zm.1 1zm.1 2.6zm.3-2.7zm.4 4.9zm.1-2.3zm.1-.3zm.1-3.3zm.2 2.3zm.1-.9zm.2-1.4zm.1 3.8zm.1-1.5zm.5-.4zm0 3.4zm.4-1.5zm0-2.4zm0 2.6zm.3 1.7zm.1-.7zm.9-2zm.3 1.6zm.2-4.4zm.3 1.9zm0 1.7zm.2 1.5zm.6-1.2zm0 .1zm.2 1.7zm0-5.2zm1.4 1.5zm0 2.5zm.4 1zm.5-3.6zm2 .6zm-7.9 3.6zm-2 .2zm-3.3-.1zm-.5 0zm-.3-.2z" stroke="#ffb000"/>
<path d="M1093.9 922.6zm-.4-1.3zm-.7 1.3zm-.6.7zm-.2-.9zm-.7 1.4zm-.6-3zm-.2.9zm-.2 2.2zm0-1.1zm-.5-.1zm-.3-3.4zm-.2.9zm-.1 3.2zm-.2-.2zm-.3.2zm-.3-.1zm-.1-.9zm-.1-.7zm-.4.7zm-.1.3zm-.3.8zm-.1-.2zm-.2-.4zm-.1.2zm0-.2zm-.2 1.1zm.1 5.1zm.1-1.4zm.3.5zm0-3.6zm.1 4.1zm0-1zm0 .9zm0 .1zm.1-.7zm.1-2.8zm0 0zm0 .7zm.1 1zm0 1.2zm.1-2.4zm0-.7zm0 0zm.1.7zm0 1.5zm.1-2.5zm0 4.3zm0-.9zm.2-.1zm.1-1.4zm0 2.7zm.1-1.6zm.1-3.5zm.1 5.5zm0-2.1zm.2-.4zm0-2.2zm.2 3zm.1-.8zm.1 1.3zm.1.5zm0-4.3zm.4-.7zm0 .3zm0 .1zm0 1.2zm.1-1.3zm.2 1.9zm0 3.6zm.1-.4zm0-4zm0-.2zm.2 3.5zm.1-4.6zm0 4.2zm.2-3zm.1 3.1zm.2-3.4zm.1 4zm0-1.5zm.1 2.3zm0-.8zm0-2.1zm.1-.2zm.1 1.7zm.1-1.4zm0 1.3zm0-.9zm0-1.8zm.2-.1zm0 .4zm.1.8zm.3-.3zm.1 1.1zm.2-1.5zm0 2zm.2 1.3zm.2-1.9zm.2-1.4zm0-1.3zm0 .1zm.5 4zm.1-2.3zm0 1zm.1-1.1zm0 3zm.1-4.7zm.1 0zm.2 1.9zm.1 0zm0-2.4zm.4 3.9zm.2.7zm.4.4zm0-.1zm.2-2.8zm0 1.8zm.1 1.2zm.5-2.7zm.9-1.2zm0 4.2zm0-2.8zm.3-1.7zm.1 3.1zm.3-1.3zm.4 1.2zm.6.3zm1.4.1zm0-2zm-3 4zm-2.1-.4zm-3.7.1zm-2.1-.2zm-1.8.6z" stroke="#ff5000"/>
<path d="M1091.2 923.9zm-2.4 0zm-.3-3.4zm0 3zm-.3.1zm-.4.3zm-.4-1.5zm-.1.5zm-.1.7zm0-1.2zm-.4 1.3zm-.1 2.2zm.1 3.3zm0-1.5zm0-.7zm.1.1zm0 .4zm.1-3.5zm0 3.4zm0-.8zm0 1zm.1-.2zm0 .7zm.1-3.4zm0 2.5zm0 .6zm0 .4zm0 0zm.1.5zm0-2.2zm0 .8zm0 1.7zm0-.2zm0 .8zm0-2.8zm.1-.6zm0 3.3zm0 .1zm0-4.7zm0 1.1zm0 2.9zm0-.9zm0 .8zm.1.9zm0 .2zm0-.3zm0 .3zm.1-4.8zm0 3.8zm0-2.9zm0-1.1zm.1 2.3zm0-.4zm0 0zm0 1.2zm0 .8zm.2-.6zm0 0zm0-.8zm0 .2zm0-1.9zm0 .4zm0 .5zm0 1.3zm.1.8zm0-1.9zm.1 3.1zm0-.1zm0-.5zm.1-3.3zm0-1.9zm0 3.7zm0-.4zm0 .1zm0 1.9zm.1-3.2zm0-2zm0 2.5zm.1 1.5zm0-3.1zm0 3.9zm0-1.4zm0 2zm.1-1.5zm0-2.4zm.1 1.3zm0 .6zm.1-.3zm0 1.4zm.1-2.6zm0 1.3zm0-.7zm0-1.8zm.1 2.9zm0 .5zm0 .4zm0 1.1zm.1-3.6zm0 3.4zm0-1.8zm0 1.7zm.1-.6zm0-2.1zm0 1.8zm0 .4zm0 .9zm.1-3zm0-.6zm0 1.2zm0 1.8zm.1-.9zm0 .9zm0-4.8zm0 2zm0-1.4zm.1 2.8zm.1.9zm0-.1zm.1 1.1zm.1-.8zm0 .5zm0-3.7zm0 1.7zm.1 0zm0 .4zm0-1.3zm.1.8zm0-2.9zm.1 3.4zm0 .9zm.1-.8zm0-.2zm.1-.4zm0 0zm.1.6zm0-.3zm0-1.6zm0 1.5zm0 2.2zm.1-1.3zm0 1.4zm0-1.3zm0-1.1zm0 1.5zm0-.4zm.1.2zm0-1.2zm0 .2zm.1-1.1zm0 .3zm0 2.6zm.1-4.6zm0 3.4zm.1-.3zm0 .8zm0 .6zm.2-3.3zm0-.8zm.1 1.7zm0 2.1zm0-.4zm0-2.4zm.1 1zm.1.7zm0 .2zm.1-2.3zm.1 3.6zm0-1.5zm0 1.7zm.1-2.3zm0 1.4zm0 .5zm.1-2.9zm0-1zm.1-1.5zm0 3.5zm0-2.8zm.1 4zm0-1.6zm0 2zm.1-1.9zm0 .4zm0-1.4zm0 1.9zm.1 1.1zm0-.9zm0 .8zm.1.7zm0-5.3zm.1 2.3zm0 3zm.1-2.5zm0 2.5zm0-4.9zm.1 4.9zm0-.9zm0 1zm.1-.6zm.1-.8zm0-1.5zm0 2.6zm.1-2.8zm0-.4zm.2 2.7zm0 .8zm0-2.9zm.2-.7zm0 2.1zm.3.5zm.1-3.7zm.1 4.1zm0-4.8zm.2 3.1zm0-.8zm.2 1.6zm.1-.6zm.3 1.3zm.1.5zm.2 0zm.4-4.7zm0 4.5zm.1.1zm.2-2.5zm.1 2.2zm0-.8zm.3.7zm.1-.2zm.2.6zm0 0zm.2.3zm.1-.1zm.2-1.1zm.4 1.3zm-2.7.3zm-.2.2zm-.8-.4zm-.3.3zm-.1-.2zm-.1 0zm-.6.3zm-.3-.4zm-.2 0zm-.2.6zm-.2 0zm0 0zm-.1-.1zm-.2-.5zm-.1.2zm0-.2zm-.5.1zm-.1.3zm0-.3zm-.1.4zm-.4-.4zm0 .2zm-.1.1zm-.2.1zm-.1-.4zm-.1-.1zm-.2.1zm0-.1zm-.3.6zm-.4-.2zm0 0zm-.2 0zm0-.3zm-.2.5zm-.1-.1zm-.1-.3zm-.3.3zm-.2-.3zm-.1.4zm-.3-.6zm0 .1zm-.1.5zm-.1-.3zm-.1 0z" stroke="#ff1000"/>
</g>
<rect x="1216" y="843.5" width="61" height="45" fill="#fff" fill-opacity="0.82"/>
<path d="M1098.7 919.2 L1105.8 877.1 L1249.1 805.8 L1359.7 791.6 L1396.1 825.2 L1362.1 874.9 L1248.1 926.6 L1192.1 930 L1104.3 933.6Z" fill="none" stroke="#111" stroke-width="2.5" stroke-linejoin="round"/>
<text x="1246" y="858.4" font-size="14.5" text-anchor="middle" fill="#222" textLength="60" lengthAdjust="spacingAndGlyphs">no debris</text>
<text x="1246" y="877.9" font-size="14.5" text-anchor="middle" fill="#222">80.6</text>
<rect x="1085.9" y="589.3" width="345.6" height="344.3" fill="none" stroke="#111" stroke-width="1.6"/>
<path d="M1080.9 912.6H1085.9M1080.9 891.7H1085.9M1080.9 870.9H1085.9M1080.9 829.3H1085.9M1080.9 808.4H1085.9M1080.9 787.6H1085.9M1080.9 746H1085.9M1080.9 725.2H1085.9M1080.9 704.3H1085.9M1080.9 662.7H1085.9M1080.9 641.9H1085.9M1080.9 621H1085.9M1109.5 933.6V938.1M1131.5 933.6V938.1M1153.5 933.6V938.1M1175.6 933.6V938.1M1219.6 933.6V938.1M1241.7 933.6V938.1M1263.7 933.6V938.1M1285.8 933.6V938.1M1329.8 933.6V938.1M1351.9 933.6V938.1M1373.9 933.6V938.1M1395.9 933.6V938.1" stroke="#111" stroke-width="1.3" fill="none"/>
<path d="M1075.9 850.1H1085.9M1075.9 766.8H1085.9M1075.9 683.5H1085.9M1075.9 600.2H1085.9M1087.4 933.6V942.6M1197.6 933.6V942.6M1307.8 933.6V942.6M1418 933.6V942.6" stroke="#111" stroke-width="2.2" fill="none"/>
<text x="1070.8" y="604.7" font-size="12.5" text-anchor="end" fill="#222">8.0M</text>
<text x="1070.8" y="688.5" font-size="12.5" text-anchor="end" fill="#222">6.0M</text>
<text x="1070.8" y="771.3" font-size="12.5" text-anchor="end" fill="#222">4.0M</text>
<text x="1070.8" y="854.6" font-size="12.5" text-anchor="end" fill="#222">2.0M</text>
<text x="1087.4" y="958.3" font-size="12.5" text-anchor="middle" fill="#222">0</text>
<text x="1195.9" y="958.3" font-size="12.5" text-anchor="middle" fill="#222">500K</text>
<text x="1308.2" y="958.3" font-size="12.5" text-anchor="middle" fill="#222">1.0M</text>
<text x="1418" y="958.3" font-size="12.5" text-anchor="middle" fill="#222">1.5M</text>
<text transform="translate(999.5 761.9) rotate(-90)" font-size="15" text-anchor="middle" fill="#222" textLength="100" lengthAdjust="spacingAndGlyphs" dy="0.36em">FSC-H :: FSC-H</text>
<text x="1253.4" y="997.2" font-size="15" text-anchor="middle" fill="#222" textLength="102" lengthAdjust="spacingAndGlyphs">SSC-H :: SSC-H</text>
</g>
<g>
<g fill="none" stroke-width="1.5" stroke-linecap="square">
<path d="M1713.4 581.8zm-23.1 4.9zm-8.3-.5zm-.9-2.7zm-10 10.4zm4.2-.2zm.8-1.8zm3-1.6zm3.9 2.3zm1.2 1zm8.4-3.7zm6.8-1.4zm1.1 1.8zm9.4-.5zm10.1 5.8zm-3 1.1zm-18.2-.3zm-1.5 2.8zm-10.5-.1zm-7.1-4.2zm0 3.2zm-.7-4zm-8.1 1.7zm-.4 4zm-25.8 5zm24.1-2.3zm1.8-.5zm2.1 3.6zm2.6.3zm9.5-1.6zm5.4-2.4zm5.2-1.7zm3.1 1.7zm7.5 2.4zm3.7-1.9zm.9 9.3zm-7.5-1.1zm-10.2-.5zm-.1 1.8zm-.4-4.5zm-1.2 1.1zm-2.9 2zm-1.4 0zm-4-4zm-1.7-.5zm-2.1 2.9zm-6.5.1zm-6.8.3zm-1-2.1zm-2.6 4.1zm6.3.9zm2.9-.2zm2.8 0zm2.4 5zm5.2-.2zm3.3-4.4zm.9 1.5zm.1-.2zm2.3 2.3zm15.9-2.7zm.8-.7zm5 2.1zm2.4 9zm-19.2-2.6zm-8.9 2.8zm-1.7-.2zm-5.8-1.4zm-8.3-3.2zm-7.4 2.6zm-5.2 7.3zm6.3-.1zm1.4-4.1zm1.2 3.9zm3.6-4.3zm2 .5zm6 1.8zm.5-.5zm5.7 1.3zm.7 1.9zm3.8-.9zm.1-3.2zm1.4 3.2zm4.7-4.1zm.5-.3zm2 5.3zm1.2.3zm2.3-3.9zm1.3.3zm1.8-1.4zm3.6-.6zm1 .4zm1.2 5.2zm2.1-4.9zm2.9.1zm18.1 3.7zm-14.4 6.5zm-13.2 0zm-1.2-1.7zm-9-3.4zm-1.5.8zm-.2 4.6zm-8.2-4.2zm-.2 2.4zm-5.2-1.3zm-.5-.4zm-1.5 3.5zm-.5-.2zm-4.2-1.5zm-5.6.7zm-8.1-4zm9.6 10.9zm12.9-4.2zm2.4.9zm.1.3zm1 1.7zm.8-2.1zm2.7-.6zm10.2 3.3zm5.6-2.6zm3.6 2.2zm2-2.1zm8.8-2.1zm7.5.6zm-16.3 10.9zm-4-3.9zm-9.7 4zm-.6-5.3zm-9.8 2.4zm-1.1.7zm-2.1-.5zm-1.9 1.1zm-4.7.9zm-2.1-4.5zm-5.4.8zm-4.3 4.2zm-14.2 3.2zm6.6-.6zm0-1.6zm6.5 2.5zm7.8-2.8zm1.6 4.3zm1.5-4.4zm1.9 2.2zm2.4 2.2zm2.6-.3zm6-2.9zm1.3 1.3zm.4 3.3zm5.5.1zm3.7-4.3zm2.1 2.2zm23.8-1.1zm-2 4.4zm-8.2 3.6zm-4.3 1.1zm-3.7-.8zm-1.9-.7zm-.3-2.8zm-2 .7zm-1.5-1zm-5.2 0zm-1.1 3.8zm-8.2-.7zm-2.7.7zm-1.7.6zm-.8-4.2zm-4 4.4zm-6.6-3.4zm0 1.2zm-2.6-3.5zm-6.9 1.4zm-8 6zm.3 3.4zm24-2.7zm1-1.2zm4.8 2.8zm2.3-3.1zm7.5.9zm3.2.9zm20.1-2.5zm20.2 3.6zm-13 5.1zm-14.9-.2zm-1.4-.6zm-4.4-.1zm-.4-1.2zm-1.1.2zm-1.3 4.5zm-.3-2.9zm-6.6.2zm-.3 1zm-1.7.7zm-4.9-2.4zm-3.1-.4zm-1.8 3.1zm-7.2-1.1zm-4.6 2.1zm-3.1-3.5zm-4.1-1.7zm9.3 6.5zm2.2.8zm2 3.3zm3.9-3.2zm7.9 3.8zm1.3-.4zm12.5-.9zm3 .1zm9.9 1.5zm.5-2.1zm2-1.6zm-11 7.2zm-3.2 1.5zm-.6.5zm-1.6-1.9zm-2.7.8zm-1-.2zm0-3zm-3.8 2.8zm-.9-1.4zm-1 1.2zm-7.8-.7zm-3-1.9zm-1.4 2.1zm-1-2.1zm-.1 4.1zm-1 .7zm-1.6-4.3zm-.4.9zm-.8-1.5zm-1 3.7zm-1 .9zm-.8-3.4zm-22.4.5zm-8.7.7zm13.6 4.4zm4.8-1.3zm2.3 3.6zm1.9 1.4zm1.7-1.2zm.7-1.4zm3.2.5zm1 1.1zm0-3.1zm2.9 1.1zm2.8 2.1zm.1-3.7zm2.4 3.6zm2.6-2.5zm.8.4zm6.7 1.9zm2.1-1.7zm.1.7zm2.1-.9zm3.9-1zm2.9 4.3zm6.1-4.6zm1.1 2.6zm.8-.3zm1.5-1zm7.3 2.7zm4.4-.8zm-10 2.1zm-6.1 4.2zm-.3-1.2zm-3.6.2zm-4.4.2zm-1.1-3.8zm-3.9 4.6zm-.3-.7zm-1.6-2.6zm-.5 3.5zm-2.6-1.1zm-.5-2.1zm-.9 3.9zm-.4-4.1zm-.7-.3zm-3.8 1.3zm-1.3-.3zm-.1 2.3zm-1.4 1.5zm-2.6-3.3zm-2.7.3zm-1.5 1.8zm0 1.1zm-2.3.1zm-1.3-.3zm-.4-2.6zm-.5-.5zm-.9.4zm-.4 2.7zm-2.6-.9zm-1.2-.8zm-2.4.9zm-15.3 6.8zm2.2-.7zm7.8-2.9zm4.8 2zm2 0zm1.2-1.8zm2.1-1.1zm.3.1zm.7 2.6zm.9 1.4zm.2.6zm.3-3.6zm1.1.6zm.5.4zm1.7 1zm2.6 1zm1.6.5zm0-1.2zm0 1.1zm.8-5.2zm1.2 2.6zm1.1 1.1zm.8-.5zm.1 1.3zm1.4-3.5zm2.1.7zm.9-.7zm.7 3.2zm.4-1.5zm0-.5zm.7-1.5zm1 2.1zm.4-1.6zm1.6-1.5zm1.7.4zm0 3.3zm1.1-3.1zm.5 4zm.1-.3zm.2.4zm.3-1.5zm.1-2.9zm0 1.7zm.7 1.1zm.8-2.3zm.6-.7zm.1 4.8zm.2.1zm0-.7zm.8 1zm1.3-.6zm1.8.8zm.5-1.4zm.4-3.4zm.3 3.2zm.4.8zm1.5.2zm2.2-.4zm2.3-2.5zm.4 2zm.2-2.6zm.3 4.4zm3.6-4.8zm3.4 4zm1 .7zm3.5-4.6zm-5.4 5.9zm-.9.1zm-2.5.5zm-.1 3.4zm-1.3-2.8zm-.8 0zm-5.6-1.5zm-4.3 4zm-1.5-1.1zm-2.3 2.1zm-.1-2.3zm-.7-2.4zm-1 .9zm-.4-.3zm-.1 3.4zm-4.3-4.3zm-.8-.1zm-1.5.6zm-.2-.8zm-1.1.5zm-.8 1.1zm-.4-1.9zm-.3.3zm-.8.3zm-1.3 2.3zm-.2-2.6zm-1.7 1.3zm-.5 1zm-.2-.9zm-1.5 1.2zm-.2-.5zm-.3 3.2zm-3.6-1zm-.2-.6zm-.5-.5zm-.5-3.4zm-5.5 4zm-2.4-.8zm-1.1 0zm-1.8 0zm-2.3-.4zm-.4-2.5zm-.7 5.3zm-1.4-.4zm-3.3-3.4zm-6.9 5.7zm2.2-1.1zm3.3 2.3zm6.5-2.9zm.2 3zm1.8-.9zm.1.7zm4.7-.7zm1.4.7zm2.1 2.7zm.9-3.1zm.7 1.3zm.1-3.7zm1.6 3zm.3 2.3zm1-1.9zm.3 1.6zm3.1-3.6zm1.6 2.2zm0-2.5zm.4-.7zm.6 5.2zm1-5.5zm1.5 3.1zm.6 2.2zm3.7-4.2zm.4.8zm0 2.6zm.4-2.7zm1.2-.1zm.8 2.6zm1 .1zm.4-.3zm.7-1.8zm1-2zm.7-.2zm.7 0zm.2 0zm.4 4.2zm.2-4zm.5 3.5zm.4-.8zm.4.4zm3.4-3zm.1 5.1zm.3-.3zm2.7-4.2zm5.1 2.6zm3.2-3.4zm4-.3zm.1 1.3zm5.1 4.2zm5.8 1.8zm-13.4 1.4zm-.9 1.9zm-1.6-3.5zm-4 3.7zm-.8-3.5zm-.1 1.1zm-1.5-1zm-.3 4.2zm-1.4-2.8zm-1.9-2zm-1-.8zm-.3 2.2zm-.1 3.5zm-1.5-2.3zm-.3.6zm-1.5-1zm-.9-1.7zm-.9 2.5zm-8.1-.5zm-2.5-3.3zm-.6 1.1zm-.7.2zm-.2 2.6zm0 .4zm-1.2-3.8zm-7.5 1.2zm-4.9.3zm-2-.9zm-1.2.7zm-3.4.7zm-20.1 5.8zm22.5-2.2zm2.2 5.4zm.4-.4zm1.7-2.1zm7.4 2.1zm2-2.9zm2.8 1.9zm1.4-.5zm3-2.1zm1.6.4zm1-1.6zm.2 2.5zm5.2-2zm1.7 3.6zm.4-3.3zm1 1zm3.8-1.9zm2.3 2.9zm1.4-.8zm6.3-1.2zm1.4 1.1zm1.3-1.9zm.9 1.5zm5 2.1zm3.7 4.5zm-5.4-.6zm-6-.8zm-2.6-.6zm-3.8 2.4zm-1.6.2zm-3.1 0zm-1.2.1zm-.1-3.2zm-.6 1.7zm-.2-.7zm-1.5 4.4zm-.5-1.4zm-.2-.9zm-.2 1.9zm-1.7-.4zm-.4-.3zm0 1zm-.1-1.1zm-.3 1.6zm-.3-1.8zm-.7-2zm-.1 1.7zm-1.5-.6zm-.4 2.2zm-.4-2.4zm-.8 1.9zm-.2-1.9zm-.3 2.1zm-.1-2.6zm-1 .6zm-1 .4zm-6.6-2.1zm-6.7 4.6zm-14.3-5.9zm-2.9 2.3zm7.3 8zm6.8-1.2zm8.4.7zm2.1-2.6zm3.1.5zm1.3-.4zm.7-.8zm.7 1.8zm.3 2.1zm.6-3.9zm2.1 4.3zm0-.5zm.3-.4zm.3.2zm.1-.4zm.8-3.6zm1 4.6zm1.7-.8zm.4 1.1zm5.7-.3zm1.5-3.7zm.7.8zm.3-.5zm.5-.7zm0 .9zm.8 3.2zm.2-2.8zm.2-1.5zm.5 1.8zm0 0zm.1 3.2zm.1-5.1zm0 4.3zm.1-2.3zm1.1.3zm.2.1zm1 .4zm.3.1zm.3-2.3zm.1.2zm.1 2.3zm.1 0zm1 .4zm0 0zm4-.6zm1.4 2.5zm3.7-5.3zm.2.8zm7.2 2.5zm-4.7 4zm-2.3.2zm-4.3-.8zm-5.5 3zm-2.1 1.4zm-.5-.1zm-.1-.2zm-1.8-3.7zm-.1.1zm-1.4 1.4zm-1.3.2zm-1 .7zm-.2.5zm-2.4-4.3zm-.1 4.9zm-.7-4.3zm-1.5 3zm-1.1-3.7zm-1.4 3.1zm-2.8-.3zm-.9-1.1zm-.1 1.1zm-1.4 2.8zm-1.1.2zm-1-2.8zm-1.1-1.4zm-.4-1.2zm-.9 4.6zm-.8-5zm-.6 5.6zm-2.2-2.3zm-12.2-2.3zm1.8 8.7zm5.4 1.8zm3.7-.9zm.6-1.2zm1.6-.6zm.6-1.2zm.5 1.9zm4.1 1.3zm.8.6zm.1-.6zm.8 1zm.8-2.8zm3-1zm.4 2.9zm.9-4.9zm1 1.5zm.6 1.5zm1.8 2.3zm1.3-3.2zm2.9.1zm.3.7zm.7-.5zm.4.2zm.3.9zm1.3 1.9zm1-2.8zm.3 2.7zm1.1-3.2zm.4-.5zm.6 3.6zm1.1.4zm1.7-2zm1.4-1.6zm.7 3.5zm18.5-3.8zm-5.9 8.5zm-13.4-1zm-1 1.2zm-.4-2.2zm-.9-1.9zm-1.3 1zm-.2 1.3zm-.6.2zm-.2-.1zm-1.9.4zm-.6.9zm-.3-3.4zm-.5-.3zm-.5 2.1zm-.7-.5zm-2.4 1.9zm-.2.3zm-.5 1.4zm-.1-4.5zm-2.6 4.8zm-1.3-5.3zm-2.7 5.2zm-.6-3zm-4.4 1zm-1-1.5zm-1.6-1zm-.7-.9zm-.1 1.8zm-.2 2.4zm-.3-2.6zm-2-1.6zm-3.5 3.7zm-2.7 1.3zm-9.8 0zm5.3 6zm2.2-1.1zm.3.4zm1.6 1zm2.7-.2zm.9-5.2zm.8 1.3zm.2 1.9zm1.8 1.8zm.7-2.1zm.2-1.5zm1 3.2zm3.2-4.1zm1.2 3.6zm2.1-1.8zm3.1 1.6zm2 1.7zm.6-2zm1.7-2.1zm.1.3zm1.2 3zm.3 0zm1.2-3.3zm0 .4zm.5.2zm.6 2.2zm.1.7zm1.5-3.5zm.1 3.1zm.3-4.5zm.1 1zm2 3.1zm10-2.5zm.8 3.2zm1 1zm-6.9.8zm-2 1.9zm-.4.7zm-6 1.1zm-2.1-1.7zm-.8.5zm-.4-3.1zm-.1 1.2zm-2.2-.6zm-.4 4.2zm-.6-2.4zm-.1-2.5zm-1 4.7zm-.3-1.7zm-.7-2.8zm-1.7 2.7zm-.3 1.6zm-.2-.5zm-5-.2zm-.9-3.2zm-1.6.1zm-.5 4.6zm-.4-1.9zm-.2.5zm-.3-2.5zm-.1-.3zm-.7.2zm-1.2 2.7zm-.4-.2zm0-1.6zm-2 2.4zm-1.1-.2zm-5.2-2zm-1.6 3.3zm-5.2-3.9zm-4.9 5.2zm8.6 2zm0-2.3zm2.3 2.3zm.5-1zm2.3-1.1zm0 4zm1.9-2.3zm1.1-.7zm.1.4zm1.2-2.3zm0 4zm.9.2zm.5-.8zm.6-1.6zm1.3-1.2zm4.2 3.7zm4.7 1.1zm2.4-.7zm.1-3zm.2 2.8zm.4-3.2zm.5.7zm.5 3.5zm.3-4.4zm.4-.6zm.4.7zm3.7 0zm1-.4zm.8 1.8zm3.7 3.1zm5-4.4zm6.1-.3zm-.8 7.7zm-.8-1.5zm-1-1.1zm-2.3 2.1zm-3.2-1.5zm-4.5-.8zm-3 3.9zm-1.3 1.1zm-.4.1zm-.1-.1zm-1.7.6zm-1.9-4.4zm-1.3-.3zm0 3.7zm-2.1-.8zm-.3-2.4zm0 2.9zm-.2-.1zm-.1-3.8zm-.6 2.4zm-.2.6zm-.3.9zm0-.6zm-.1.1zm-1.2-1.5zm-.2 3.2zm-.4-1.2zm-.1-.7zm-.9.5zm-1 .3zm-2.7-3.8zm-3.9-.3zm-1.2 3zm-.4-.3zm-1.9-.3zm-1.4-1.7zm-.7 1.9zm-.2-1.1zm-.7-.4zm-1.5 1.4zm-.1 1.3zm-.7 1.1zm-1-.2zm-.2-2.6zm-3.1 2.2zm-1.3-3.6zm-.7-.1zm-7.6 10.6zm5.6-4.5zm2.3 4.3zm.1-.7zm1.9-1.2zm2.1.2zm.3-2.2zm.4 0zm.6-.8zm.5 3.8zm.3-1.6zm.6 2.1zm.9-.2zm.6-3.3zm.9 1.8zm.4-.4zm.5-2zm.2.8zm5.2-.9zm4.3 1.6zm1.2 2.1zm.7 1.1zm.8-1.6zm.4.6zm.9-3.6zm.1 1.5zm.1 2.4zm.4-2.2zm1.8 2.8zm0-.4zm.5-1.2zm1.8-1.2zm.8.3zm.9-1.9zm12.9 4.6zm10.6-5.5zm-23.8 6.7zm-2.3 1.3zm0-1.7zm-2.2-.2zm-.3 3.1zm-1 .6zm-.1 1zm-.1 0zm-.3-5zm-.9 2.3zm-.6.7zm-.1-2.6zm-.9 1.9zm-.7.1zm-.2-.3zm-.4-.1zm-.6 2.7zm-.4-1zm-.7 1.6zm-.3-3.7zm-.5-1.4zm-2.3.9zm0 1.4zm-1.5 3.2zm-5.2-4.9zm-3.3 1.3zm-.7 1.7zm-.8 1.6zm-.3-.8zm-.1-4.2zm-.1 3.4zm-.1-.7zm0-2.8zm-.3 4.8zm-.1.6zm-.6-3zm-.6 1.4zm0-2.9zm-1 3.2zm-.2.3zm-.2-1.9zm-.3 2.3zm-.3.8zm-.2-.4zm-.4-4.9zm-2.6 2.4zm-4.6 2.6zm-.3-.3zm-1.2 0zm-1 4zm3.5 1.7zm.7-3.3zm1.3 2.5zm.8-2.9zm.2 4.4zm.9-2.4zm.4 1.7zm.3.5zm.1-1.5zm0-.5zm.2.6zm0-1.5zm.3-1.4zm1.4 2.6zm.8-.9zm.1 2.5zm.7-2.3zm.1-.7zm.3 1.4zm.3.5zm.2-.1zm1.6 1.3zm.9-5.3zm1.1.2zm5.3 3.7zm3.5 1zm.7-3.5zm.2.6zm.5.5zm.4-1.8zm.3 4.2zm0-1.2zm.3-3.9zm1.5 1.9zm0-.9zm.1.6zm.3-.3zm.1-.8zm.5.9zm.7-.4zm.2.1zm1.7-.8zm.6 4.6zm1.8.2zm2-2.8zm4 .8zm13.2 2.5zm-4.8.6zm-6.1 5.2zm-8.5-.6zm0-4.8zm-3.6 4.4zm-.7-1.3zm-.1.1zm-1.6.3zm-.6-3.2zm-.2.9zm-.1 3.8zm-.1-.8zm-.6-.8zm-.7.9zm-.4 1.3zm-.2-3.9zm-.1-1.2zm-.1 4.4zm-.3-4.1zm-.9 1zm-.4 0zm-.8.1zm-.5 3.5zm-.5.5zm-.6 0zm-4.6-4.1zm-3.7 1.7zm-.9 1.5zm0-1.9zm-.5-2.6zm-.2.7zm-.3-.5zm-.6 3.2zm-.2.2zm-.2-2.4zm-.1-.1zm-.8 1.8zm0 .8zm-.7-2.9zm0 4.3zm-.3-1.2zm0 .8zm-.2-1.7zm-.1-1.6zm-.1-.2zm0-1.6zm-.2 2.3zm-.8-1.3zm0 4.6zm-.9-.7zm-.5-3.3zm-.3-.1zm-.1 2.9zm-.5-.5zm-1.1-2.1zm-.2.3zm-.1-1.8zm-.1.2zm-.3 1.5zm0-1.1zm-.8 1.4zm-.7-1zm-.5.8zm-.3.3zm-.3 1.4zm-2.2.9zm-1.1-4.4zm-1.4.7zm-.5.4zm-4.6.7zm1.5 6.3zm0 0zm2.4.9zm.2-1zm1 .3zm4.8 3.2zm.3-1.5zm.6-.1zm.4-1.5zm0 .1zm.8-2.1zm0 4.2zm.1 0zm.2.2zm.2-.2zm.5-1.4zm0-1zm.4 2.5zm.5-2.2zm.3-1.9zm.2 4.3zm.1-3.3zm.3-1.1zm.1 1.9zm.2-1.7zm0 2.4zm.1-.1zm.1-1.5zm.3 2.9zm.8-3.8zm.8.4zm.2 0zm1.5.4zm5.1-1.7zm2.8 5.2zm.1.3zm1.1-4.1zm.7 4.4zm.3-5zm0 4.5zm.7-4zm.8 3.6zm.1.6zm.1-4.9zm.1.3zm.3 3.3zm.1 1.4zm.1-4.4zm.2 2.3zm.1 1.2zm.6-2.3zm.7 2.3zm.3-.5zm.4-1.1zm.3-2.5zm.1 3.5zm1.1-4.1zm.9 4.3zm.4-2.2zm.4 2.1zm.3-1.7zm.2 1.1zm.3-3.3zm1.3 2.1zm1 2.5zm1.6-3.3zm3.8-.2zm5-1.5zm2.9 1.4zm16.6-1.3zm-30.2 10.2zm-1.1-.2zm-1.6 1.8zm-1-3.8zm-.3 1.4zm-.3 1zm-1 1.1zm-.2.3zm-.5-5.9zm-1.3.4zm-.9 5zm-.1-1.5zm0-3.6zm-.2.1zm-.4 1.1zm-.1-.2zm0-.9zm-.7 5zm0-5.3zm0 1.7zm-.1 1.1zm-.6 2.3zm-.2-4.3zm0 0zm0 .9zm-.2 2.3zm-.4-2.9zm0 1.1zm-.1-1.1zm0 4.3zm-.8-3.1zm-.1 3.2zm-.3-1.9zm-.3.6zm-.3-.8zm-.2-1.2zm-.1 2.9zm-.5.2zm-.4-1.1zm-.7 1.6zm-9.6-4.5zm-1.4-1.4zm-.3.5zm-.4.1zm-.6 4.6zm-.4-1.6zm-.8.2zm-.2-3.6zm-.2 4.2zm-.1-4zm-.1.1zm-.1 1.7zm0-.4zm-.1-.3zm-.2.1zm0 1zm-.6 0zm0 2.9zm0-3.7zm-.6 3.3zm0-1.7zm-.8-.7zm-.2.7zm-.5-.6zm-.5.2zm-.4 1.3zm-.4-1.9zm-2.5.6zm-.8-2.5zm-.4 2.5zm-.9-1.6zm-2.1 1.4zm-.9-.9zm-7.2 7.6zm3.1.2zm3.3.3zm.1.2zm2.2.8zm1.2-3.7zm1.2 2zm1.7 2.2zm.4-5.3zm.5 5.2zm.1-1.2zm.6 1.4zm.5-4.9zm.1 5.2zm.1-4.1zm.4.2zm.3 1.4zm0 1.8zm.5-2.2zm.2-1.9zm.3 1.1zm.1 3.7zm.1-1.4zm.3-2.5zm0 3.6zm.4-2.8zm.4 2zm.1-4.7zm1.5.7zm.1-.7zm.1.4zm11.8 1.1zm1.2 4.3zm.1-.1zm.1-5.7zm.3 5.2zm0-1.9zm.5.4zm.1.6zm0 .2zm.1-1.3zm.1-.9zm.2-2.1zm.2 2.2zm0-1zm.1 2.8zm0 1.4zm.1-1.2zm0 .1zm.2-1.8zm.2 1.7zm.1-4.3zm.3 2.1zm.9-.6zm.2-.5zm.1-.3zm.3 2.8zm0-3.5zm1.1 1.9zm.3-2zm.2-.1zm1.1 5.5zm.3-2.2zm0 2.1zm.1-3zm.1 2.4zm2.2-2.8zm.3-1.7zm.6 1.1zm.3-.2zm0 4zm5.6.5zm3.7-5.3zm-10.6 6.5zm-.6 3.8zm-.9 1.2zm-.8-.5zm-.9-1.3zm-.9-3.9zm-1.2 2.2zm-.6-.4zm-.3-.4zm-1-.2zm-.4 4.3zm-.1-1.2zm-.1-4.3zm-.2 0zm-.4 2.3zm-.1-2.4zm-.2.8zm-.3-.6zm-.3 4.1zm-.3.6zm-.9.7zm-.4-5.1zm-.6 1.1zm-.3 1.3zm-.4 2.5zm0-4zm-.7 3zm-.1-2.8zm-.2 3.3zm-.1-3.3zm-9.1.5zm-3.3-2.1zm-.6 2.1zm0 3zm-.2-4.3zm-.1 4.1zm-1.1.3zm0-.7zm-.1-3.8zm-.4 3.2zm-1.7.4zm-.5-2.9zm-.1-.4zm-.1 1.8zm-.1.8zm-.5-2.5zm-1.5 3.1zm0-.7zm-2.2-1.3zm-.5 1.7zm-4.5 3.6zm1.1 1zm.9-1.1zm.5-.6zm.1 4.4zm2.3-5.1zm1.3 3.1zm.7-1.5zm1-.1zm.6 4.2zm.2-3zm.1.4zm.3-1.3zm.3 3.8zm.3-1.7zm.2.7zm.5-.7zm.1-1.7zm.3-1.6zm.4 1.1zm.1-1.7zm1.6.6zm7.9 4.6zm.5.2zm3.3-1zm.4.7zm0-2.3zm.1.9zm0 1.3zm.5-3.8zm0 4zm.1-1.9zm.1-.1zm.4-3.2zm0 .5zm1.4 3.5zm.4-3.3zm.1 4.5zm.2-5zm0 5.4zm.1-5.3zm.1 2.1zm.1.9zm0-1.6zm0 .3zm.3.2zm.1 1.8zm0-2.2zm.3 2.1zm.3-1.2zm.3 2.3zm1.2-4.2zm1.5 2.9zm.6 1.3zm.3-4.4zm.5-.6zm1.2 1.1zm2.9 3.3zm-3.5 6zm-.2-1.2zm-3.7-1.5zm-.4 4zm-.2-3.2zm-.5 1zm0-.7zm-.8-.9zm-.1-1.7zm-1.1 4.1zm-.3-3.6zm-.1 3zm-.6-.3zm-.3 2zm-.1-2.4zm0-1zm-.2 1.6zm-.1 1.7zm-.9 0zm-.2.2zm-.2-4zm-.3 3zm-.2.2zm-.1-1.6zm-.4 2zm-.3-1.7zm-.4-.1zm-.3-.1zm0-1.9zm-.2.9zm-1.9 3.3zm-.7-3zm-1.2 3.1zm-10.3-5.7zm-.5 5.2zm-.1-1.8zm-.3-1.3zm-.1-2.1zm-.1 4.9zm-.2-.5zm-.1-1.3zm-.4 2.3zm-1.5 0zm-1.1-2.9zm-.3-2.1zm-.6 5.3zm-2.1-1.3zm-.2-.7zm-2.1.4zm-3.4.9zm0 .2zm-2-1.1zm-.2-.5zm-2.4-1.2zm2 7.9zm1.5-.4zm.8 1.9zm.2-1.6zm2.4-1.6zm1.5 1.2zm.5 1.7zm.3-2.4zm.1.2zm.1 1.4zm.4-1.1zm.1 1.4zm.3-3.9zm.4.1zm.1-.9zm.2 3.9zm.2 1.1zm.6-2.6zm.7-2.2zm.1-.1zm0 3.9zm.3.3zm.1 0zm0 1.1zm.3-5.2zm.8 2.1zm.2-.1zm.1 2.5zm.4-4.6zm.3 1.7zm0-1zm.5.3zm.3-1.3zm.2.3zm10.1.2zm1.3 4.9zm.9-.1zm.2-.2zm1-1.1zm0-3.1zm.2 3.2zm.4-1.8zm.6 1.7zm.1.6zm.1-1.4zm.5.1zm.2 1.5zm.2-3.2zm.2-.5zm.1-.2zm.4-.7zm0 .5zm.4-.3zm.6 3.1zm.1 1.2zm.1-2.7zm1.1 3zm.1-4.7zm2.3.5zm1 1.6zm7.7 3.4zm-8.1 2.3zm-1.2 1zm-1.1-.3zm-.7-1zm-.4-1.9zm-.3 1.5zm-.2-.1zm-.3-1.3zm-1.1 2.1zm-.4 1.1zm-.9-1.9zm-.4 2.5zm-.9-1.1zm-.4.1zm-.2 2.3zm-.1-5zm-.9 3.9zm0-1.9zm-.3-.8zm-.5 2.4zm-1.5-3.3zm-1.7 5.2zm-7.5-1zm-1.8-3.4zm-3.1-.3zm-.1 1.5zm-.1-1.8zm-.1 4.7zm-.2.4zm-.5-4zm-.2 1.8zm-.1-1.4zm-.5 3.1zm-.3-.5zm-2.2-2.2zm-.2-2zm0 1.6zm-1.1-1.5zm-.1 3.8zm-4.1 0zm-.1-3.5zm-.3-1.1zm-3.4 1zm.4 6.2zm2.6 4.6zm1.1-2.2zm.5.5zm1.1-1.3zm1.1 3zm.1-3.1zm.1.8zm0 2zm.1-2.5zm1 1zm0-1.7zm.1 1zm.1-2.4zm.3 2.6zm0-1.1zm0 .1zm0 1.5zm0-.1zm.2 1.8zm.5-.1zm.3-2.2zm.1-2zm.5 2.7zm0-2.4zm.2.3zm0 .3zm.2-1.7zm0 3.9zm.1-2.4zm.1-2.1zm1.2 1.7zm.7.1zm.6-.9zm10.8 4.9zm2-.9zm.2.4zm.9.2zm.2-.9zm.2.1zm0-4.1zm.1 4.1zm.7-3.6zm.5 4.1zm0-1zm.1-.1zm1.5-3.5zm1.1 2.3zm.1-1.1zm0 .1zm.1-.1zm0 .5zm.3-.6zm.2 2.6zm.3-3.6zm.3 2.6zm1.1 2zm.9.3zm7.5-4.5zm2.6 1.6zm-8.5 4.3zm-2.4 4zm-.1-4.4zm-.7 4.6zm-.7-2.8zm-.6-2.4zm-.3 1.5zm-.3 3.4zm-2.7-4.1zm-.3-.1zm-.4 2.3zm-.3-.7zm-.4 2.3zm-.3-2.7zm-.5-1.1zm-.8 3.1zm-.3 1.3zm-.2-1.8zm-1.9-2.8zm-1 2.2zm-.4 1.9zm-9.8-2.8zm-.3-1.4zm-.2 0zm-2.2.1zm-.8 3zm-.1.3zm-.2-.1zm0-.2zm0-1.2zm-.1.1zm-.3-.8zm-.3-1.1zm0 1.3zm-.1 3.5zm-.4-3.4zm-.1 2.9zm-.4-.1zm-.8.5zm-.1-3.3zm-.2 2.4zm-.2-4.1zm-.1 2.6zm-.2 2.9zm-.1 0zm-.3-3.2zm-.8.5zm-.2-2.7zm-.6.7zm-5.7 3.2zm-.1-1.4zm-1.1 2.6zm.8.6zm4.2.5zm0-.2zm.4 3.9zm.8 1.5zm.4-5.7zm.3.3zm.1 4.7zm.8-2.4zm.4 1.7zm.2-.5zm.8-.9zm.6 2.3zm.5-2.4zm0-.6zm.5 1.7zm0-2.7zm.3-1.3zm.2 1.9zm.2-1.5zm.2 3.5zm.2.1zm.8-4zm1.3.8zm9.6 2.6zm1.6 0zm1 .7zm.7-.7zm.4-.1zm.7-1.8zm.4 2.9zm0-1zm0 .6zm1.2-.8zm.9 1.4zm2.9-2.7zm5.5-1.2zm.4.5zm-4.3 4.8zm-.8.5zm0 .9zm-2.8 2.1zm0 .8zm-2.1-1.4zm0-.4zm-.6-2.5zm-1.4 3.5zm-.4.3zm-1.2.1zm-.4-2.2zm-.6-.1zm-.3 4.1zm-.6-.3zm-.3.2zm-.3-3.9zm0 3.9zm-.1-2.5zm-.2-.3zm-.1 2zm-.1-1.7zm-.3 1.6zm-.8.7zm-.4-1.5zm-.5 2zm-.4-2.4zm-.1 1.7zm-8.9-3.1zm-.2-2.1zm-.7 5.8zm-.1-5.1zm0 4.8zm-.1-4zm-.3.9zm-.1-.7zm-.3 3.5zm-.3.1zm-.6-3.1zm-.1-.5zm-.5 2.2zm-.4.8zm0-3.2zm-.1 4.4zm-.4-4.2zm-.5-.8zm-.1 1.9zm-.6 1.5zm-1.5-.5zm-.2 1.7zm-1-.4zm-.1-1.6zm-1.6.8zm-1.9 1.7zm.6 5.1zm1 .4zm1.4-.7zm.8-2.9zm.9-.6zm.6-1.2zm.3 3.4zm.1-.3zm.5-1.8zm1.4 3.4zm.6-3.7zm1 1.8zm.8 0zm0 1.9zm.7-2zm5 1.9zm1.5-2.9zm.1 3.8zm1.9-.4zm.1-2.1zm.1 2.3zm1.2-1.4zm.1 0zm1 .2zm.1-1.3zm.1.9zm.7-1.7zm.7-1.3zm.1-.5zm.3 2.8zm.4-1.8zm.5-.6zm6.4 2.3zm-1.4 6.2zm-4.7 2.1zm-1.7 0zm-.9-4.7zm-.1 4.4zm-1.7-2.6zm-.6 3.5zm0-.4zm-.3-1.6zm-1.2-.8zm-.8 1.3zm-.2-4.1zm-1.2 2.3zm0 1.4zm-.2-1.9zm0-2.1zm-.6 1.6zm-3.4 4.3zm-4.2-4.8zm-.1-.8zm-1.6.3zm-.1 5zm-.5-1.4zm-.1-3.2zm-.2-.4zm0 1.4zm-.7 2.2zm-.2-3.4zm-.3 4.4zm0-.9zm-.1.1zm0 1.1zm-.4-4.6zm0 5zm-.2-4.7zm-.3 3.8zm-1.9-3.7zm-.8 3.1zm-3.5 6.2zm1.3-1.4zm.5 1.1zm.7.5zm.2-.4zm.8-1.4zm.3 2.6zm.6-2.6zm0 1.4zm.5-2.6zm0-.6zm.2-1.2zm.3 4.9zm1.3-4.9zm.2 3.1zm.2-3.1zm.1 1.8zm.1 3.9zm0-5.3zm.2 1.1zm2.4 1.3zm1.9 2.3zm.5-.4zm.1-.3zm1.9-.7zm.2 2.1zm.4-5.3zm.1 2.4zm.1.7zm.4 2.2zm.4-2.2zm.3-1.3zm.4 2.4zm.6 1.2zm.2-2.1zm.5-1.6zm.4-.6zm.6.9zm.2.9zm.4-2.6zm.2.6zm.5.9zm.2 1.5zm.1-1.9zm.3 2.7zm.9-3.1zm.6-1.5zm2.1 5.1zm1.1-2zm4.3-.3zm-10 6.9zm-3.7-2zm-.7 0zm-.1.7zm-.5-1.9zm-.4 1.7zm-.2 3.2zm-.2-.7zm-.5-2.2zm-.2-1.1zm-.1 1.7zm-.8-2.7zm-.3.1zm-.2 3.7zm-.1-2.4zm-.4 2.8zm-.1-4.6zm-1.9 5.1zm-.4-2.3zm-.8-2.7zm-.2 5.8zm-.3-3.8zm0 1.8zm-1.4-1.9zm-.3.7zm-1.5.5zm-.1.7zm-.4 2zm0-4.1zm-1.3-.9zm-.2 1.5zm-.5.2zm-.1.2zm-5.6.2zm.4 5.6zm.1 2.1zm1.7.6zm.5-3.3zm.1 1.2zm2.4-2.3zm5.1 3.8zm.5-1.3zm.1.5zm.1 2zm1.3-3.5zm.2-2.4zm.1 1.7zm.3 1.6zm.1-.7zm0 .6zm.1-1.1zm.8-.9zm.7-1.1zm2.4 3.4zm1-2.7zm1.1 2.7zm-7 7.3zm-.6-4.8zm-1.5 1.1zm-.2 2zm-.3-2.9zm-.1 1.8zm-1.1 3.1zm0-1.5zm-6.7-3zm-.8-.2zm-1.1.9zm-1-.7zm-1.4 4.8zm-.3-.7zm-.1.3zm-1.1 6.9zm.3-3.3zm2-2.4zm5.1 4.3zm3-2.6zm1.1.1zm1.9.1zm.8 4.1z" stroke="#0000ff"/>
<path d="M1695.1 599.4zm-11.6-.5zm-.9 3.2zm-7.7 7.4zm-6.5 29zm30.5-.3zm-16.5 25.2zm3.2 16.9zm6.5 9.2zm7.3 4.1zm-22.8 1.7zm-22.4-3.5zm1.4 7zm50.6 7.7zm-6.4-1.1zm-1.2.2zm-8.9 2zm-2.7 3.3zm-2.6 8.2zm12 10.5zm-2.7-.9zm-4.3 3zm-1.2-.4zm-.5-.2zm-1.3-.5zm-.3-.1zm-2.5-.1zm-26 5.9zm26.9.5zm1.3-2.8zm2.3 3.6zm.8-.3zm1.6-4.3zm1.6 3.4zm0-.1zm0-3.6zm.4.6zm.5-.3zm1.9.7zm9.4 3.6zm.9 2.5zm-12.5-.2zm-8.7-1.4zm-1.6 5.6zm-.3-2.1zm-.8 4.1zm.9 1.5zm1.1 2.1zm.6-4.2zm1 2.2zm.1.2zm.2 2.3zm4.8 0zm-4.2 2.5zm-.2 1.8zm-2 .4zm-.9-3.1zm-3 4.4zm-.3-5.4zm-1.7 1.6zm-.7 2.7zm-3.2 7zm1.5-.3zm.1-1.2zm2.7-3.2zm.6 3.8zm.1.7zm.5-1.1zm.8-4.2zm.3 0zm.1 2.2zm.1 3.3zm.2-.4zm0-1.3zm2.8-.9zm1.3-1.4zm.3 2.2zm6.7-1.5zm-10.8 6.1zm-.6 2.3zm-.2-4.8zm-.3 5.5zm-2 .3zm-.8-2.7zm-2-2.6zm-.5 4.2zm-3.2 1zm-.4 3.5zm.2-2.4zm.9 3.9zm2.8 1zm.2-1.7zm.1-2.4zm1.1 4.2zm.7-4.4zm.7 1.1zm.2.6zm.1.2zm.9 2.1zm4.5-2.6zm13.2 0zm-16.4 3.2zm-2.1 2.5zm-.4 0zm-.1 3.2zm-.3-5.8zm-.6 1.8zm-2.3-1.8zm-1.2 3.6zm0-1.5zm-1-1.3zm-3.4 2zm-.9 2.8zm-.8-4.1zm-1.5 3zm0 .7zm-.2.4zm-4.7 5.9zm.4-1.3zm.9.7zm.5-2.4zm2.6.6zm.5 1.5zm.9-4.3zm2.7 1.1zm.9 3.5zm.8.7zm1-1.3zm.2.7zm.4 0zm.6.1zm.9-1.7zm.2.5zm1.1-.4zm.5 1.8zm2-5.2zm1.1.2zm5.9 1.3zm-10.2 7.3zm-.7-1.1zm-1.8.6zm-.1 3.3zm-.2-2.8zm-.4 2.9zm-.2-4zm-.1-.8zm-2 1.3zm-.9 2.5zm0-2.5zm-.6 2.1zm-1.2-2zm-2.7.1zm-1.5.1zm-.7-1.4zm-1.8 4.2zm-4.4 3zm.5 1.5zm.5 1.5zm.1 0zm.1-.8zm.1-.1zm.8 1.3zm.2-2.9zm2.3-2.1zm.8 1.2zm3.6 1.3zm1.6-1.6zm.4 3.6zm.5-.3zm.2-3.2zm.5 3.5zm.7-.6zm.6.6zm.3-.8zm1.9-3.7zm1.1.3zm-2.9 7zm-.5-.3zm-.3.5zm-1.6 2.7zm-.4-3.1zm-.2 3.5zm-1.4-2.3zm-1.1.8zm-.1-.2zm-.3-.5zm-2.5-2.6zm-3.3 1zm0 3.2zm0-2.9zm-.7 2.6zm-.5-4.1zm0 .2zm-.1 2.1zm-1 2.1zm-.3-1.2zm-1-.1zm-2.7 2.4zm-3 4.3zm0 1.2zm1.8-3.1zm.3-.1zm.6-.9zm0 2zm.1-2zm.1 4.6zm.5-3.1zm.4-.4zm.5 2.3zm1.2-2.6zm1-1.1zm.9 4.6zm1.1-5.2zm.5.4zm.3 5zm1.2-.3zm.2-4.1zm1.3 2.2zm.8-2.5zm.1 2.9zm.4-.4zm.4 1.3zm0-4.7zm0 2zm.2-.4zm.5 0zm1.4 2.3zm1.3-3.4zm-4.7 6.6zm-.5.6zm-.1-1zm0 4.3zm0 0zm-2.5-4zm-.3.7zm-.3 2.3zm-.3-3.3zm-1.8.3zm-1.3 2.2zm-.1-2.1zm-.7 2.7zm-.3-2.4zm-.3.6zm-.3 1.1zm-1.6.3zm-.2-.1zm-.3-2.6zm-.3-.5zm-1.9.7zm-.2 3.3zm-1.4.7zm-3.2 6zm.2-.1zm.8.8zm.2-2.5zm.4 2.2zm.5-3.4zm.2-.5zm.1 2.6zm.4 1.3zm.9-5.3zm1-.2zm.6.6zm.3 4.6zm.6-2.5zm.4-1.4zm1 3.6zm1.1.7zm.9-1.6zm.6 1.8zm1.8-1.6zm1.4-.4zm0 .1zm.7 1.1zm.2-2.9zm.2 1.9zm.2-3.5zm.2 4.7zm.3-.9zm.1-.8zm.4-3.3zm.7 1zm.4 3.8zm-2.6 4.4zm-1.4 1.6zm-.3-1.2zm-.2-.3zm-.1-3zm-.4 3.2zm-.6 1.1zm-1.6-2zm-.9 1.9zm-.9.1zm-.4-.5zm-1.5-4zm-2.7 1.3zm-.7-.5zm-1.9.3zm0 3.2zm-.4-2.4zm0-1.6zm-.2.6zm-.2-.2zm-1.1 1.2zm-.4.7zm-.1 1.4zm-.2-2.7zm-.7 1.8zm-.9-.6zm-2.8 8.5zm.3-1.7zm.9-.2zm.3 2.3zm.8-2.6zm.1-.6zm0 3.4zm0-3.4zm.3 2zm.4 1.1zm0-4.7zm.7.9zm0 .1zm.3 1.1zm.2-1.7zm.6-1.2zm.6.2zm.2 5.2zm.4 0zm.3-5.5zm.3 3.1zm.4-2.9zm2.3.6zm.4 4.8zm3-1.3zm.9-.1zm.1.8zm.1.3zm.2-2.8zm.2 3.2zm.3-.1zm.5-4.7zm.1.7zm.2-.6zm.1 2.4zm.1-1.2zm.4 2.1zm.1-4.2zm.2 2zm1-1.5zm.5 2zm.5.6zm-1.8 5.2zm-1.2.6zm0 2zm-.6-3.7zm-.9 4.5zm-.2-3.9zm-.2 2.9zm-.1-4.1zm-.7 3.2zm-.3-2zm-.1 1.5zm-.3-.4zm0 2zm-.1-.1zm-.7-.2zm-.4-4zm-.7 1.9zm0 1.8zm-.6.9zm-.5-.4zm-1.7-4.8zm-2.6 2.6zm-2 1zm-.7 0zm-.2-3.4zm-.4 5.2zm-.3-2.2zm-.3 1.3zm-.2-2.6zm-.2.3zm0-.1zm-.4.2zm-.1-.9zm-1 3.9zm-3.1 6.1zm.4-3.1zm.1 2zm.1-2.6zm.7-.9zm.9 4.8zm.4-4.8zm.2.8zm.3 3.4zm0-4.7zm.1 3.8zm1.6-2.4zm1.2 1.7zm.4.4zm1-1.3zm2.1-1.1zm2.2.7zm.6.5zm.1 2.9zm.3-5.3zm.2 2.8zm.7 2.3zm.1.1zm.1-5zm.4 4zm.1-3.4zm1.7 3.5zm0-1zm.1-1.4zm.2-1.5zm.6-.1zm1.1 3.6zm-3.2 2.8zm-1.3 2zm-.1-1.5zm-.1-1zm-.2 2.8zm-.5-2.3zm-.1 4.5zm-.3-1.8zm-.6-.9zm-.6 2.4zm-.3-3.7zm-.4 2zm-.4-.7zm-.6 1zm-.4 1.3zm-2.9-.3zm-2.9-3.5zm-.9 4.5zm0-4.6zm-.8-.7zm-.6 3zm0-2.2zm-.2 1.3zm-.2-.2zm-.3 3.4zm0-5.2zm-.4 0zm-.5 3.7zm-.5-.8zm-.8 1.8zm-3 5.9zm0-.2zm.3-2.5zm.3 3.4zm.8-3.8zm.3 3zm.4-.3zm.2-1.9zm.1 1zm.2-1.3zm.3.5zm1.5 1.3zm1.6-1.2zm2.2 1.3zm1.2-2.6zm1.9-.4zm.4.8zm0 .2zm1.4 3zm.1.2zm.4-2.4zm.5-2.8zm.2.9zm.4 4.4zm.3-2.9zm.3 2.1zm2.2-2.6zm.3-1.3zm-1.1 5.3zm-1.3 0zm-.1.4zm-.5.1zm-1.1 0zm0 3.9zm-.2-1.9zm-1.5.1zm0-1.2zm-1.3-.4zm-.5 2.3zm-.6 2.1zm-.2 0zm-.1 0zm-.1-2.5zm-.7 2.5zm-.4-3.4zm-4 3.1zm-1.1-1zm-.7-3.8zm-.2.6zm-.2 4.3zm-.7-4.8zm-.2 4.4zm-.2-.9zm-.4-.2zm-.4-3.6zm-.3 2.2zm-.3 3zm-1.7 5.3zm.6.3zm.3-1.7zm.2 1.4zm.2-.9zm.4.4zm.1-3.7zm0 .8zm.4.1zm.3-1zm0 3.1zm1-3.5zm.2.1zm.4-.4zm.8 2zm2.2.2zm2.4 1.2zm1.1-1zm.1 3.4zm0-1zm.2-.6zm1-3.9zm0 3.2zm.2.6zm0-.6zm.4-.4zm.1-1.2zm.1 2.4zm.3.8zm.2-.4zm.2-2.3zm.6 1.3zm1.3-3.1zm-2.7 8.3zm-.1-2.2zm-1.5.2zm-.7 1.7zm-.4.4zm-.1-2zm-.3-.9zm-.1 2.1zm-.2-1.5zm-.8 1.2zm-.1-1.9zm-.1 3zm0-.9zm0 3.6zm-.4-3.1zm-2.4 1.8zm-1.2.5zm-1.5-4.4zm-.5 4.3zm-1.2-4.5zm-.1 4zm-.4-3.9zm-.6 4.2zm-.1-.3zm-.5-.5zm-.3-3.5zm-.1 5.2zm0-1.9zm-.5 1.3zm-.3-4zm-1.4 4.9zm-1.5 4.6zm0-1.7zm.8 2.8zm.7-2.1zm.4 1.1zm.3-3.8zm.1 1.4zm.7-1zm.6 1.5zm.5-1.3zm0 1zm.5-2.2zm.1 1.7zm.4-1.3zm.3-.5zm.7.8zm1.1.4zm1.6 3.2zm.4-.4zm.5 0zm.1.4zm.2.1zm.1.9zm.2-2.7zm.8-1.4zm.1-1.2zm.7 3.2zm.4-2.9zm.7.4zm.5-.7zm0-.1zm.3.7zm1.4-.2zm-4.9 7zm0-1.1zm-.5 2.9zm-.8-.7zm-.1-.1zm-.7-.1zm-.3-.8zm-.9.9zm-.5 1.2zm-.1-2.7zm-.7 4.5zm-.2.4zm-.3-4.1zm-.5 3.1zm-.2-4.9zm-.4 3.2zm-.1.4zm-.3-2.3zm-.1.9zm-.3 2.7zm-.5-2.8zm-.3-1zm-.6 1.6zm-.8 1.3zm-.1.7zm-.4-3.6zm0-.5zm0 1.8zm-.3-1.9zm0-.4zm-.1 4zm-.5-1.9zm-.1 1.9zm-.2 1.7zm-.6-1.5zm-.1 1.3zm-.2-.8zm-1.3 3.6zm.2 2.5zm.2-1.4zm.2-2.3zm.2 3.5zm.7-.7zm0 .3zm1.1-4.2zm.6 1.8zm0-1zm.4 1.2zm.5 2.9zm0-1zm.2-1.8zm.1 3.1zm.1.3zm.8-1.1zm.4-1.1zm.2-2.4zm.4 2.6zm.3-.7zm.9-1.6zm.5.1zm.1 0zm.1-.4zm.7 1.4zm1-2.2zm-4.4 5.8zm-.2 1.6zm-.5-1zm-1.2 1.4zm-.2.9zm-.9 1zm0-2.8zm-.2 4.5zm-.2-5.5zm0 4.8zm-.1-2zm-.3-1.7zm-.2 3.9zm-.1-1.9zm-.1 1.2zm-.6-.4zm-.3-1.5zm-.7 2.3zm-.2-4.5zm-.1 4zm-.2-4zm-.3 2.6zm-.5 2.2zm-.8-1.5zm0 1.1zm0 1.1zm0-5.7zm-.4 4.8zm-1.1-1.2zm-2.4 6.8zm.1-3.7zm.3 1.7zm.4 1.5zm.7-1.6zm.4 1.5zm.2-.9zm.1-.8zm.4-.5zm.2-.5zm1.9-.6zm.2-.6zm.2 1.7zm.1 1.6zm0-3.2zm0 .8zm1.4-.2zm.5.5zm.2-.5zm-4.5 7.3zm-.1 3zm-.6.5zm0-1.4zm-.5-3.4zm-1.1-.7zm-3.8.5zm-4.2 6.9zm.2.4zm7.8-1zm-3.3 5.2zm-1.9 3.2z" stroke="#0048ff"/>
<path d="M1722.5 595.7zm-21 1.7zm-53.9 34.5zm59 10.7zm-11.9 4.1zm5.7 23.2zm-21.7-.1zm9.8 5.9zm34.2 7.8zm-31.7 15zm-7.5 4.3zm-35.8 5.5zm21.4 1.2zm36.3 9zm-3.3-.2zm-12.2 13.6zm-1.1 5.9zm1.4-5.8zm1.6.6zm.9 5.1zm.3-4.7zm-2.9 5.5zm-.5 2.5zm-3.1 0zm-3.7 6.9zm.3 1.8zm1.5-.9zm2.9-3.9zm-3.1 8.1zm-1.4 2.1zm-5.5 3.3zm.7.1zm.7.6zm.4 2.8zm2.6-5.6zm.9 2.3zm.5 5.2zm-2.6-1.7zm-1.8 4.5zm-.4-2.5zm0 3.7zm-.2-.9zm-.1-.4zm-.6-.1zm-.8-.4zm-.7.2zm-3.2 1.3zm-1.2 4.5zm.2-2.3zm1.2 1.2zm.2-1.7zm1.2 2.1zm2.8.8zm4.4-4.1zm-2.7 7.8zm-1.8-1.4zm-1.8 4.5zm-2-1.3zm-.4-1.3zm-2.8 1.7zm-.1.9zm-.1 0zm-.3-.1zm-1.3-1.8zm-.6.9zm-4.6 6.8zm.8-3.2zm.4 4.4zm2-.9zm.7-.3zm.2-1.2zm.6.3zm.4-3.2zm.8 1.2zm0-.1zm.8-1zm.2.4zm.1 2.8zm0 .6zm1-2.1zm.3 2zm1.7 1.2zm.6-3.4zm2.4 3.1zm-3.4 1.3zm-.1 0zm-1.5 2.4zm-1.8 1.3zm-1.1-2.5zm-.9 1.5zm-.4.1zm-.3 1.3zm-.3.1zm-.5-1.4zm-1.1-.4zm-.8-.5zm0 1.9zm-.4.3zm-.3-.2zm-.1-2.8zm-1.8 2.6zm-.4 1.5zm-1.4-1.1zm-2.7 5.5zm0-1zm.5 2.2zm.6-4.3zm.2 1.2zm0 .8zm.7 1.4zm1-3.6zm.6.9zm.1 1.5zm.1 1.1zm.9-3.4zm.5-.2zm1 1.6zm.2 1.1zm.4-1zm0 2.3zm.1-2.3zm.3-.6zm.1 1.9zm.3-.4zm0-.9zm.2-1.6zm0 3.2zm.2-3.7zm1.4 3.4zm.4-.2zm.1-3.6zm.2 2.5zm.1 1.9zm1.2-1.2zm.6-2.4zm1.6 2.5zm-3.4 4.5zm-2.2-1.8zm-.8 3zm-.3-.1zm-.1 1.3zm0-3zm-.3 1.4zm-.2-1.8zm-.9-.5zm-.2 3.1zm-.2-3.4zm-1.1 2.8zm-.6-2.3zm-.2.3zm0 2.6zm-.1-.3zm-.3.8zm-.8 1.1zm-.1-4zm-1.5 2.8zm-.3 1zm0-4.7zm-.2 4.2zm-.4-3.4zm-.3 1.1zm-.3-.4zm-.3 2.3zm-1-.5zm0 1.5zm-.1 1zm-1.2-3.7zm-.9 3.7zm-.7-.1zm-.5 4zm.2-2.8zm.1 1.2zm0 2.4zm.1-.7zm1 .7zm.1-3zm1.1-.7zm.3.4zm.6-.1zm.4.5zm.5.4zm.9-1.7zm.4.7zm.2 3.3zm.3-.5zm.6-1.6zm.4.3zm.6-1.5zm.2 2.4zm.1-1.6zm0-1.5zm.3 5.4zm.2-3.6zm.1 1zm0 1.8zm.1-.6zm.5-2.5zm.2-1.3zm0 1.8zm.8-1.1zm.3 2.4zm0-.3zm1.8 1.7zm-2.6 1.4zm-1.4 1.4zm-.4 2.5zm-.1-4.3zm-.1 4.1zm-.3 1.1zm-.2-.2zm-.2-3.3zm-.2 1.8zm-.6-.1zm-.3.9zm-.3-1.4zm-.6.3zm-.9 1.7zm0-.5zm-.5-1.7zm-.1-1.7zm-.4 0zm-.3 3.2zm0-4.2zm0 2.7zm-.5 2.1zm-.1-3.7zm-.7 4.6zm-.2-2.3zm-.2-.1zm-.1-1.9zm-1.6 1.2zm-.1.5zm-.3 1zm-.9-1.3zm-.2 1.6zm0 .8zm-.1-3.6zm-.2 1zm-1.1 2.8zm-4.7 5.6zm.4.3zm.5-4.2zm.9.8zm.7 2.3zm0 .6zm.2-3.6zm.9 4.5zm0-1.6zm.4-3.8zm.5 4.5zm.6-.4zm0-1.3zm.4-.8zm.1-1.4zm.2 3.9zm.5-2.2zm.9-1.3zm.2 1.6zm.2.3zm1.1-2.9zm0 2.1zm.2-1.4zm.3.9zm.1-.5zm.1 3.9zm0-2.8zm.1.3zm0-.2zm.8 1.9zm.1-3zm.2.7zm.5 0zm.2-1.9zm.5.9zm.7 3.3zm.3-3.9zm.3 0zm.2 3.4zm.6 1.1zm.3-5zm.4 2.3zm.1-.2zm-1.9 4.9zm-.9 1.6zm-.5-1.9zm0 2.7zm-.1-.7zm-.6-2.6zm-.1.4zm-.3 5zm-1.1-.1zm-.9-1.7zm-.2-1.4zm0 .5zm-.7-.1zm0-2.3zm-.1 1.5zm-.1 2.4zm-.2-.9zm-.2.4zm-.2-.3zm-.1 1.2zm-.5-.2zm0-.1zm-.2-1.8zm-1 1.7zm-.2.2zm-.5-2.1zm-1.1 1.7zm-.9.1zm-.4-2.5zm-.3 1.9zm-1.1-.9zm-.6-.6zm0 .4zm-.1 2.6zm-.2.2zm-2.9.4zm-2 3zm.9 1.6zm1.2-.7zm0-2.1zm1.4-1.6zm.1.8zm.1.2zm.1-.9zm.2 4.4zm.4-1.8zm0-2.3zm.7 3zm.7 1.5zm.2-4.8zm0 2.7zm.4 1.3zm.1-.1zm0-1.8zm1.2-.7zm.6 1.6zm.2 1.9zm.4-.7zm1-2.3zm.1-.6zm.4-.7zm.1 2zm.1 1.8zm.2.6zm.2-1zm0 .8zm.3-3.5zm.4 3.2zm.8-3.9zm.2 3.9zm.2-4.7zm.3 4.9zm0-3.4zm.4 1zm.4-.1zm.1.4zm.7 4.2zm-1.6.6zm-1.7 1.1zm-.9-.3zm-1-2.3zm-.3 4.2zm0-3.6zm-.3 4zm-.5-4zm-.1 4zm0 .2zm-.2-2.3zm-.8 1.2zm-.2.5zm-.2-1.1zm0 2.4zm-.1.2zm-1-5.2zm0 4.1zm-1.5-2.7zm-.1 3.9zm-.2-1.3zm-.1-2zm-.1 3zm-.1-3.4zm-.2-2.2zm0 .9zm-.3 2.2zm-.5-.4zm0 .4zm-.6-1.4zm-.6-1.3zm-.1 2zm-.1.6zm-.2-1.2zm-1.4 3.9zm-.1-3zm-.9-.8zm-.1 3.9zm-1.2-.1zm-1.9 5.4zm.2-3.6zm.4 4.2zm.5-3.8zm.2 2.2zm.1-2.4zm.5 2.4zm1-3.5zm.9 3.9zm0 .2zm.3-4.1zm.1 3.6zm.2-1.2zm.2 1.4zm0 1.1zm1.7-4.6zm.3 1zm.4 2.9zm0-4.6zm.1 4.1zm.1-2.3zm.1 3zm.9-.1zm.6.2zm.9-1.9zm.4-1.1zm.1 2.6zm1.6-4.7zm.1 1.4zm0 .9zm.1-1zm.4 1.9zm.2-.8zm.3.3zm0-1.9zm1.4 5.5zm-.5 1.3zm-1.1.2zm-.2-.7zm-.7-.5zm-.1 1.2zm-.2-1.6zm-.5 4.9zm-.1-2.7zm0 1.1zm-.2.2zm-.6.5zm0-1.2zm0-1.8zm-.3 1.4zm-.2.5zm0 .5zm-.7.1zm-.5-2.2zm-.1 4.4zm-.4-.3zm-1.2-4.9zm-1.8.3zm-.1-.5zm-.5-.2zm0 5.3zm-.7-4.1zm-.6 2.5zm-.2.8zm-.1-3.1zm-.1 1.1zm-2.2 0zm-.2-1.1zm-.2-.4zm-.2 0zm-.1 3.9zm-.1.6zm0-5.7zm-.3 3.6zm-.4-1.2zm-.4.9zm-2.7 6zm.3 1.5zm.2-2.5zm.2.9zm.2-1.2zm.7-.1zm.4.1zm0-.6zm.1.3zm.1 2.1zm.1-1.3zm.3.1zm.3 2.3zm.1-.3zm.8-3.3zm.1 3.8zm.4-1.2zm.1-3.1zm.3 2.6zm.2.6zm0-2.1zm1.6 1.9zm1.8-3.6zm.7 2.2zm2.5-.2zm.1 1zm.3-1.5zm.2 1.9zm.1-1.1zm1.3-1.8zm.6-.5zm.3 2.9zm.1-1.8zm.2 3.6zm1.3-4.4zm-3.2 5.6zm-.8.6zm-.7 1.6zm0 1.1zm0 2.1zm-.1-3zm-.2-2.2zm0 .9zm-.5 3.9zm-.5-1.5zm-.4-2.3zm-1.7 3.4zm-.5-1.3zm0-2.7zm-.2 4.3zm-.4-.5zm-.4.3zm-.3 1zm-.8-.6zm-1.5-4.1zm0 4.7zm-.5-1.2zm-.4-.4zm-.7-3.2zm-.4-.1zm-.6.5zm-.9 3.5zm0-3.1zm0 1.2zm-1.2-1.6zm-.1 4zm-.2-1zm-.3-2.5zm-.5.2zm-2.7 9.6zm.5-3.4zm.4 1.3zm2.2-2.7zm.1 4.6zm.2-1.8zm.2-2zm.2.9zm.6 3zm0-2.9zm.3 2.7zm.2-3.3zm0 .2zm.1 1.5zm.4.9zm1.2-3.6zm0 .4zm1.7 3.6zm.1-1.8zm.8-3zm.6 5.5zm0-3.9zm.3 2.1zm.4-3.3zm1.9.9zm.1 2.1zm.2-2.9zm.1 3.8zm.7-1.8zm.2-2.3zm1.7-.1zm-3.2 5.9zm-2.4 1.7zm-.2 2.4zm-.6-4.5zm-.8 5.4zm-.3-4.1zm-.9.7zm-1.4 1.8zm-.1-.5zm-.6 1.1zm-1.3-4.2zm-.5 2.3zm-.1-1.3zm-.1 1.8zm-.3-2.7zm-.5-.2zm-1.1 5.7zm-.6-2.3zm0 0zm-.5 2zm-.7-1.3zm-.5-2.1zm-1.3 2.5zm-.1 4.9zm.9-.6zm.3-2.6zm0 2.5zm.4 1.6zm0-1.5zm.7-.3zm.2-2.5zm.1 2.4zm.1-1.2zm.6 3zm0 .6zm.1-1.1zm.8-.8zm.7.6zm.1-.7zm.1 2.5zm.3-2zm0-3.2zm.1 1.7zm.4.8zm.2 2.9zm.3-.5zm.3-.2zm1.2-.2zm.1.2zm.1-1.3zm.6.7zm.4 1.2zm.2-4.1zm.4-1.4zm0 1zm.2 1.3zm.6.3zm1.1-2.6zm-4.7 7.6zm-.2-.4zm-1.2 1.5zm-.1-2.7zm-.2 4.8zm0-3.2zm0 .1zm-.3.8zm-.2-.2zm-.4 1zm-.1-2.2zm-.2 1.6zm0 2.5zm-.3-1.3zm-.4-2.6zm-.1 2.6zm-.2-2.9zm0 4.5zm-.3-1.7zm-.3-3.1zm-.1.4zm-.1.2zm-.1 1.7zm-.4-.9zm0 3.1zm-.6-2.7zm-.8 3.4zm-.1-1.4zm-.2-1.2zm-.1 2.1zm-.3-2zm-.6.3zm-.4-1.9zm-1 2.2zm-.1 1.9zm-1.9 3.8zm.3 2.1zm.2-2.7zm.3-2.3zm.2.7zm0 .7zm.3-1.1zm.3.3zm.1 2.9zm.2-.3zm.3-3.2zm0 3.2zm.3-2.2zm.2 2zm.6-1.9zm0 2.9zm.3.4zm0-2.2zm.1-1.6zm.1.6zm.3.7zm0 0zm.4-1zm.1 2.4zm.1-.1zm0-3.7zm.3 1.6zm0 1.5zm.3-2.2zm.3 1.5zm0-2.5zm.7 1.3zm.2-1zm-1.4 6.4zm-1.6.3zm-.2.2zm-.2.2zm-.2-1.2zm-.4-.2zm-.4 2.4zm0 0zm-.3 1.8zm-.4-.9zm-.3-.2zm-.2-1.3zm0-1.9zm-.1 5.8zm-.1-5.9zm-.2 1.5zm-.5.9zm-.7 3.1zm-.2-2.8zm-.1 2.7zm-.2-.1zm-.7-2.8zm-.1 1.2zm-.2.5zm-.1-.7zm-.6 1.7zm-.2-.6zm-.4 1.2zm-3.1 6.1zm1.3-1zm.3.7zm0-1.7zm.2-1.7zm.3 3zm.1-2.4zm.1-1.2zm.8 0zm.1-.7zm.1 1.5zm0-2.3zm0 5zm.2-3.1zm1.1 2.2zm0-3.9zm.3 1.3zm.3-1.1zm.1 1zm.2 1.2zm.1-2.7zm.2 1zm.2.5zm.6 2.1zm1.4-2.4zm-2.8 6.6zm-.7-1.5zm-.3 1.4zm-1-1.4zm-.8 3.4zm-.7-3.4zm-1 2.3zm-.4-2.3zm-1.3 1.8zm-.9-1.7zm-1.6 3.8zm-5.3 6.1zm7.4.8zm3.5-5z" stroke="#00a8ff"/>
<path d="M1693.1 675.2zm-22.7 21.9zm16.5 3zm-22.8 13zm27.2 19.3zm.9 4.8zm1.4-4zm-5.6 5.4zm-3.8 5zm2.5 9.8zm-2.6 1.8zm1.7 2.9zm8 1.4zm-12.9 3.4zm-2.5 3zm-.6.8zm-1.5-.6zm-.1.4zm-1.8.8zm-2.6 6.1zm2.6-1.3zm.3-1.2zm2.1-.3zm3.1-2.6zm-4.5 8.8zm-1.4 1.2zm-3 .3zm-.3-.6zm-.5-3.3zm-2 1.1zm-2.4 9.6zm2-.4zm2.3-3.2zm1 1.1zm.5-1.9zm2-.1zm-3 7.7zm-.2 2.4zm-.2-2.5zm-.1 2.1zm-.1-1zm-.2-2.1zm0 4.4zm-.2-3.4zm-.4 3zm-.6-2.6zm-1.4.9zm-.2-.5zm-.2-2.8zm-.1.3zm-.5 1.1zm-.4-1.4zm-.9 5zm-2.6-.2zm-5.9 6.1zm2.2.5zm.1-2zm.3-1.8zm1 1.8zm.9 1.3zm.1-.8zm.1 1zm.2-4.7zm.4 1.6zm.4-1zm.1 1.2zm.1 3.3zm0-3.4zm.2-1.2zm.2 3.1zm.3-1.2zm.3 1.9zm.1-4.7zm.3 2.5zm.5 1.7zm.6-1.3zm1.2 1.5zm.4-.1zm.3-3.5zm1.9 1.2zm.2-.3zm-4 5.2zm-.4-.7zm-.2.6zm-.1 3.6zm-1.5-.8zm-1.2-1.4zm-.1 2.4zm0-4.2zm-.5.3zm0 3.1zm-.6.7zm0-.9zm-.3 1.6zm-.1-4.9zm-.7-.1zm-.2 2.7zm-.4-2.6zm-.1 5zm-1.8-3.7zm0 2.7zm-.5-.2zm-.7.8zm-.1-.7zm-3.4 3.3zm.6 4.1zm.8-.2zm.4.2zm.4-4zm.1 2.4zm.1-3.9zm.3 3.7zm.1.3zm.1.4zm.4-4.2zm.4 1.9zm.1-.9zm.1.5zm.2-1.4zm.1 3.6zm0-1.8zm.5-1.9zm0 0zm.1 5.5zm.1-.3zm.2-.5zm.3-4.2zm.3 1.8zm.1 3.2zm.4-3.6zm.1 3.5zm.4-1.1zm0-2.9zm.1.2zm.5 2zm.4-1.4zm.8-1.4zm.3 1zm.2 1.1zm.7 2.3zm1.7-2.9zm.1.9zm-3.1 4.8zm-.4-1.5zm-1.5 5zm-.2-5.4zm-.3 1.5zm0-.2zm-.2 2.4zm-.1 1.5zm-.1-3.1zm-.1-.5zm-.3 1zm-.1 1.3zm-.1 0zm-.3 1.4zm-.6-5.7zm-.1.1zm-.4 4.2zm-.1-2.3zm-.1-.7zm-.2 4.4zm-.3-5.6zm0 4.1zm-.5 1.7zm-.2-5.6zm-.3.5zm-.6 4zm-.4-4.1zm-.4 1.4zm-.6-1.4zm0 3.2zm-.2.9zm0 1.1zm0-3.8zm-.1.1zm-.2 1.6zm0 .8zm-.2-4.1zm-.1 1zm-.6 4.4zm-.1-2.2zm-.1-1.1zm-.1 3zm-6.5 3.9zm.2 1.5zm1.7.7zm.5-1.5zm.2 1.6zm0-2.9zm1.1-.2zm.1.7zm.1 2.1zm0-.3zm.5-1.9zm.4-3zm.2 2.8zm1.2-.8zm.4 1.6zm.1 1.5zm.3-4.3zm.1 2.6zm.1-3.4zm.6 2.7zm.2.6zm0-.6zm.2 2.2zm.1.2zm.8-2.8zm.4-1.7zm1.2-.1zm.7.6zm1.3-.7zm.6 4.5zm1.5-2.7zm.6.3zm-4.8 6.4zm-.1-3.2zm-.2 4.5zm-1.2-3.2zm-.5 4.6zm-.4-1.4zm-.4-4.3zm-.1 4.7zm-.4-1.4zm-.3-.5zm-.1 2.1zm0-1.3zm0 2zm-.5.1zm-.2-1.1zm-1.2.1zm-.4.3zm-.4-5zm-.6 1zm-.1.4zm-.2 2.8zm-.2-1zm-1-1.8zm0 1.9zm-.1 1.2zm0-4.6zm-.3 4.5zm-.5-3.7zm-.8 3.4zm-.5-1zm-.2 2.5zm-.3-.1zm-.7-.3zm-3.4 4.5zm.4.7zm.4.3zm.5-3.6zm.1 1zm.7.9zm.5 2.2zm.3-3.9zm.1 1.6zm.1-2.7zm.1 3.9zm.1.7zm0-4.6zm.7 4.2zm.2-2.1zm.1 2.4zm.4-4.2zm.3 2.2zm.3-2.7zm.5 1.3zm.3 2.3zm.3-3.2zm.1 2.4zm.1 1.6zm.3-.6zm1.3-2.3zm0 3.5zm.3-3.7zm0-.2zm.3-1.3zm.1 3.1zm.5-3zm0 5.2zm.1-1.9zm.1 1.7zm.1-1.2zm.3.6zm2.3-4.5zm.7 1.9zm1.4 1.5zm.9-2.5zm-1.3 5.9zm-1-.2zm-2.7 2.1zm0-.6zm-.6 2.6zm-.1-4zm-.1 2.1zm-.1-.3zm-.8-.1zm-.9.2zm-.1 3.2zm0-1.3zm-.1-1.9zm-.3-.3zm-.2-.3zm-.1.1zm-.1-.9zm-.1.9zm0 2.3zm-.2-3.4zm-.7 2.4zm-.1-.1zm-.3 1.8zm0 .2zm-.6-.8zm-.3 0zm-.4-2.8zm-.4 4.1zm-.1-2.2zm-.1-1.2zm-.1-2.2zm-.5 3.9zm-.9 1.5zm-.6.1zm-.1-1.4zm-.5.7zm-.1-4.5zm0 3.4zm-.2-.4zm0 1.9zm-.1.2zm-.4-1.3zm-1-2.5zm-.1 2.2zm-.8.2zm0 .3zm-.2-1.6zm-.5 2.9zm-.6-4zm-1.4 9.1zm.8-1zm0-3.4zm.6.8zm.4-.4zm.1 1.9zm.2.4zm.9 1.8zm.8-3.3zm.3-.5zm0-.8zm.3.7zm0-.2zm1.4 2.6zm.3-1zm.1 1zm.2-1.2zm.2-1.6zm1.2 1.3zm.2-.3zm.4 0zm.2-1.1zm.1 1.5zm0 1.9zm.4-3.6zm.2 4.6zm0-1.7zm1 .8zm.3-4.1zm.3 4.6zm.1-4.6zm1.3 4.7zm.1-.1zm0-4.1zm.3 0zm-.8 7.4zm-.5-.4zm-1.3.9zm-.2-.7zm-.2 2.4zm-.3-2.6zm-.6 4.2zm-.2-2.4zm-.1-1.5zm-.3-.2zm-.3 1.9zm-.4.1zm-.4-3.3zm-.8 4.8zm-.2-3.3zm-.5 1.8zm-.1.4zm-.6-.1zm-.5-.1zm-.2-2.2zm-.7-.6zm-.6 3.7zm-.6.2zm-1.2.7zm-.5-3.5zm-.1-.3zm-.6 2zm-.3.9zm-.6-2.2zm-.4-1zm-.5 2.9zm-2.5 5.4zm1.4-3.8zm1.1 3.9zm.1 2zm.3-2.1zm.1-2.5zm1-.6zm.3 4.4zm.2-4.8zm.1 2.4zm0-.6zm1.1 2.8zm1 .9zm.3-1.7zm1-3.4zm0 2.1zm0 2.1zm.6-4zm.4 3.9zm.5-1.3zm0-1zm.1-.3zm.3-1zm.7 4.3zm.2-3.3zm.2-.9zm0-.8zm.3 3.2zm3.1-3.6zm-4 7.7zm0 1.2zm-1.2-2.9zm0 2.4zm-1.1.7zm0 .4zm-.1 2.1zm-1.9-2.4zm-.1-3.3zm-1.1 4.1zm-.8-3.8zm-.2 4.6zm-.6-4.3zm-1.4 4.1zm-.5-2.7zm-.9-1.5zm-1.2 3.8zm-.2 1.3zm-.4-.5zm-.3.4zm-3 5.1zm1-.4zm0 .4zm.1 1zm0-.8zm.9-.2zm.2-1.3zm.5-2.5zm.4-.1zm1.2 2.3zm.3.1zm.2-2.3zm.1-.5zm.5 3.6zm.7-2.8zm.1 1.2zm.3 3zm.5-1zm.8-.9zm.3-3.4zm0 .8zm.2.5zm.1 3.1zm.8-2.5zm0 3zm.1.2zm0-2zm.3-.8zm.1 1.8zm.1-2.1zm0-.4zm.7 2.9zm.1-3.6zm.2.2zm.2-.4zm.2 2.7zm.3-1.1zm.4-.6zm.1-1zm.1 1.1zm-2.3 4.2zm-2.3 1.9zm-.6.7zm-.1-.5zm0 2.1zm-.2-1.5zm-.4 1.8zm-.1.4zm-.1-1zm-.1-3.6zm-1.1 1.5zm-.3-1.5zm0 3zm-.9-1.6zm0 1.7zm-.9.5zm-.2 1.5zm-.4-2.8zm-.2.4zm-.2-1zm-.1 1.2zm0-2.3zm-.4 2.2zm-.4-.9zm-1-.1zm-.1 3.3zm-.4-3zm0 1.8zm-.4-.1zm-4 7.2zm.9.1zm.4-1.2zm1.6.3zm.3.3zm.4-1.8zm0 .5zm.4 2.3zm.2-1.3zm.5-1.2zm.5 2.3zm.6-4zm.1 3.4zm.1 0zm.2-2zm.5.7zm0-1.8zm.1-1.3zm2.3 3zm.2-.7zm0-2.6zm.1.1zm.4.5zm.7 2.6zm2.2-2zm-5 5.1zm-.2-.5zm-.7 2.5zm-.3-1.4zm-.5 1.9zm-.3-.3zm-1.2-1.1zm-.8.8zm-.4-1.3zm-.1 1.4zm-.4 1.4zm0 .6zm-.2.7zm0-.7zm-.1-.1zm-.1.8zm0-4.4zm-.4 2.9zm-.2-1.4zm-.4-.7zm-.2 2.2zm-.1 1.7zm-.2-2.7zm-.2 2.9zm-.5-2.3zm-.1-.9zm-1.1 2.8zm-1.8 5.9zm.8-1.5zm.2-.3zm.1-2.1zm.7 1.9zm.5-.9zm.1 2.4zm0-.7zm.2-.9zm.5-.7zm.7-2.2zm.1 5.6zm.4-5.2zm0 .4zm1-1zm0 2.7zm.1-1.7zm.7.5zm.3.5zm.9-1.2zm.7 1.1zm-4.5 4.4zm0 .1zm-.6 2.1zm-.6-.1zm-.8-.5zm-.4-1.7zm-.3.1zm0 1.5zm-.2 3.5zm-.2-.7zm-.1-1.5zm-.1-2zm0-.3zm-.1 2.7zm-.1 0zm-.1.4zm-.2.5zm-.3.5zm0-2.6zm-.1 0zm-.1 2.4zm-.7-2.1zm-.2-.5zm-.2 2.3zm0-.9zm-.4 1.7zm-.3-.9zm0 1.2zm-.9.2zm-3 4.6zm.2-1.1zm.5.1zm.5.3zm.4-1.8zm.2 2zm.2-1.7zm.4 3.1zm.1-3zm.1 1.8zm.1-2.9zm.2 3.8zm.1-.7zm.1-1.7zm0-.1zm.2.1zm.1-2zm.2 2.9zm.1-2.8zm0 4zm0-2.9zm.2 1.3zm.1-1.5zm.6-1.4zm.5 2.8zm.7-2.5zm.2 2.7zm-2.5 4.7zm-.5.6zm-.6-2.4zm-2.1 2.9zm-1.3-2.3zm-.1.9zm-1.9-.3zm-1.6 2.9zm-.1-.8zm-3.4 7.6zm4.7.9zm2.7-4.1zm-7.8 6.2z" stroke="#00f0f0"/>
<path d="M1670.7 682.6zm-9.5 9.1zm5.3 32zm12.2 31.6zm2.1 5.6zm-5.5 18.8zm-1.5-1.5zm-1.6-1zm-.4-2.1zm-1.4 4.1zm-1.8-.4zm-3.4 3.7zm4.8 3.2zm1.8-.5zm-1 4.8zm-1.9-.3zm-.8 1.3zm-1.5-1zm-.8-2.7zm0 2.2zm-1.3.7zm-.2.9zm-2 2.5zm1.8-1.5zm.2 1.1zm.1 2.3zm.9.6zm0 .7zm1 .2zm.3-3.8zm-3.2 7zm-1.5-.8zm-.4-1.1zm-.1 3.1zm-.4-.5zm-.1 0zm-.6 2.6zm-1.7-.9zm0-2.5zm-1.2 1.4zm-.3 1.9zm-1.4-1.6zm-1.8 7.4zm0-1.3zm1.1-1.6zm.8 2zm.1-1.5zm.3-.9zm.1-1.2zm.2 4zm1.8-1.3zm.1-1zm.3-1.6zm0 2.6zm.1-.8zm1.2 0zm1.9-2.1zm.3-.1zm.7 1.5zm1.6-.4zm-6.9 9.3zm0-1.5zm-1.3-2zm-.6 1.5zm-1.1 1.8zm-.3-3.3zm-.1 3.6zm-.2-4.8zm-1.3 3.9zm-1.1-3.9zm-.2 2.1zm-.3 1.8zm-.7-.1zm-6.5 7.6zm1-1.4zm.7 1.2zm1-.8zm.6-1.3zm.9 1.5zm1.3-.3zm.5.6zm.1-3.5zm1.2 1.4zm.1 1zm.2-.7zm.1.1zm.2-1.6zm.1.3zm.3 3.6zm.3 0zm.3.1zm.1-4.6zm.3-1.1zm.2 4.3zm0 1.2zm1.5-2.4zm.6.7zm0-2.9zm.2.2zm.9.6zm-3.5 5.4zm-1.9 0zm0 .4zm-.2 1.2zm-.6 1zm-1.2 1.8zm-.6.3zm-.1-.7zm-.2-3.3zm-.2 2zm-.1-2.7zm0 3.2zm-.5-3zm-.1 2.9zm-.2-2.7zm-1.6 3.1zm-.3-1.2zm-.5 1.5zm-4.9 5.9zm.6-3.6zm.3 2.2zm1.3-3.3zm0 3.1zm.7 2.2zm.2.5zm.2-4.2zm.2-1.3zm.2 3.7zm0-1.1zm.5-1.6zm1.2 4.3zm.1-5.5zm.1 2.5zm.5 2.7zm.2-4.5zm.1 4.5zm.1-.5zm.3-3.5zm1.6 1.6zm.3 1.6zm.3-3.9zm0 4zm.3-1.3zm.2 0zm.1-1.5zm.2 1.8zm.6 1.4zm.1 0zm1-1.3zm-1.7 2.7zm-.3 4.8zm-.1-1.5zm-.4-1.6zm-.7-1.5zm-.1.2zm-.3 2.8zm-.3-2zm-.4 2zm-.6-2.8zm-.2 2.6zm-.4 1.2zm-.3-.5zm-.3-2.3zm-.2 2.8zm-.6-2.8zm-.1 1.7zm-.3-3.4zm-.2 3zm-.6-.7zm-.3 2.3zm0-1.9zm-.2.9zm0 .2zm-.2-2.7zm-.3 2.6zm0-2.5zm-.2 1.7zm-.8-2.4zm0 1.7zm0 2.5zm-.4-3.8zm-.4 4.1zm-.3-1.1zm-.3.4zm-.5-4zm-.1-.5zm-.1 3.2zm-.3 1.5zm-.1-3.8zm-1.2 4.6zm-.1-4.5zm0 2.9zm-.6 1.7zm-2.2 4.8zm.7-1.2zm.4 2.1zm1.1-2.1zm0-1.7zm.4 2.8zm.3-3.7zm.3 2.4zm.1-2.6zm.1 3.7zm.3-4zm.2 2.1zm.2-2zm.2 1.8zm.1 2.3zm.1-2.9zm.6 1.7zm.1 2.5zm.2-.6zm.1 0zm.1-.1zm0-.2zm0-2.5zm.1-.5zm.2.7zm.1-.4zm.2-2zm.5 5.4zm.2-3.5zm.6-1zm0 1.1zm.2 2.3zm.1 1.3zm.8-5zm.4-.1zm.2 2.5zm.3-3zm.9 5zm.7-2.2zm.1-.1zm.2-2.5zm.9 0zm-2 6.3zm-.3 2.4zm-1.2-2.4zm-1 .9zm-.4.5zm-.1 0zm-.8 3.8zm0-1.4zm-.1.2zm-.1.9zm-.4-1.2zm-.2-2.1zm-.1-.9zm-.3 1.2zm-.6-.3zm-.1 1.1zm-1.3 1.4zm0-4.4zm-.2 4.9zm-.4 0zm-1-4zm-.1 3.6zm-.2-2.5zm-.1.9zm-.4-1.4zm-.3-1.7zm-.3 2.1zm-2.9 2.9zm-.4-.8zm-.1.6zm-3.8 6.3zm2.1-3.8zm.6 1.6zm.4 1.3zm1.5-.9zm.4-2.9zm.2 5zm.6-1zm0-1.6zm.1-.7zm.1-2.1zm.5 1.4zm.1-.2zm.7-.7zm.3 3.3zm0 .2zm.2-2.4zm.8 4.3zm.1-4.9zm1.2 4.8zm.6-4.4zm.2 1.2zm.1 1.4zm.1-2.4zm0 3.4zm.1-1.8zm.1 2.4zm.1.1zm.3-.6zm1.5-2zm.1-.5zm.2 0zm.3.1zm-.5 5.6zm-2 2.2zm-1-2.8zm-.3-1.5zm-.6 1.1zm-.9-.8zm0 3.6zm-.2-2.9zm-.9-1.1zm-.6.3zm0 .5zm0 1.2zm-1 3.7zm0-2.5zm-.1.3zm0-1.2zm-.3-1.4zm0 4.9zm-.2-3.3zm-.3-1.1zm-1.1.7zm-.1 1.2zm-.3-1.5zm0 .4zm-.5-1.9zm-.4 1.7zm-.9-1.3zm-.3 4.3zm0-4.6zm-.2 3.5zm0 .4zm-.1 1.4zm-.3-3.5zm-.3 3zm-1.7 4.5zm1.1 1.4zm1.7.5zm0 0zm.1-.3zm.4-2.2zm.2.8zm.4 1.6zm.1-2.7zm.2 1zm.3-.2zm1.9-3.3zm0 1zm.2 4.5zm.1-1.4zm0-.7zm0 .9zm.3-.4zm0-1.1zm.2-1zm.2 1.9zm.5-2zm.1-1zm1.7 1.9zm-4.3 3.7zm-.1 1zm-.8 2.3zm-.3-2.8zm-.1.7zm0 2.5zm-.7-2.6zm-.2.9zm-.2-.1zm0-1.6zm-.3 1.5zm0 2.2zm-.6-2.4zm-.3 1.9zm0 1.3zm0-2.5zm-.2-.4zm-.1-.6zm-.9 3zm-.2-4.5zm-.6-.5zm-.6 3.7zm-.3 1.1zm-.1-3zm-.8 8zm.1 0zm.2-2.7zm1.2 1.6zm.1-1.5zm.5 4.1zm0-.9zm.2-2.5zm1-1.4zm.1.6zm.8 3.6zm1.9-4.6zm.3 1.8zm-2.9 4.3zm-1.2 2.4zm-.1-.7zm-.9-.7zm0 1zm-.4-.8zm-.5 3.2zm-.3-1.3zm-.5-.4zm-1.2-.7zm0-.7zm0-.6zm-.2.5zm-.9 4.5zm-.3-1zm-.1.5zm-2.4-.2zm0 4.4zm1.1 1.6zm1-3.2zm.4-1.7zm.2 2.5zm.6-2.1zm.1 4.5zm2-5zm-4.7 5.9zm-1.7 5.5zm-2 .2zm-1.2-.2zm-.2-1.3zm-2.1 4.1zm.4 2.9zm.2.3zm.1-5.4zm.5 3.9zm0-.3zm.1-.1zm0-.9zm1.2-2.2zm.1 3.5zm.3-3.1zm1-.1zm.6.4zm-3.7 7.9zm-.4-1.9zm-.2 1.2zm0-2.4zm-.6 1.6zm-.1-.4zm-.4.2zm-.7-1.4zm-.3 1.5zm-.3-1.4zm-.2 3.7zm-.9-1.6zm-.2 3.6zm-.3-3.7zm-.5 3.3zm-4.7 4.8zm.1-.2zm1.8 1.5zm3.3-4.5zm3.5-1zm-6.6 6.9zm-1.1 2.2zm-.1-.1zm-.8-.4zm-.7-.5zm-.6-.4zm-.2-.1zm-.2-.1z" stroke="#00f080"/>
<path d="M1700.1 708zm-20.6 47.7zm-3 9.4zm-4.3 7.3zm1.3-.8zm-6.1 12.9zm2 .8zm.6-2.5zm1.7 0zm-5.9 4.2zm-5.7 6.9zm1.6-.4zm2-1.3zm.4.7zm3.5 2.8zm-6.3 7.3zm-2-.3zm-2.8 1zm-1.2-1.9zm-2.4 7.9zm1.7-1zm.2-2.4zm2.2 3.6zm.1-4.9zm.7.9zm0 1.1zm.5-2.4zm.4 4.2zm1.4-.4zm0-2.8zm1.1 1.8zm-4.6 7.2zm-.7 1.3zm-1-5.9zm-.1.3zm-.5.6zm-.3 3.3zm-.9-3.9zm-.8 5.5zm-.2-3.2zm-.3 1.9zm-.6.7zm-.6-2.4zm-1.3-2.1zm-.9 9.9zm.2.9zm1.4-2zm.3 2zm.3-.5zm.3-1.7zm0 .8zm1.7-1.1zm.1-.4zm.2-.3zm.3 2.4zm.1-4.7zm.5 2.9zm1.9-1.6zm.2.9zm-3.1 8.8zm-1.9-1.7zm-.3-2zm-.3-.4zm-.2-.8zm-.1.2zm0-.3zm-.1 5.1zm-.3-.8zm-.1.6zm-.6-1.6zm-.6-3.3zm-.6.9zm-1.2 1.3zm0-1.8zm-.7 5.4zm-.2-5zm-.5.5zm-.2 3.2zm-.3-.6zm-3.1 0zm-.2 5.5zm1-1.5zm.9 1.3zm.2.1zm.2 1.7zm.4-3.7zm1.1 4.2zm.1.4zm.2-.2zm.4-2.2zm.5-3zm.1.7zm.1 4zm.1-1.4zm.4-3.6zm1.7.5zm.6 4.3zm.1-4.9zm.4 3.5zm.1-1.7zm.4 1.5zm1.6-.2zm-3 3.8zm-.3.7zm-1.5-1zm-.6 1zm-.6 2.7zm-.9-1.7zm-.7 1.6zm-.1-2.8zm-.7 4zm-.1-5.1zm0 4.2zm-.4 1.1zm-.1-1.8zm0 1.4zm-.1-.4zm0-2.3zm-.1-1.1zm-.2 1.9zm-.4-.7zm0 1.9zm-.4 1.3zm-.4-.2zm-.3-4.4zm0 2.5zm-.5-.7zm-.3 1.3zm-.5 1.4zm-3.9 4.2zm.1-2.6zm.1 2zm1.1 1.7zm.5-2.2zm.2 1.1zm.4-4zm.3 2.7zm.2 2.1zm0-4zm.5 4.1zm.6-3.5zm0 1.5zm.9-1.3zm.7 2.2zm.2 0zm.1-1.2zm.5-1.3zm.1-.2zm.2 3.9zm.3-4.6zm.4.5zm.5 2.6zm.5-1.2zm.8-1.7zm.2 3.4zm-2.8 3.6zm-.4-.2zm0 1.5zm-1.5 1zm-.3 1.8zm0-3.2zm-.2 2.7zm-.6.6zm-.1-2.9zm-.3 2.1zm0-.4zm-.2-2.5zm-.1-.4zm-.3-.2zm0 1.5zm-.4-.8zm-.1 1zm-.2 1.4zm-.8-2.7zm-.1.1zm-.5-1.1zm-.5.2zm-.4 3.7zm-.3 1zm-.3-2.1zm-1.1 1.8zm-.3-1zm-.3-.5zm-3.5 7.9zm1-.2zm.4 0zm.2-5.1zm1.6 3.7zm.3-3.1zm0-.9zm1 2.2zm.3.4zm.3-1.6zm.6.2zm.8 2.9zm0-3zm.3 3.8zm.2-.1zm1.6-2.5zm.3.8zm.1 1.9zm.2-2.8zm0 2.3zm0-.6zm0-3.9zm1 3.9zm.7-1.6zm.6.8zm1.8-3.3zm-3.8 7.2zm-2.3 2.1zm-.8-2.5zm-.2 3.3zm-.4-4.2zm-.3 1.6zm-.2-.4zm-1-.7zm-.1 1.9zm-.6-.4zm-.1 1.2zm-1-3zm-.8 3.7zm-.3-3zm-.2 3.6zm-.3-2.1zm-.2 3.5zm-.4-.7zm-.5-4.4zm-.2 4.8zm-.5-1.5zm-.9-.6zm-.6 6.9zm.5-2.6zm1.3.4zm1 3zm0 .4zm0-4.5zm0 .9zm.6 3.4zm1-4.7zm.7 4.2zm.2-2.8zm0-.1zm0-.1zm1.5 1.8zm.1-.5zm0-.6zm.6 2zm.4-2.1zm.2-1.8zm.3 2.3zm1.1-2.6zm-2.9 6.3zm-.6-.5zm-.3 1.1zm-2.4 3.3zm-.5-2.6zm-.1-1.3zm-1.1 3.9zm-.4-2.1zm-.1 1.2zm-.1-1.2zm-.1-.8zm-.2-.2zm-.4.9zm-.1 2.3zm-.8-4zm-.2 3.2zm-.3-3.1zm-.2 3.7zm-.1 1.1zm-.6-1.1zm-1.4 2.4zm1.4-.7zm1.3.9zm.6-.7zm.3.3zm.1-.3zm.1 3.5zm.6-2.9zm1.1.2zm.9 3.3zm.5-3.6zm-4.8 5.6zm-.6 0zm-.5 1.5zm-.2.6zm0-.7zm-.2 1.9zm-.4.7zm-.2-.3zm-.2-1.4zm-.1 2.7zm-1.1-.4zm-.6 0zm-.7-1.7zm-1.5 8.4zm1-5.1zm2.9.7zm1.2.1zm-6.5 8.5zm-1.1-2.4zm-.4 1.6zm-1.8 2.7zm-.7-1.7zm-4.7 7.3zm.9.2zm.1-1.1zm2.2.9zm.2-1.9zm.9-.4zm.1 1.2zm.3-2.3zm0-1.6zm.5.7zm.3.7zm.8-.9zm-2.8 5.3zm-.6-.2zm-.9.9zm-.1.6zm-.5 1zm0 .5zm-.4-2.7zm0 3.4zm-.2 2.1zm-.2-1.9zm-.1-2zm-.5 1.1zm-.1 1.7zm-.2-2.6zm-.9 1.1zm-.1 2.2zm-2.3 4.2zm.7-1.8zm0 .1zm1 1.8zm.1-2.9zm.6-.2zm.5 0zm-2.5 6.6zm-2.6 1.5zm-.5-.3zm-1.7-1zm0 0z" stroke="#00e000"/>
<path d="M1659.4 649.3zm78.2 2.4zm-58.6 115.1zm-6.1 9.1zm-4.9 9.2zm.6 1.9zm-2.1 3.5zm-1-1.9zm-3.6 7.3zm1.5-2zm-.9 6.4zm-2.7-1.5zm-.4.5zm-.5.9zm-1.2 2.5zm-1.7-3zm-4 10.2zm.9-1.5zm1.1.5zm.5-3.3zm.3 1.1zm1.3 1zm1.1-2zm2.9-.5zm-.7 4.9zm-3 1.2zm-.3 1.4zm-.3-1.8zm-.3 3.4zm-2 1.1zm-1-4.3zm-1.8 4zm-3.3 2.1zm.2 4.5zm2-.1zm.6-1.6zm1.7-2.1zm.3 2.3zm.5-2.6zm.6-.4zm-1 6.9zm-1.5.7zm-1.6.9zm-.5-2.3zm-.7 4.3zm-1.8-3.5zm-.4-1.6zm-.8 1.5zm-1-.1zm-4.7 7.4zm.4.8zm1.7 1.7zm.6-.4zm1.9-1.1zm0-3.2zm.5 4.7zm1.1-1.2zm.3-4zm0 1.1zm.1-.1zm.1 1.7zm.2-.3zm0 .9zm1.2-.9zm.1-2.7zm.7 4zm.1-2zm1.6-2.1zm-2.6 6.4zm-.4.1zm-.3 3.4zm-.9-4.1zm-.5 1.4zm-.3 4.2zm-.2-1.9zm-.5.3zm-.1-3.8zm-.1 4.3zm-.1-1zm0 .1zm-.2-.6zm-.1-2.1zm0 3.9zm-.2-4.9zm-.1 4zm-.4 1.8zm0-5.3zm-.3 4.7zm-.1-1.1zm-.3-.8zm-.2-3.2zm-2.1 2.9zm-.5-.6zm-1 1.7zm-2.6 6.8zm.3-2.4zm.9 2.3zm.8.7zm.3-2.8zm0 .4zm.1 2.8zm.5-1.3zm.4-4.2zm.3-.4zm.1 3.7zm.5.5zm.2-.2zm.7-1.6zm.1-1zm.2 2.6zm.1 1.6zm0-1.8zm.3 1.8zm0 .3zm.4-4.8zm0 1zm.2 3.8zm.4-4.4zm.5.4zm.1 1.4zm.3 1.8zm.4-3.4zm.1 3.6zm.1-2.9zm.7-.3zm1.3-.7zm.1-.3zm-2 4.9zm-2.4 3.2zm-.9 2zm-.4-3.8zm0-1zm-.5.7zm-.1.5zm-.7 3.6zm0 .6zm-.3-4.2zm-.4 4zm-.8-4.1zm-.1 3.3zm-.4-3.5zm-.2-.1zm-.9-.9zm-.5 3.2zm-.1 1.4zm-1.6-1.3zm-2.2 6.3zm1 1.6zm.3-4.3zm.5 2.2zm.2.7zm.3-3.3zm.1 1.1zm.3.7zm.1.1zm.4-1.1zm.1 3zm0-2.2zm.4 2.3zm0-3.3zm.1 3.7zm.1.6zm0-5.3zm.1 1.8zm1.1 2.4zm.6-2.8zm.3 2.4zm.2-1.2zm0-.7zm0 3.3zm.1-.8zm.2-3.4zm.6.2zm.1-.4zm1.8-.9zm1 1zm1.5-1zm-4.8 9.4zm-.9-1.2zm-.1 0zm-1.6 1.8zm-.2-3.5zm0 5zm-.5-4zm0 1zm-1.1-2.5zm0 4.6zm-.4-3zm-.2-1.2zm-.3.4zm-.2 4.7zm-.3-4.6zm-.6 2.5zm-.4-1.9zm-.1-1zm-.1 4.8zm-1-2.4zm-.1 2.3zm-.5-2.2zm-.4-3.1zm0 10.2zm.3-.9zm1.2-.6zm2.6-2.3zm.7-.4zm1 2.1zm1.1-1.5zm-1.4 5.5zm-1.6.1zm-2.7-.3zm0 1.4zm-.2-1.2zm-.4 5.2zm-.3-1.9zm-.2-2.6zm-.5 1.2zm-.4 1.4zm-.4-2.1zm-.1-.5zm-.1 4.9zm-.9-2.2zm-.8-2zm-.8 3.9zm-.5-1zm-1.7 7.2zm1.5-3.4zm.4 2.3zm.9-.7zm1.3 2.3zm-3.6.6zm-1.7 3.1zm-5.2 12.9zm-5 5.8zm.7-.2zm.3.5zm.4.9zm.5-1zm.4-1.5zm1-2.7zm.4 0zm-1.7 5.5zm-1.3 1.6zm-.3-1.7zm-.1.3zm-.3 1.9zm-.1.7zm0-1.6zm-.2-.2zm-.1 1.5zm-.1-2.2zm-.1-.2zm-.8 1.1zm0 1.4zm-.2.2zm-.3-2.3zm-.1 2.8zm0 1.3zm-.2-.6zm-.6-2.4zm-.1 2.9zm-.3.2zm-.1-3.3zm-.4 2.1zm0-.5zm-.6 1.8zm-3.3 4.5zm1.3.1zm.4-.4zm.1-1.1zm.7-1.1zm.2.3zm0-.3zm.1 1.2zm.5-1.4zm0 .8zm-2.3 5.2zm-1.1 2.3zm-.3-.2zm-.2-.1zm-.4-.2zm0 0zm-.2-.1zm-.1-.1zm-.1-.1zm0-.2zm-.1.2z" stroke="#90f000"/>
<path d="M1671.3 784.3zm-5.2 5.1zm-4.6 5.3zm4.8.7zm.1-.7zm1-2.4zm-3.7 7.4zm-1.4-1zm-.4 1.7zm-5.6 3.6zm.8 1.1zm.3 0zm.8 0zm-.5 5zm-2.6 1.4zm-.9 1.4zm-.4-1.4zm-1.1-.2zm-2.5 2.2zm-2.8 5.3zm.8-1.7zm.5 4.4zm2.6-.8zm.3 0zm1-3.5zm.9-.4zm.4-.5zm.3 2.6zm1-1.6zm2.6.5zm-6.8 5.5zm0 .3zm-.2 1.5zm-.8-.4zm-1 .6zm-.3-1.8zm-.1 3.9zm-.5-2.4zm-.7-3zm-.5 4.3zm-.5 1.1zm-.2-1.5zm-.7 0zm-.2-1zm-.2 1.1zm-.6-1.5zm-3.7 8.6zm.6-2zm1.2.8zm1.1 1.2zm.5.7zm.2-3.2zm.2 1.5zm0-2.9zm1 3.7zm.7-4.2zm.6.6zm0 1.3zm.1-1.9zm.4 2.4zm.1-.2zm1.3 2.5zm0-5.4zm.1 4.5zm-1.3 6zm-.1-2.1zm-.9-1.1zm-.5 2.8zm-.8-1.1zm-.2 1.9zm-.1-2.7zm-.5.3zm-.1 2.8zm-.5-4.6zm-.2 4.6zm-1.3.5zm0-5.8zm-.4 3.6zm-.5-1.8zm-.3.6zm-2 3.2zm-3.4 5.3zm.7-1.9zm.7 1.7zm1.1-2.7zm.7.3zm.2 3.3zm.4-4.4zm.2 2.3zm.1.8zm.1-1.4zm.9-.9zm.4 2.1zm.4-.5zm.3.5zm.1-4.1zm1.3.3zm.4 2.9zm.5-2.8zm1 3.6zm-2.4 4.9zm-.7-2.2zm-.6-.4zm-.2 3.5zm-.2-.5zm-.1 1.5zm-.3-4.7zm-.4 1.8zm0 .3zm-.3-.2zm-.9 1.9zm0-3zm-.2 2.9zm-.1-3.3zm0 4.2zm-.1.1zm-1-3.8zm-.4 4.4zm-.6-1.8zm0-3.3zm-.1 5.4zm-.8-2.8zm-.2 2.1zm-4.7 3.6zm.6 2.3zm.4-.6zm.4.7zm0-1zm0-2.2zm.2 3.3zm.3-2.7zm.4 1.5zm.1 1.5zm.1 0zm.2-5.1zm.1 1.1zm.1 3.1zm.4-3zm.6-.4zm.4 1.5zm.6-.9zm0 1.2zm.2-1.9zm.2 2.2zm.2.2zm.1 1.6zm.8-2.4zm.1-1.4zm.5 2.8zm.5 1zm.8-3.9zm1.2-.7zm-3.3 8.5zm-.6-1.1zm-.3-.3zm-.2 3.7zm-.2-2zm-.2 1zm-.2-3.7zm-.3-.5zm-.1 3.8zm-.1-1.2zm-.1-2.2zm-1 3.4zm0-3.7zm-.5 2.1zm0-1.7zm-.4 5.1zm-.4.1zm-.1-2zm-.5-1zm0 .8zm-.1 1.2zm-.5-1.4zm-.8 1.6zm-.4-4.6zm-1.7 10.2zm1-1.3zm1.2.8zm.2 1.6zm.3-3.6zm.6 1.1zm.4 1.9zm.1-3.2zm.3 2.4zm0-2zm.8-.1zm.7 2.4zm.3-.2zm.8-1.2zm.2-2.3zm-2.9 5.9zm-.1.6zm-1.5.9zm0 2.4zm-1.1-2.5zm-.3 2.4zm-1.4-2.4zm-1.4 3.4zm-.8-2zm-1.5 2.3zm.2 3.6zm.5 1.1zm.6-1.7zm.4-2.6zm.2 3.2zm.1.2zm.3-3.4zm.4 1.6zm0-1zm.9 1.2zm-2.9 4.9zm-1.4.7zm-1.8 6.4zm-6.6 9.7zm-3.7 4.9zm.4.1zm.1-1zm.2 2.2zm.2-.4zm.2.3zm.1-1.6zm.1.4zm.3-1zm.6-.4zm.2-.7zm-1 5.3zm-1.5.5zm0 1.1zm-.1-2.9zm-.3 2.8zm-.1-1zm-.1-1.3zm-.3 4zm0-4.8zm-.2 2.5zm-.1-1.3zm-.1-.7zm-.2.1zm-.1-.7zm-.2 2.9zm-.4 2.9zm0-1.1zm-.1.2zm0 .9zm0-.9zm-.4-.1zm0-1.4zm-.4.2zm-.3-.6zm-.9 2.5zm-.2-.2zm-1.8 5.9zm.7-1.4zm.3-.9zm.1 2.7zm.3-1.9zm.1-1.7zm.1-1.6zm.2 1zm.5 3.5zm.2.5zm.6-3.4zm-3.4 5.2zm-.2-.8zm-.4 2.7zm-.3-2.4zm-.2-.8zm-.1.8zm0 2zm-.2-.1zm-.2-.1zm-.1-.1zm-.3-.2zm0 .1zm-.1-.1zm0 0zm0 0zm-.3-.2zm-.2-.2zm-.3-.1zm0 0z" stroke="#f8f800"/>
<path d="M1669.6 781.4zm-3.7 8.7zm.3 7.1zm-13.2 10.8zm3.4-1.3zm-1.7 7.2zm-7.1 7.4zm6-4.6zm-1.5 7.2zm-.6 2.4zm-1.5-3.5zm-.8.7zm-.7-.6zm-2.7-.2zm-3.2 9.1zm1.9 1zm.3-1zm.4.6zm1.2-1zm1 1.5zm2-.8zm-1.8 6.1zm-.3-4zm-.8 4.2zm-1.5-3zm-.3-.5zm-.4 2.4zm-.3 1.8zm-.1-2zm-1.5-.2zm-.7-1.6zm-3.1 5.9zm.3.4zm0 3.8zm.6-.1zm1.1-2.8zm.4.7zm.2 1.7zm.3.4zm.2-2.7zm.5-1.7zm.6.8zm.3-.6zm.5 2.9zm-2 3.9zm-1.4 0zm-.2 1.1zm-.2 2zm-.1-3.3zm-.1-.9zm-.7 5zm-.7-1.9zm-1-1.3zm-.1 1.3zm-.2.3zm-.2.7zm-1.6-1.7zm0 1.9zm-2 4.8zm2.9-2.6zm.3 2.6zm0-.5zm.1 2.4zm.3-2.7zm.2 1.6zm1.1-4.5zm.1 2zm.8 2.7zm.4-2.4zm-2.4 6.2zm-.8-.3zm-.5-.5zm-.4 2.8zm-.1-3.2zm-.1-1.5zm-.2 1.3zm-.3 4.6zm-.3 0zm-.1-1.7zm-.5-3.6zm-.2 3.2zm-.3.2zm-.5.8zm0-2zm-1.1 2.5zm-.8-2.6zm-.8 2zm-.9 5zm2.1-1.2zm.6.3zm.4-2.4zm.8.5zm.2-.1zm1.8 0zm.8 4.3zm-4.9 1.3zm-.9 3.1zm-4 7.4zm.7-3.3zm2.8.7zm-9.4 11.8zm1.1 1zm-3.9 8.1zm-6.8 6.3zm2.5-.8zm.5.9zm.1-.3zm.1-4.3zm2.8.1zm-3.9 5.2zm-.2 1.7zm-.5-.4zm0 .7zm-.3.7zm-.1-.5zm0-1.3zm-.1-1zm-.2 3.2zm0-.5zm-.3-2.6zm0 .7zm-.4 2.8zm0-1.9zm0 .1zm-.1 2.6zm0-1.5zm-.1-1.3zm-.4.2zm-.1 2.6zm0-1.6zm-.1.6zm0 1.4zm-.1.5zm0-2zm-.1-1.3zm-.2 1.5zm0 .3zm0 1.6zm0-.5zm-.1-.4zm0-1.6zm-.9 2.4zm-1 .4zm-3.7 5.2zm.9.3zm.2-.7zm.3-1.7zm.2 1.1zm.1.4zm.2-.2zm.1.5zm.1-2.8zm.2 1.8zm0 .1zm.1 1zm.4.4zm.2-2.5zm0 .7zm.2-1.7zm0-1.2zm.4-.1zm0 3.9zm.2-3.6zm.1-.3zm.3.5zm0-.3zm.1.4zm.1.9zm.1-.1zm.4-1.5zm.2.6zm.1.6zm-3.8 6.6zm0-.3zm-.2-1.9zm0 1.1zm-.4.3zm-.2 1.7zm0-.1zm0 0zm-.1-.5zm-.1.5zm-.1-.1zm0 0zm-.2-.1zm-.2-.2zm0 0zm-.1 0zm0 0zm-.1-.3zm0-.8zm0 1zm-.1-1.7zm0 1.6zm0 0zm-.2-.1zm0 0zm-.1 0zm-.1-.1zm0 0zm-.5-.3zm-.3-.2z" stroke="#ffb000"/>
<path d="M1673.4 771.5zm-17.1 39.3zm-1.1.3zm-4.7 12.3zm-2.8 1.7zm-2.3 9.8zm-.8 3zm-.9 1.2zm-.4-.7zm-.1.8zm-.6-.1zm-.1-4.9zm-.1 3.5zm-.7-.5zm-2.5 6zm.5-2.6zm3.4-.3zm-2.1 7.1zm-.6 1.2zm-1-1.6zm-.8.6zm-.7 4zm-.9-5.3zm-.2 4.3zm-.9-.7zm-.1-1.9zm-1.3 8.8zm.2-.7zm2.3-2.3zm1.2.3zm.3-.9zm.7 1.4zm.1-1.6zm-3.1 6.3zm-.7.8zm-.8.1zm-.9-1.2zm-.1.9zm-.2.6zm-.9.4zm-2.6 5.8zm3.1-1.4zm-3.9 8.6zm-1-1.7zm-.6 0zm-4.8 13.2zm-1.7.7zm-9.4 22.2zm-.1 1.9zm0-2.7zm-.1 3.1zm-.8-1zm-.4.3zm-.1-2.7zm-.2 1.2zm0 2.7zm-.4-.4zm0-1.2zm-.1 1.3zm0 0zm-.5 0zm-.1-3.1zm-.2 2.1zm0 1.2zm-.2-.7zm-.2 1.6zm-.7-.5zm-.2-.2zm-3.9 5.9zm.5.2zm.1.5zm.3 0zm.2-.3zm.4 0zm.1-1.8zm.2 1.4zm.1.2zm.1-.4zm0-1.9zm.1 1zm.1-.4zm0 1.4zm0-1.2zm.2-.1zm.1-.4zm.2.3zm.2 1.3zm.1-4.3zm.2 1.9zm.2.2zm.1-.4zm0-.5zm.2.5zm0 .6zm.1-.6zm0 .7zm.1-1.4zm0 0zm0-.2zm.2.3zm.4-1.6zm.4 1.3zm.1.2zm-2.5 4.5zm-.7.2zm-.6.4zm-.1.4zm0 .1zm0-.6zm-.4.3zm0 2.3zm-.1-1.6zm-.2 1.4zm-.1-2zm-.2 1.7zm-.1 0zm-.1-.1zm0 0zm0 .1zm-.1-.1zm0-.9zm0 .9zm0 0zm0-.1zm-.1 0zm0 0zm0 0zm-.1-.1zm0 .1zm0-.1zm0 .1zm0-.5zm0 .4zm0 0zm0-.1zm-.1-.9zm0 1zm0-.3zm-.1.2zm0 0zm0 0zm0 0zm-.1-.1zm0 .1zm0 0zm-.1-.1zm0 0zm0 0zm0 0zm-.1 0zm0-.1zm-.1 0zm-.1-.1zm0 0zm-.1 0zm-.4-.3z" stroke="#ff5000"/>
<path d="M1643.9 833.4zm2-.7zm-2.5 2.6zm-4.6 10.2zm1.7-3.2zm-2.3 6.5zm-.1.7zm-.3-2.1zm-1.9 3.5zm-1.2 1.4zm2.8.8zm1.7 3.6zm-5.1 2.7zm-.2-.3zm-5.5 15.5zm-1.9 4.9zm-14.9 25.8zm-.8 4.5zm-.2 1zm-.2-3.1zm-.3 1.7zm-.2.7zm0-1.3zm-.1.3zm0 .7zm-.2.8zm0-.5zm-.6 1.4zm0-.3zm-.1-.2zm-.1-.1zm-.1-2.2zm-.2 3.2zm-.2-1zm-.1-.3zm-.1.9zm0-.7zm-.6.6zm-.8.3zm-.2-.8zm-2.2 6.7zm.3-.3zm.2-.3zm.2.2zm0-.6zm.1-.1zm.1-.1zm.1 0zm.3-2.1zm.1.1zm.1 1.4zm0-.2zm0-.3zm0 1.3zm.1-1.9zm0 2.7zm0-1.7zm0 .1zm.1.2zm.2.2zm0-2.7zm.1 1.4zm0 .3zm0 .3zm0-.5zm.1-1.1zm.3-1.2zm0 .7zm.1 1.2zm.2-.3zm.1 0zm0-1.3zm.1 1.9zm0-2.1zm.2.7zm0-.2zm0 .5zm.1-1.8zm0 .8zm.4 1.5zm0-1.5zm.2.1zm0 .9zm.1-.8zm-3.6 6.4zm-.2-1.2zm-.2 2.9zm-.1-.1zm-.3-.1zm0 0zm0 0zm-.1-1.5zm-.1 1.3zm0 0zm0-1.6zm0 1.7zm-.1-.1zm0 0zm0 0zm0 0zm-.1-.5zm0-1.5zm0 1.9zm-.1 0zm-.1-.1zm0 0zm0 0zm0 0zm-.1 0zm0 0zm0-.1zm0 0zm-.1 0zm0 0zm0-.7zm0 .7zm0 0zm-.1-.1zm0 0zm0 0zm0 0zm0 0zm0 0zm-.1-.1zm0-.5zm0 .6zm-.1-.1zm0 0zm0-.6zm0 .6zm-.4-.3zm-.1 0zm-.6-.3z" stroke="#ff1000"/>
</g>
<rect x="1640" y="724" width="42" height="50" fill="#fff" fill-opacity="0.85"/>
<path d="M1616.1 895.3 L1617 879.4 L1642.2 819.8 L1655.2 801.1 L1672 774.1 L1691.6 731.2 L1686 771.3 L1683.2 786.2 L1679.5 795.5 L1649.6 858.9 L1644.1 875.7 L1638.8 885Z" fill="none" stroke="#111" stroke-width="2.1" stroke-linejoin="round"/>
<text x="1642.4" y="743.3" font-size="14.5" text-anchor="middle" fill="#222" textLength="73.5" lengthAdjust="spacingAndGlyphs">Single Cells</text>
<text x="1642.4" y="763.3" font-size="14.5" text-anchor="middle" fill="#222">64.6</text>
<rect x="1600.7" y="579.3" width="344.9" height="344.9" fill="none" stroke="#111" stroke-width="1.6"/>
<path d="M1595.7 906.8H1600.7M1595.7 890.7H1600.7M1595.7 874.5H1600.7M1595.7 842.3H1600.7M1595.7 826.2H1600.7M1595.7 810H1600.7M1595.7 777.8H1600.7M1595.7 761.7H1600.7M1595.7 745.5H1600.7M1595.7 713.3H1600.7M1595.7 697.2H1600.7M1595.7 681H1600.7M1595.7 648.8H1600.7M1595.7 632.7H1600.7M1595.7 616.5H1600.7M1595.7 584.3H1600.7M1619.2 924.2V928.7M1640.1 924.2V928.7M1660.9 924.2V928.7M1702.6 924.2V928.7M1723.5 924.2V928.7M1744.3 924.2V928.7M1786 924.2V928.7M1806.9 924.2V928.7M1827.7 924.2V928.7M1869.4 924.2V928.7M1890.2 924.2V928.7M1911.1 924.2V928.7" stroke="#111" stroke-width="1.3" fill="none"/>
<path d="M1590.7 922.9H1600.7M1590.7 858.4H1600.7M1590.7 793.9H1600.7M1590.7 729.4H1600.7M1590.7 664.9H1600.7M1590.7 600.4H1600.7M1681.8 924.2V933.2M1765.2 924.2V933.2M1848.6 924.2V933.2M1931.9 924.2V933.2" stroke="#111" stroke-width="2.2" fill="none"/>
<text x="1585.2" y="604.9" font-size="12.5" text-anchor="end" fill="#222">5.0M</text>
<text x="1585.2" y="669.5" font-size="12.5" text-anchor="end" fill="#222">4.0M</text>
<text x="1585.2" y="734.4" font-size="12.5" text-anchor="end" fill="#222">3.0M</text>
<text x="1585.2" y="798.2" font-size="12.5" text-anchor="end" fill="#222">2.0M</text>
<text x="1585.2" y="863.1" font-size="12.5" text-anchor="end" fill="#222">1.0M</text>
<text x="1585.2" y="922.8" font-size="12.5" text-anchor="end" fill="#222">0</text>
<text x="1681.8" y="948.2" font-size="12.5" text-anchor="middle" fill="#222">2.0M</text>
<text x="1765.9" y="948.2" font-size="12.5" text-anchor="middle" fill="#222">4.0M</text>
<text x="1848.3" y="948.2" font-size="12.5" text-anchor="middle" fill="#222">6.0M</text>
<text x="1931.9" y="948.2" font-size="12.5" text-anchor="middle" fill="#222">8.0M</text>
<text transform="translate(1517 751.8) rotate(-90)" font-size="15" text-anchor="middle" fill="#222" textLength="102" lengthAdjust="spacingAndGlyphs" dy="0.36em">FSC-A :: FSC-A</text>
<text x="1767.6" y="988.6" font-size="15" text-anchor="middle" fill="#222" textLength="99.6" lengthAdjust="spacingAndGlyphs">FSC-H :: FSC-H</text>
</g>
<!-- dotplot -->
<g>
<g fill="#000"><circle cx="227.4" cy="1647.2" r="10.2"/><circle cx="285" cy="1647.2" r="10.2"/><circle cx="231" cy="1649.9" r="10.2"/><circle cx="281.4" cy="1649.9" r="10.2"/><circle cx="234.6" cy="1652.5" r="10.2"/><circle cx="277.8" cy="1652.5" r="10.2"/><circle cx="238.2" cy="1655.2" r="10.2"/><circle cx="274.2" cy="1655.2" r="10.2"/><circle cx="241.8" cy="1657.9" r="10.2"/><circle cx="270.6" cy="1657.9" r="10.2"/><circle cx="245.4" cy="1660.6" r="10.2"/><circle cx="267" cy="1660.6" r="10.2"/><circle cx="249" cy="1663.2" r="10.2"/><circle cx="263.4" cy="1663.2" r="10.2"/><circle cx="252.6" cy="1665.9" r="10.2"/><circle cx="259.8" cy="1665.9" r="10.2"/><circle cx="256.2" cy="1668.6" r="10.2"/><circle cx="256.2" cy="1668.6" r="10.2"/><circle cx="229.2" cy="1650" r="10.2"/><circle cx="283.2" cy="1650" r="10.2"/><circle cx="230.2" cy="1646" r="10.2"/><circle cx="282.2" cy="1646" r="10.2"/></g>
<g fill="#000"><rect x="335.6" y="1369.2" width="20.7" height="20.7"/><rect x="355.3" y="1380.7" width="20.7" height="20.7"/><rect x="375.7" y="1386.9" width="20.7" height="20.7"/><rect x="380.1" y="1396.1" width="20.7" height="20.7"/><rect x="395.5" y="1377.1" width="20.7" height="20.7"/><rect x="351.1" y="1420.7" width="20.7" height="20.7"/><rect x="340" y="1439.1" width="20.7" height="20.7"/><rect x="391.1" y="1428.7" width="20.7" height="20.7"/><rect x="365.5" y="1449.8" width="20.7" height="20.7"/><rect x="365.5" y="1490.6" width="20.7" height="20.7"/><rect x="345.2" y="1518.8" width="20.7" height="20.7"/><rect x="351.1" y="1518.8" width="20.7" height="20.7"/><rect x="380.1" y="1518.8" width="20.7" height="20.7"/><rect x="353.2" y="1540.5" width="20.7" height="20.7"/><rect x="369.7" y="1540.5" width="20.7" height="20.7"/><rect x="386.3" y="1540.9" width="20.7" height="20.7"/><rect x="340" y="1551.2" width="20.7" height="20.7"/><rect x="371.7" y="1544.7" width="20.7" height="20.7"/><rect x="365.5" y="1572.5" width="20.7" height="20.7"/><rect x="391.1" y="1572.7" width="20.7" height="20.7"/><rect x="378.2" y="1572" width="20.7" height="20.7"/><rect x="389.5" y="1593.1" width="20.7" height="20.7"/><rect x="379.3" y="1585" width="20.7" height="20.7"/><rect x="341.5" y="1602.7" width="20.7" height="20.7"/><rect x="346.3" y="1602.7" width="20.7" height="20.7"/><rect x="384.7" y="1602.7" width="20.7" height="20.7"/><rect x="351.1" y="1617.7" width="20.7" height="20.7"/><rect x="365.5" y="1613.8" width="20.7" height="20.7"/><rect x="380.1" y="1617.7" width="20.7" height="20.7"/><rect x="352.5" y="1623" width="20.7" height="20.7"/><rect x="379.3" y="1623" width="20.7" height="20.7"/><rect x="339.4" y="1634.6" width="20.7" height="20.7"/><rect x="391.4" y="1629.2" width="20.7" height="20.7"/><rect x="371.7" y="1629.2" width="20.7" height="20.7"/><rect x="350.2" y="1642.6" width="20.7" height="20.7"/><rect x="365.5" y="1646.5" width="20.7" height="20.7"/><rect x="380.9" y="1642.6" width="20.7" height="20.7"/><rect x="352.5" y="1636.9" width="20.7" height="20.7"/><rect x="379.3" y="1638.8" width="20.7" height="20.7"/><rect x="360.5" y="1654.1" width="20.7" height="20.7"/><rect x="370.7" y="1656.1" width="20.7" height="20.7"/><rect x="360.3" y="1658" width="20.7" height="20.7"/></g>
<path fill="#000" d="M465.5 1384.9l10.3 20.7h-20.7zM525.1 1381.9l10.3 20.7h-20.7zM505.5 1396.9l10.3 20.7h-20.7zM485.3 1410.7l10.3 20.7h-20.7zM469.8 1432.4l10.3 20.7h-20.7zM520.8 1429.9l10.3 20.7h-20.7zM495.3 1458.3l10.3 20.7h-20.7zM475.1 1535.1l10.3 20.7h-20.7zM480.9 1535.1l10.3 20.7h-20.7zM487.6 1535.1l10.3 20.7h-20.7zM502 1535.1l10.3 20.7h-20.7zM509.7 1535.1l10.3 20.7h-20.7zM515.5 1535.1l10.3 20.7h-20.7zM467.1 1601.3l10.3 20.7h-20.7zM480.9 1595.6l10.3 20.7h-20.7zM509.7 1595.6l10.3 20.7h-20.7zM523.5 1601.3l10.3 20.7h-20.7zM474.2 1604.2l10.3 20.7h-20.7zM516.4 1604.2l10.3 20.7h-20.7zM467.1 1621.1l10.3 20.7h-20.7zM523.5 1621.1l10.3 20.7h-20.7zM474.2 1625.3l10.3 20.7h-20.7zM516.4 1625.3l10.3 20.7h-20.7zM480.9 1617.7l10.3 20.7h-20.7zM509.7 1617.7l10.3 20.7h-20.7zM487.6 1635.9l10.3 20.7h-20.7zM503 1635.9l10.3 20.7h-20.7zM481.9 1634.9l10.3 20.7h-20.7zM508.7 1634.9l10.3 20.7h-20.7zM491.5 1640.7l10.3 20.7h-20.7zM499.1 1640.7l10.3 20.7h-20.7zM497.2 1647.4l10.3 20.7h-20.7zM495.3 1629.2l10.3 20.7h-20.7z"/>
<path fill="#000" d="M600.5 1402.2l-10.3 -20.7h20.7zM629.3 1393.9l-10.3 -20.7h20.7zM640.4 1424.3l-10.3 -20.7h20.7zM589.4 1441l-10.3 -20.7h20.7zM614.9 1451.2l-10.3 -20.7h20.7zM589.4 1468.4l-10.3 -20.7h20.7zM640.4 1468.4l-10.3 -20.7h20.7zM601.8 1474.2l-10.3 -20.7h20.7zM614.9 1491.5l-10.3 -20.7h20.7zM627.8 1491.1l-10.3 -20.7h20.7zM614.9 1539.5l-10.3 -20.7h20.7zM600.5 1602.3l-10.3 -20.7h20.7zM629.3 1602.3l-10.3 -20.7h20.7zM589.4 1609.9l-10.3 -20.7h20.7zM640.4 1609.9l-10.3 -20.7h20.7zM593.2 1617.2l-10.3 -20.7h20.7zM636.4 1617.2l-10.3 -20.7h20.7zM598 1624.9l-10.3 -20.7h20.7zM631.6 1624.9l-10.3 -20.7h20.7zM603.8 1631.6l-10.3 -20.7h20.7zM625.8 1631.6l-10.3 -20.7h20.7zM609.5 1634.5l-10.3 -20.7h20.7zM620.1 1634.5l-10.3 -20.7h20.7zM614.9 1635.5l-10.3 -20.7h20.7zM596.1 1613.4l-10.3 -20.7h20.7zM633.7 1613.4l-10.3 -20.7h20.7zM589.4 1659.9l-10.3 -20.7h20.7zM640.4 1659.9l-10.3 -20.7h20.7zM600.5 1655.6l-10.3 -20.7h20.7zM629.3 1655.6l-10.3 -20.7h20.7zM599.5 1665.2l-10.3 -20.7h20.7zM609.5 1668.1l-10.3 -20.7h20.7zM620.1 1668.1l-10.3 -20.7h20.7zM630.6 1663.7l-10.3 -20.7h20.7zM614.9 1668.1l-10.3 -20.7h20.7zM595.1 1657.6l-10.3 -20.7h20.7zM634.7 1657.6l-10.3 -20.7h20.7z"/>
<path fill="#000" d="M734.3 1361.9l12.7 12.7l-12.7 12.7l-12.7 -12.7zM708.8 1380.7l12.7 12.7l-12.7 12.7l-12.7 -12.7zM734.3 1398.9l12.7 12.7l-12.7 12.7l-12.7 -12.7zM759.9 1398.9l12.7 12.7l-12.7 12.7l-12.7 -12.7zM734.3 1430l12.7 12.7l-12.7 12.7l-12.7 -12.7zM708.8 1446.7l12.7 12.7l-12.7 12.7l-12.7 -12.7zM759.9 1457.1l12.7 12.7l-12.7 12.7l-12.7 -12.7zM734.3 1469.4l12.7 12.7l-12.7 12.7l-12.7 -12.7zM704.6 1503.6l12.7 12.7l-12.7 12.7l-12.7 -12.7zM724.3 1503.6l12.7 12.7l-12.7 12.7l-12.7 -12.7zM744.3 1503.6l12.7 12.7l-12.7 12.7l-12.7 -12.7zM764.3 1503.6l12.7 12.7l-12.7 12.7l-12.7 -12.7zM714.2 1566.4l12.7 12.7l-12.7 12.7l-12.7 -12.7zM727.6 1568.3l12.7 12.7l-12.7 12.7l-12.7 -12.7zM741 1568.3l12.7 12.7l-12.7 12.7l-12.7 -12.7zM754.5 1566.4l12.7 12.7l-12.7 12.7l-12.7 -12.7zM720.9 1565.4l12.7 12.7l-12.7 12.7l-12.7 -12.7zM747.8 1565.4l12.7 12.7l-12.7 12.7l-12.7 -12.7zM706.5 1590.4l12.7 12.7l-12.7 12.7l-12.7 -12.7zM762.2 1590.4l12.7 12.7l-12.7 12.7l-12.7 -12.7zM712.2 1595.2l12.7 12.7l-12.7 12.7l-12.7 -12.7zM756.4 1595.2l12.7 12.7l-12.7 12.7l-12.7 -12.7zM719 1601.9l12.7 12.7l-12.7 12.7l-12.7 -12.7zM749.7 1601.9l12.7 12.7l-12.7 12.7l-12.7 -12.7zM725.7 1608.6l12.7 12.7l-12.7 12.7l-12.7 -12.7zM743 1608.6l12.7 12.7l-12.7 12.7l-12.7 -12.7zM734.3 1613.4l12.7 12.7l-12.7 12.7l-12.7 -12.7zM719.9 1615.3l12.7 12.7l-12.7 12.7l-12.7 -12.7zM748.7 1615.3l12.7 12.7l-12.7 12.7l-12.7 -12.7zM728.6 1619.2l12.7 12.7l-12.7 12.7l-12.7 -12.7zM740.1 1619.2l12.7 12.7l-12.7 12.7l-12.7 -12.7zM714.2 1631.6l12.7 12.7l-12.7 12.7l-12.7 -12.7zM754.5 1631.6l12.7 12.7l-12.7 12.7l-12.7 -12.7zM720.9 1636.4l12.7 12.7l-12.7 12.7l-12.7 -12.7zM747.8 1636.4l12.7 12.7l-12.7 12.7l-12.7 -12.7zM727.6 1642.2l12.7 12.7l-12.7 12.7l-12.7 -12.7zM741 1642.2l12.7 12.7l-12.7 12.7l-12.7 -12.7zM722.8 1626.8l12.7 12.7l-12.7 12.7l-12.7 -12.7zM745.8 1626.8l12.7 12.7l-12.7 12.7l-12.7 -12.7z"/>
<g fill="none" stroke="#000" stroke-width="5.6"><circle cx="853.9" cy="1375.9" r="9.6"/><circle cx="839.5" cy="1403" r="9.6"/><circle cx="868.2" cy="1413.3" r="9.6"/><circle cx="879.7" cy="1423.7" r="9.6"/><circle cx="828.4" cy="1423.7" r="9.6"/><circle cx="853.9" cy="1451.9" r="9.6"/><circle cx="839.5" cy="1508.4" r="9.6"/><circle cx="868.2" cy="1508.4" r="9.6"/><circle cx="839.5" cy="1564.6" r="9.6"/><circle cx="868.2" cy="1564.6" r="9.6"/><circle cx="832.3" cy="1581" r="9.6"/><circle cx="845.7" cy="1581" r="9.6"/><circle cx="861.1" cy="1581" r="9.6"/><circle cx="875.5" cy="1581" r="9.6"/><circle cx="825.5" cy="1596.9" r="9.6"/><circle cx="882.2" cy="1596.9" r="9.6"/><circle cx="830.3" cy="1607.9" r="9.6"/><circle cx="877.4" cy="1607.9" r="9.6"/><circle cx="837.1" cy="1614.6" r="9.6"/><circle cx="870.7" cy="1614.6" r="9.6"/><circle cx="844.7" cy="1620.3" r="9.6"/><circle cx="863" cy="1620.3" r="9.6"/><circle cx="853.9" cy="1622.3" r="9.6"/><circle cx="828.4" cy="1627.1" r="9.6"/><circle cx="879.7" cy="1627.1" r="9.6"/><circle cx="836.1" cy="1633.8" r="9.6"/><circle cx="872.6" cy="1633.8" r="9.6"/><circle cx="843.8" cy="1635.7" r="9.6"/><circle cx="864.9" cy="1635.7" r="9.6"/><circle cx="840.9" cy="1644.3" r="9.6"/><circle cx="866.8" cy="1644.3" r="9.6"/><circle cx="849.5" cy="1650.1" r="9.6"/><circle cx="859.1" cy="1650.1" r="9.6"/><circle cx="853.9" cy="1656.8" r="9.6"/><circle cx="864.9" cy="1654.9" r="9.6"/><circle cx="853.9" cy="1639.5" r="9.6"/><circle cx="853.9" cy="1608.8" r="9.6"/><circle cx="841.9" cy="1605" r="9.6"/><circle cx="866.8" cy="1605" r="9.6"/></g>
<path d="M354.2 1543.5H397.4M375.9 1543.5V1573.3M354.2 1573.3H397.4M473.8 1564.6H517.2M495.3 1564.6V1591.5M473.8 1591.5H517.2M593.8 1560.2H636.4M614.9 1560.2V1587.7M593.8 1587.7H636.4M712.8 1552.4H756.2M734.3 1552.4V1576.2M712.8 1576.2H756.2" stroke="#000" stroke-width="6.6" stroke-linecap="round" fill="none"/>
<path d="M215.3 1663.1H297.1M335.4 1557.9H416.8M454.8 1578.5H536.2M574.4 1573.9H655.6M693.4 1564.3H775.2M813.4 1575.8H894.8" stroke="#f00" stroke-width="5" stroke-linecap="round" fill="none"/>
<path d="M197.6 1193.3V1674.8" stroke="#000" stroke-width="5.1" fill="none"/>
<path d="M184.1 1672.8H913.6M184.7 1195.5H197.6M184.7 1290.8H197.6M184.7 1386.6H197.6M184.7 1481.9H197.6M184.7 1577.8H197.6M256 1672.8V1686.9M375.2 1672.8V1686.9M495.3 1672.8V1686.9M614.8 1672.8V1686.9M734.3 1672.8V1686.9M853.7 1672.8V1686.9" stroke="#000" stroke-width="5.1" stroke-linecap="round" fill="none"/>
<text x="178.8" y="1207.3" font-size="33.5" text-anchor="end" font-weight="bold">100</text>
<text x="178.8" y="1302.6" font-size="33.5" text-anchor="end" font-weight="bold">80</text>
<text x="178.8" y="1398.4" font-size="33.5" text-anchor="end" font-weight="bold">60</text>
<text x="178.8" y="1493.7" font-size="33.5" text-anchor="end" font-weight="bold">40</text>
<text x="178.8" y="1589.6" font-size="33.5" text-anchor="end" font-weight="bold">20</text>
<text x="178.8" y="1684.6" font-size="33.5" text-anchor="end" font-weight="bold">0</text>
<text transform="translate(34.3 1434.5) rotate(-90)" font-size="34" text-anchor="middle" font-weight="bold" textLength="302" lengthAdjust="spacingAndGlyphs">% of Positive Cells</text>
<text transform="translate(73.8 1434.5) rotate(-90)" font-size="34" text-anchor="middle" font-weight="bold" textLength="136.5" lengthAdjust="spacingAndGlyphs">GFP-HIV</text>
<path d="M239.5 1290.8H379.4M394.7 1199.9H888.8M384.7 1257.4H762M380.2 1309.9H513.6M370.5 1348.3H640.2" stroke="#000" stroke-width="6.4" stroke-linecap="round" fill="none"/>
<text x="322.4" y="1276.6" font-size="33" text-anchor="middle" textLength="48.5" lengthAdjust="spacingAndGlyphs">***</text>
<text x="835.5" y="1178.7" font-size="31" textLength="40.5" lengthAdjust="spacingAndGlyphs">NS</text>
<text x="706.5" y="1245.6" font-size="31" textLength="40.5" lengthAdjust="spacingAndGlyphs">NS</text>
<text x="456.6" y="1306.1" font-size="31" textLength="40.5" lengthAdjust="spacingAndGlyphs">NS</text>
<text x="595" y="1336.5" font-size="31" textLength="40.5" lengthAdjust="spacingAndGlyphs">NS</text>
<text transform="translate(266.6 1763.2) rotate(-90)" font-size="35.3" font-weight="bold" textLength="66.6" lengthAdjust="spacingAndGlyphs">C20</text>
<text transform="translate(385.8 1765) rotate(-90)" font-size="35.3" font-weight="bold" textLength="50" lengthAdjust="spacingAndGlyphs">CT</text>
<text transform="translate(505.9 1911.4) rotate(-90)" font-size="35.3" font-weight="bold" textLength="214.8" lengthAdjust="spacingAndGlyphs">CBD 0.01<tspan font-weight="normal" font-family="'Liberation Serif','DejaVu Serif',serif" font-size="36">µ</tspan>M</text>
<text transform="translate(625.4 1850.4) rotate(-90)" font-size="35.3" font-weight="bold" textLength="153.8" lengthAdjust="spacingAndGlyphs">CBD1<tspan font-weight="normal" font-family="'Liberation Serif','DejaVu Serif',serif" font-size="36">µ</tspan>M</text>
<text transform="translate(744.9 1907.8) rotate(-90)" font-size="35.3" font-weight="bold" textLength="211.2" lengthAdjust="spacingAndGlyphs">THC 0.01<tspan font-weight="normal" font-family="'Liberation Serif','DejaVu Serif',serif" font-size="36">µ</tspan>M</text>
<text transform="translate(864.3 1856.5) rotate(-90)" font-size="35.3" font-weight="bold" textLength="160" lengthAdjust="spacingAndGlyphs">THC 1<tspan font-weight="normal" font-family="'Liberation Serif','DejaVu Serif',serif" font-size="36">µ</tspan>M</text>
<text x="527.8" y="1955" font-size="34" font-weight="bold" textLength="199.8" lengthAdjust="spacingAndGlyphs">HC69.5 cells</text>
<path d="M380.4 1986.7H948.1" stroke="#000" stroke-width="6" stroke-linecap="round" fill="none"/>
<text x="49.5" y="43.7" font-size="43.8" font-weight="bold" textLength="34.5" lengthAdjust="spacingAndGlyphs">B</text>
</g>
<!-- bars -->
<g>
<defs>
<pattern id="hat" patternUnits="userSpaceOnUse" width="6.5" height="6.5" patternTransform="rotate(-43.5)"><rect width="6.5" height="6.5" fill="#fff"/><rect y="2" width="6.5" height="2.7" fill="#000"/></pattern>
<pattern id="chk" patternUnits="userSpaceOnUse" x="1495" y="1609.9" width="17.9" height="17.9"><rect width="17.9" height="17.9" fill="#fff"/><rect width="8.95" height="8.95" fill="#000"/><rect x="8.95" y="8.95" width="8.95" height="8.95" fill="#000"/></pattern>
<pattern id="chk2" patternUnits="userSpaceOnUse" x="1786.1" y="1444.2" width="17.9" height="17.9"><rect width="17.9" height="17.9" fill="#fff"/><rect width="8.95" height="8.95" fill="#000"/><rect x="8.95" y="8.95" width="8.95" height="8.95" fill="#000"/></pattern>
<pattern id="grd" patternUnits="userSpaceOnUse" x="1590.2" y="1551.3" width="12.75" height="12.75"><rect width="12.75" height="12.75" fill="#fff"/><rect x="5" width="2.7" height="12.75" fill="#000"/><rect y="5" width="12.75" height="2.7" fill="#000"/></pattern>
<pattern id="grd2" patternUnits="userSpaceOnUse" x="1880.7" y="1325" width="12.9" height="12.9"><rect width="12.9" height="12.9" fill="#fff"/><rect x="5" width="2.7" height="12.9" fill="#000"/><rect y="5" width="12.9" height="2.7" fill="#000"/></pattern>
</defs>
<clipPath id="hc1"><rect x="1387" y="1533" width="68.1" height="123.4"/></clipPath><path d="M1385 1520.9L1457.1 1448.8M1385 1530.4L1457.1 1458.3M1385 1539.8L1457.1 1467.7M1385 1549.3L1457.1 1477.2M1385 1558.8L1457.1 1486.7M1385 1568.2L1457.1 1496.1M1385 1577.7L1457.1 1505.6M1385 1587.1L1457.1 1515M1385 1596.6L1457.1 1524.5M1385 1606.1L1457.1 1534M1385 1615.5L1457.1 1543.4M1385 1625L1457.1 1552.9M1385 1634.4L1457.1 1562.3M1385 1643.9L1457.1 1571.8M1385 1653.3L1457.1 1581.2M1385 1662.8L1457.1 1590.7M1385 1672.3L1457.1 1600.2M1385 1681.7L1457.1 1609.6M1385 1691.2L1457.1 1619.1M1385 1700.7L1457.1 1628.6M1385 1710.1L1457.1 1638M1385 1719.6L1457.1 1647.5M1385 1729L1457.1 1656.9M1385 1738.5L1457.1 1666.4" stroke="#000" stroke-width="3.05" fill="none" clip-path="url(#hc1)"/><path d="M1389.5 1656.4V1532M1452.6 1656.4V1532" stroke="#000" stroke-width="7" fill="none"/><rect x="1386" y="1532" width="70.1" height="8" fill="#000" rx="1.5"/>
<rect x="1484" y="1589.1" width="69" height="67.3" fill="url(#chk)"/><path d="M1486.5 1656.4V1588.1M1550.5 1656.4V1588.1" stroke="#000" stroke-width="7" fill="none"/><rect x="1483" y="1588.1" width="71" height="8" fill="#000" rx="1.5"/>
<rect x="1580.1" y="1541.9" width="69.9" height="114.5" fill="url(#grd)"/><path d="M1582.6 1656.4V1540.9M1647.5 1656.4V1540.9" stroke="#000" stroke-width="7" fill="none"/><rect x="1579.1" y="1540.9" width="71.9" height="8" fill="#000" rx="1.5"/>
<clipPath id="hc2"><rect x="1678.1" y="1448.2" width="68.9" height="208.2"/></clipPath><path d="M1676.1 1437.9L1749 1365M1676.1 1447.4L1749 1374.5M1676.1 1456.8L1749 1383.9M1676.1 1466.3L1749 1393.4M1676.1 1475.8L1749 1402.9M1676.1 1485.2L1749 1412.3M1676.1 1494.7L1749 1421.8M1676.1 1504.2L1749 1431.2M1676.1 1513.6L1749 1440.7M1676.1 1523.1L1749 1450.2M1676.1 1532.5L1749 1459.6M1676.1 1542L1749 1469.1M1676.1 1551.5L1749 1478.6M1676.1 1560.9L1749 1488M1676.1 1570.4L1749 1497.5M1676.1 1579.8L1749 1506.9M1676.1 1589.3L1749 1516.4M1676.1 1598.8L1749 1525.8M1676.1 1608.2L1749 1535.3M1676.1 1617.7L1749 1544.8M1676.1 1627.1L1749 1554.2M1676.1 1636.6L1749 1563.7M1676.1 1646.1L1749 1573.2M1676.1 1655.5L1749 1582.6M1676.1 1665L1749 1592.1M1676.1 1674.4L1749 1601.5M1676.1 1683.9L1749 1611M1676.1 1693.3L1749 1620.4M1676.1 1702.8L1749 1629.9M1676.1 1712.3L1749 1639.4M1676.1 1721.7L1749 1648.8M1676.1 1731.2L1749 1658.3M1676.1 1740.7L1749 1667.8" stroke="#000" stroke-width="3.05" fill="none" clip-path="url(#hc2)"/><path d="M1680.6 1656.4V1447.2M1744.5 1656.4V1447.2" stroke="#000" stroke-width="7" fill="none"/>
<rect x="1775" y="1448.2" width="68.2" height="208.2" fill="url(#chk2)"/><path d="M1777.5 1656.4V1447.2M1840.7 1656.4V1447.2" stroke="#000" stroke-width="7" fill="none"/>
<rect x="1872.3" y="1448.2" width="68.8" height="208.2" fill="url(#grd2)"/><path d="M1874.8 1656.4V1447.2M1938.6 1656.4V1447.2" stroke="#000" stroke-width="7" fill="none"/>
<clipPath id="hc3"><rect x="1678.1" y="1375.1" width="68.9" height="38.7"/></clipPath><path d="M1676.1 1362.2L1749 1289.3M1676.1 1371.7L1749 1298.8M1676.1 1381.2L1749 1308.3M1676.1 1390.6L1749 1317.7M1676.1 1400.1L1749 1327.2M1676.1 1409.6L1749 1336.7M1676.1 1419L1749 1346.1M1676.1 1428.5L1749 1355.6M1676.1 1437.9L1749 1365M1676.1 1447.4L1749 1374.5M1676.1 1456.8L1749 1383.9M1676.1 1466.3L1749 1393.4M1676.1 1475.8L1749 1402.9M1676.1 1485.2L1749 1412.3M1676.1 1494.7L1749 1421.8" stroke="#000" stroke-width="3.05" fill="none" clip-path="url(#hc3)"/><path d="M1680.6 1413.8V1374.1M1744.5 1413.8V1374.1" stroke="#000" stroke-width="7" fill="none"/><rect x="1677.1" y="1374.1" width="70.9" height="8" fill="#000" rx="1.5"/>
<rect x="1774" y="1406" width="70.2" height="7.8" fill="#000" rx="1.5"/>
<rect x="1872.3" y="1316.7" width="68.8" height="97.1" fill="url(#grd2)"/><path d="M1874.8 1413.8V1315.7M1938.6 1413.8V1315.7" stroke="#000" stroke-width="7" fill="none"/><rect x="1871.3" y="1315.7" width="70.8" height="8" fill="#000" rx="1.5"/>
<path d="M1406.5 1521.6H1437M1503 1581.1H1534.3M1599.3 1533.6H1630.4M1697 1372.2H1728.4M1795 1405H1824M1890.8 1309.5H1922.3" stroke="#000" stroke-width="7" stroke-linecap="round" fill="none"/>
<path d="M1421.1 1521.6V1534M1518.7 1581.1V1590M1614.7 1533.6V1543M1712.7 1372.2V1377M1809.5 1405V1408M1906.5 1309.5V1318" stroke="#000" stroke-width="7.6" fill="none"/>
<path d="M1275.6 1203.1V1416.5M1267.3 1414.3H1286.8M1275.6 1446.3V1656.4M1261.2 1448.5H1286.8M1261.2 1205.5H1275.6M1261.2 1251.4H1275.6M1261.2 1298.1H1275.6M1261.2 1344.4H1275.6M1261.2 1391.1H1275.6M1261.2 1517.8H1275.6M1261.2 1587.4H1275.6M1261.2 1656.4H1957.5M1323.9 1656.4V1671.8M1421.1 1656.4V1671.8M1518.7 1656.4V1671.8M1614.7 1656.4V1671.8M1712.7 1656.4V1671.8M1809.5 1656.4V1671.8M1906.5 1656.4V1671.8" stroke="#000" stroke-width="4.8" fill="none"/>
<text x="1142.2" y="1215.8" font-size="32.6" font-weight="bold" textLength="43" lengthAdjust="spacingAndGlyphs">1.0</text><text x="1186.2" y="1215.8" font-size="30" textLength="16.5" lengthAdjust="spacingAndGlyphs">×</text><text x="1201.2" y="1215.8" font-size="32.6" font-weight="bold" textLength="35" lengthAdjust="spacingAndGlyphs">10</text><text x="1239.3" y="1204.8" font-size="21" font-weight="bold">8</text>
<text x="1142.2" y="1261.7" font-size="32.6" font-weight="bold" textLength="43" lengthAdjust="spacingAndGlyphs">8.0</text><text x="1186.2" y="1261.7" font-size="30" textLength="16.5" lengthAdjust="spacingAndGlyphs">×</text><text x="1201.2" y="1261.7" font-size="32.6" font-weight="bold" textLength="35" lengthAdjust="spacingAndGlyphs">10</text><text x="1239.3" y="1250.7" font-size="21" font-weight="bold">7</text>
<text x="1142.2" y="1308.4" font-size="32.6" font-weight="bold" textLength="43" lengthAdjust="spacingAndGlyphs">6.0</text><text x="1186.2" y="1308.4" font-size="30" textLength="16.5" lengthAdjust="spacingAndGlyphs">×</text><text x="1201.2" y="1308.4" font-size="32.6" font-weight="bold" textLength="35" lengthAdjust="spacingAndGlyphs">10</text><text x="1239.3" y="1297.4" font-size="21" font-weight="bold">7</text>
<text x="1142.2" y="1354.7" font-size="32.6" font-weight="bold" textLength="43" lengthAdjust="spacingAndGlyphs">4.0</text><text x="1186.2" y="1354.7" font-size="30" textLength="16.5" lengthAdjust="spacingAndGlyphs">×</text><text x="1201.2" y="1354.7" font-size="32.6" font-weight="bold" textLength="35" lengthAdjust="spacingAndGlyphs">10</text><text x="1239.3" y="1343.7" font-size="21" font-weight="bold">7</text>
<text x="1142.2" y="1401.4" font-size="32.6" font-weight="bold" textLength="43" lengthAdjust="spacingAndGlyphs">2.0</text><text x="1186.2" y="1401.4" font-size="30" textLength="16.5" lengthAdjust="spacingAndGlyphs">×</text><text x="1201.2" y="1401.4" font-size="32.6" font-weight="bold" textLength="35" lengthAdjust="spacingAndGlyphs">10</text><text x="1239.3" y="1390.4" font-size="21" font-weight="bold">7</text>
<text x="1142.2" y="1458.8" font-size="32.6" font-weight="bold" textLength="43" lengthAdjust="spacingAndGlyphs">6.0</text><text x="1186.2" y="1458.8" font-size="30" textLength="16.5" lengthAdjust="spacingAndGlyphs">×</text><text x="1201.2" y="1458.8" font-size="32.6" font-weight="bold" textLength="35" lengthAdjust="spacingAndGlyphs">10</text><text x="1239.3" y="1447.8" font-size="21" font-weight="bold">6</text>
<text x="1142.2" y="1528.1" font-size="32.6" font-weight="bold" textLength="43" lengthAdjust="spacingAndGlyphs">4.0</text><text x="1186.2" y="1528.1" font-size="30" textLength="16.5" lengthAdjust="spacingAndGlyphs">×</text><text x="1201.2" y="1528.1" font-size="32.6" font-weight="bold" textLength="35" lengthAdjust="spacingAndGlyphs">10</text><text x="1239.3" y="1517.1" font-size="21" font-weight="bold">6</text>
<text x="1142.2" y="1597.7" font-size="32.6" font-weight="bold" textLength="43" lengthAdjust="spacingAndGlyphs">2.0</text><text x="1186.2" y="1597.7" font-size="30" textLength="16.5" lengthAdjust="spacingAndGlyphs">×</text><text x="1201.2" y="1597.7" font-size="32.6" font-weight="bold" textLength="35" lengthAdjust="spacingAndGlyphs">10</text><text x="1239.3" y="1586.7" font-size="21" font-weight="bold">6</text>
<text x="1258.5" y="1667.3" font-size="32.6" text-anchor="end" font-weight="bold">0</text>
<text transform="translate(1044.1 1430) rotate(-90)" font-size="38" text-anchor="middle" font-weight="bold" textLength="52.6" lengthAdjust="spacingAndGlyphs">TAI</text>
<text transform="translate(1089.1 1429.7) rotate(-90)" font-size="38" text-anchor="middle" font-weight="bold" textLength="68.2" lengthAdjust="spacingAndGlyphs">LTR</text>
<text x="1051.6" y="1180.8" font-size="52.5" font-weight="bold" textLength="35.6" lengthAdjust="spacingAndGlyphs">C</text>
<path d="M1397.6 1328.9H1728.3M1500.4 1296.5H1825.6M1799.7 1253.8H1918.4M1646.2 1219.5H1925" stroke="#000" stroke-width="2.3" fill="none"/>
<text x="1705.4" y="1328.2" font-size="30" text-anchor="middle" font-weight="bold" letter-spacing="4.3">***</text>
<text x="1810.5" y="1280.8" font-size="30" text-anchor="middle" font-weight="bold" letter-spacing="4.3">**</text>
<text x="1901.3" y="1250.7" font-size="30" text-anchor="middle" font-weight="bold" letter-spacing="4.3">***</text>
<text x="1894.3" y="1209.8" font-size="30" text-anchor="middle" font-weight="bold" letter-spacing="4.3">***</text>
<text x="1818.3" y="1375.2" font-size="30" text-anchor="middle" font-weight="bold" letter-spacing="4.3">**</text>
<text x="1519.4" y="1562.5" font-size="30" text-anchor="middle" font-weight="bold" letter-spacing="4.3">*</text>
<text transform="translate(1334.5 1739.7) rotate(-90)" font-size="35.3" font-weight="bold" textLength="60.8" lengthAdjust="spacingAndGlyphs">C20</text>
<text transform="translate(1431.7 1803.6) rotate(-90)" font-size="35.3" font-weight="bold" textLength="115.6" lengthAdjust="spacingAndGlyphs">HC69.5</text>
<text transform="translate(1529.3 1832.8) rotate(-90)" font-size="35.3" font-weight="bold" textLength="155" lengthAdjust="spacingAndGlyphs">CBD 1<tspan font-weight="normal" font-family="'Liberation Serif','DejaVu Serif',serif" font-size="36">µ</tspan>M</text>
<text transform="translate(1625.3 1829.2) rotate(-90)" font-size="35.3" font-weight="bold" textLength="151.4" lengthAdjust="spacingAndGlyphs">THC 1<tspan font-weight="normal" font-family="'Liberation Serif','DejaVu Serif',serif" font-size="36">µ</tspan>M</text>
<text transform="translate(1723.3 1812.8) rotate(-90)" font-size="35.3" font-weight="bold" textLength="115.6" lengthAdjust="spacingAndGlyphs">HC69.5</text>
<text transform="translate(1820.1 1841) rotate(-90)" font-size="35.3" font-weight="bold" textLength="153.9" lengthAdjust="spacingAndGlyphs">CBD 1<tspan font-weight="normal" font-family="'Liberation Serif','DejaVu Serif',serif" font-size="36">µ</tspan>M</text>
<text transform="translate(1917.1 1837.9) rotate(-90)" font-size="35.3" font-weight="bold" textLength="150.9" lengthAdjust="spacingAndGlyphs">THC 1<tspan font-weight="normal" font-family="'Liberation Serif','DejaVu Serif',serif" font-size="36">µ</tspan>M</text>
<text x="1437.5" y="1879.9" font-size="31.3" textLength="178" lengthAdjust="spacingAndGlyphs">HC69.5 cells</text>
<text x="1688.2" y="1873.7" font-size="31.3" textLength="280.4" lengthAdjust="spacingAndGlyphs">100 <tspan font-family="'Liberation Serif',serif" font-size="33">µ</tspan>g/ml of poly IC</text>
<path d="M1688 1895.7H1978" stroke="#000" stroke-width="6" stroke-linecap="round" fill="none"/>
<path d="M1403 1918.3H1978" stroke="#000" stroke-width="5" stroke-linecap="round" fill="none"/>
</g>
</svg>
</body>
</html>
